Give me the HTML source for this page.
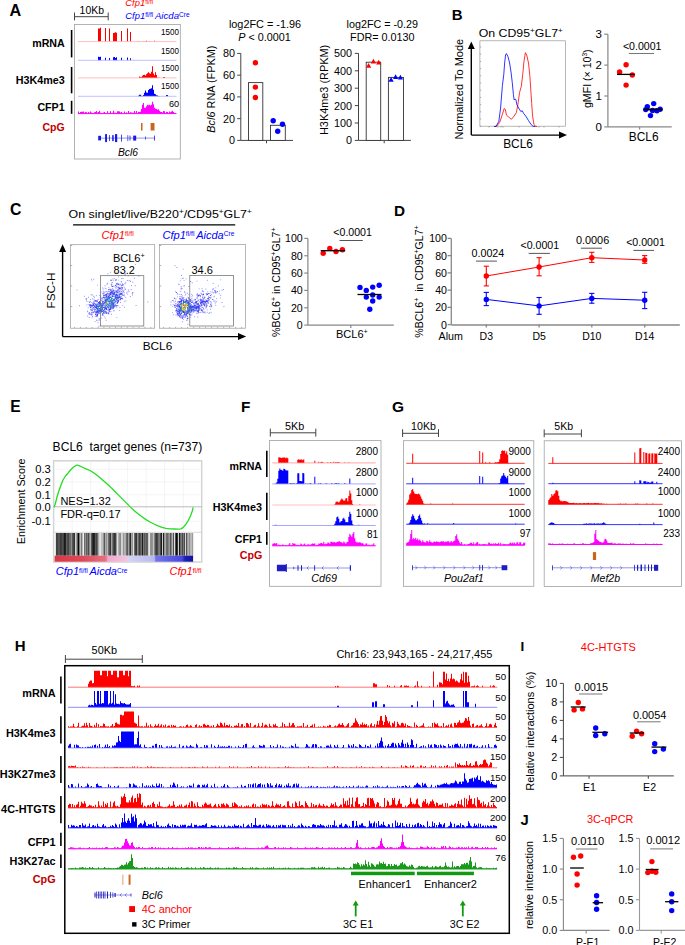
<!DOCTYPE html><html><head><meta charset="utf-8"><style>html,body{margin:0;padding:0;background:#fff;}svg{display:block;font-family:"Liberation Sans",sans-serif;}text{white-space:pre;}</style></head><body><svg width="685" height="945" viewBox="0 0 685 945"><rect width="685" height="945" fill="#fff"/><text x="9.6" y="16" font-size="16.2" font-weight="bold">A</text><line x1="74.5" y1="16.7" x2="108.2" y2="16.7" stroke="#444" stroke-width="1"/><line x1="74.5" y1="12.5" x2="74.5" y2="20.4" stroke="#444" stroke-width="1"/><line x1="108.2" y1="12.5" x2="108.2" y2="20.4" stroke="#444" stroke-width="1"/><text x="79.6" y="13.7" font-size="10.45">10Kb</text><text transform="translate(125.3,6.4)" fill="#ff0000"><tspan x="0" y="0" font-size="9.4" font-style="italic">Cfp1</tspan><tspan x="19.86" y="-2.2" font-size="6.3">fl/fl</tspan></text><text transform="translate(125.3,19.3)" fill="#0000ff"><tspan x="0" y="0" font-size="9.4" font-style="italic">Cfp1</tspan><tspan x="19.86" y="-2.2" font-size="6.3">fl/fl</tspan><tspan x="27.91" y="0" font-size="6.4" font-style="italic"> </tspan><tspan x="29.68" y="0" font-size="9.6" font-style="italic">Aicda</tspan><tspan x="53.7" y="-2.2" font-size="6.6">Cre</tspan></text><rect x="74.5" y="24.4" width="105.8" height="134.6" fill="none" stroke="#a0a0a0" stroke-width="0.8"/><text x="32.2" y="47.3" font-size="10.67" font-weight="bold">mRNA</text><text x="15.78" y="83.8" font-size="10.75" font-weight="bold">H3K4me3</text><text x="37.39" y="110.5" font-size="10.65" font-weight="bold">CFP1</text><text x="42.44" y="130.5" font-size="10.5" font-weight="bold" fill="#c00000">CpG</text><line x1="71.6" y1="30" x2="71.6" y2="57.4" stroke="#000" stroke-width="1.6"/><line x1="71.6" y1="67" x2="71.6" y2="93.3" stroke="#000" stroke-width="1.6"/><line x1="71.6" y1="100.8" x2="71.6" y2="113.8" stroke="#000" stroke-width="1.6"/><path d="M78 41.6V41.6H79V41.6H80V41.6H81V41.6H82V41.6H83V41.6H84V41.6H85V41.6H86V41.6H87V41.6H88V41.6H89V41.6H90V41.6H91V41.6H92V41.6H93V41.6H94V41.6H95V41.6H96V41.6H97V41.6H98V28.46H99V28.45H100V27.84H101V41.6H102V41.6H103V41.6H104V41.6H105V28.06H106V41.6H107V41.6H108V41.6H109V28.57H110V41.6H111V41.6H112V41.6H113V32.97H114V32.87H115V32.35H116V32.78H117V41.6H118V41.6H119V41.6H120V41.6H121V31H122V41.6H123V41.6H124V41.6H125V41.6H126V41.6H127V28.6H128V41.6H129V41.6H130V32H131V41.6H132V41.6H133V41.6H134V41.6H135V41.6H136V41.6H137V41.6H138V41.08H139V41.6H140V41.6H141V41.6H142V41.6H143V41.16H144V41.31H145V41.13H146V40.77H147V41.6H148V41.6H149V41.31H150V41.24H151V41.6H152V41.6H153V41.6H154V40.77H155V41.6H156V41.6H157V41.6H158V41.6H159V41.6H160V41.6H161V41.6H162V41.6H163V41.6H164V41.6H165V41.6H166V41.6H167V41.6H168V41.6H169V41.6H170V41.6H171V41.6H172V41.6H173V41.6H174V41.6H175V41.6H176V41.6Z" fill="#ff0000"/><line x1="78" y1="41.6" x2="176.5" y2="41.6" stroke="#ffb0b0" stroke-width="0.8"/><text transform="translate(161.1,35.3) scale(0.879,1)" font-size="9.2">1500</text><path d="M78 60.3V60.3H79V60.3H80V60.3H81V60.3H82V60.3H83V60.3H84V60.3H85V60.3H86V60.3H87V60.3H88V60.3H89V60.3H90V60.3H91V60.3H92V60.3H93V60.3H94V60.3H95V60.3H96V60.3H97V60.3H98V56.68H99V56.91H100V56.78H101V60.3H102V60.3H103V60.3H104V60.3H105V57.66H106V60.3H107V60.3H108V60.3H109V58.03H110V60.3H111V60.3H112V60.3H113V57.16H114V57.11H115V57.9H116V57.35H117V60.3H118V60.3H119V60.3H120V60.3H121V57.8H122V60.3H123V60.3H124V60.3H125V60.3H126V60.3H127V57.5H128V60.3H129V60.3H130V58.3H131V60.3H132V60.3H133V60.3H134V60.3H135V60.3H136V60.3H137V60.3H138V60.3H139V60.3H140V60.3H141V60.3H142V60.3H143V60.3H144V60.3H145V60.3H146V60.3H147V60.3H148V60.3H149V60.3H150V60.3H151V60.3H152V60.3H153V60.3H154V60.3H155V60.3H156V60.3H157V60.3H158V60.3H159V60.3H160V60.3H161V60.3H162V60.3H163V60.3H164V60.3H165V60.3H166V60.3H167V60.3H168V60.3H169V60.3H170V60.3H171V60.3H172V60.3H173V60.3H174V60.3H175V60.3H176V60.3Z" fill="#0000ff"/><line x1="78" y1="60.3" x2="176.5" y2="60.3" stroke="#b0b0ff" stroke-width="0.8"/><text transform="translate(161.1,53.6) scale(0.879,1)" font-size="9.2">1500</text><path d="M78 77.9V77.9H79V77.9H80V77.9H81V77.9H82V77.9H83V77.9H84V77.9H85V77.9H86V77.9H87V77.9H88V77.9H89V77.9H90V77.9H91V77.9H92V77.9H93V77.9H94V77.9H95V77.9H96V77.9H97V77.9H98V77.9H99V77.9H100V77.9H101V77.9H102V77.9H103V77.9H104V77.9H105V77.9H106V77.9H107V77.9H108V77.9H109V77.9H110V77.9H111V77.9H112V77.9H113V77.9H114V77.9H115V77.9H116V77.9H117V77.9H118V77.9H119V77.9H120V77.9H121V77.9H122V77.9H123V77.9H124V77.9H125V77.9H126V77.9H127V77.9H128V77.9H129V77.9H130V77.9H131V77.9H132V77.9H133V77.9H134V77.9H135V77.9H136V77.9H137V77.9H138V77.9H139V76.4H140V76.9H141V76.95H142V75.77H143V75.02H144V74.73H145V75.5H146V74.22H147V73.34H148V72.22H149V73.2H150V73.75H151V71.69H152V66.28H153V73.46H154V75.28H155V72.14H156V75.02H157V77.52H158V77.73H159V77.82H160V77.9H161V77.9H162V77.9H163V77.1H164V77.1H165V77.9H166V77.9H167V77.9H168V77.9H169V77.9H170V77.9H171V77.9H172V77.9H173V77.9H174V77.9H175V77.9H176V77.9Z" fill="#ff0000"/><line x1="78" y1="77.9" x2="176.5" y2="77.9" stroke="#ffb0b0" stroke-width="0.8"/><text transform="translate(161.1,71.3) scale(0.879,1)" font-size="9.2">1500</text><path d="M78 96.3V96.3H79V96.3H80V96.3H81V96.3H82V96.3H83V96.3H84V96.3H85V96.3H86V96.3H87V96.3H88V96.3H89V96.3H90V96.3H91V96.3H92V96.3H93V96.3H94V96.3H95V96.3H96V96.3H97V96.3H98V96.3H99V96.3H100V96.3H101V96.3H102V96.3H103V96.3H104V96.3H105V96.3H106V96.3H107V96.3H108V96.3H109V96.3H110V96.3H111V96.3H112V96.3H113V96.3H114V96.3H115V96.3H116V96.3H117V96.3H118V96.3H119V96.3H120V96.3H121V96.3H122V96.3H123V96.3H124V96.3H125V96.3H126V96.3H127V96.3H128V96.3H129V96.3H130V96.3H131V96.3H132V96.3H133V96.3H134V96.3H135V96.3H136V96.3H137V96.22H138V95.75H139V94.87H140V94.86H141V95.71H142V95.93H143V95.01H144V92.71H145V90.61H146V92.5H147V92.79H148V89.94H149V89.05H150V88.71H151V88.27H152V85.26H153V89.78H154V93.74H155V94.2H156V95.15H157V95.52H158V95.94H159V96.11H160V96.18H161V96.25H162V96.3H163V96.3H164V96.3H165V96.3H166V95H167V95H168V96.3H169V96.3H170V96.3H171V96.3H172V96.3H173V96.3H174V96.3H175V96.3H176V96.3Z" fill="#0000ff"/><line x1="78" y1="96.3" x2="176.5" y2="96.3" stroke="#b0b0ff" stroke-width="0.8"/><text transform="translate(161.1,89.4) scale(0.879,1)" font-size="9.2">1500</text><path d="M78 113.6V111.48H79V112.94H80V112.05H81V111.71H82V111.68H83V111.56H84V112.69H85V111.98H86V112.36H87V112.93H88V111.97H89V112.83H90V111.56H91V112.62H92V113.01H93V112.9H94V112.27H95V112.07H96V111.01H97V112.46H98V111.93H99V110.81H100V112.79H101V112.88H102V113.08H103V112.44H104V112.05H105V113.01H106V113.05H107V111.3H108V113.1H109V113.1H110V111.14H111V112.88H112V112.74H113V110.7H114V112.67H115V112.72H116V112.96H117V111.19H118V111.2H119V111.44H120V112.46H121V111.9H122V113.08H123V112.93H124V111.62H125V113.1H126V112.27H127V112.94H128V111.03H129V112.7H130V112.2H131V112.56H132V112.76H133V112.85H134V111.06H135V112.85H136V110.99H137V113.05H138V111.86H139V112.02H140V111.63H141V109.11H142V104.73H143V103.02H144V107.86H145V107.82H146V106.32H147V104.83H148V105.31H149V104.8H150V105.56H151V104.73H152V101.68H153V104.15H154V107.72H155V108.81H156V108.99H157V109.64H158V109.29H159V110.69H160V111.7H161V111.89H162V112.39H163V111.06H164V111.31H165V113.07H166V111.75H167V112.08H168V113H169V111.61H170V112.26H171V111.6H172V110.72H173V111.98H174V113.08H175V113.1H176V113.6Z" fill="#ff00ff"/><line x1="78" y1="113.6" x2="176.5" y2="113.6" stroke="#ff00ff" stroke-width="1"/><text x="168.89" y="107.2" font-size="9.2">60</text><rect x="141" y="123" width="1.5" height="7.5" fill="#c8641e"/><rect x="150.6" y="123" width="3.9" height="7.5" fill="#c8641e"/><line x1="98.5" y1="138.1" x2="154.6" y2="138.1" stroke="#7b7be0" stroke-width="0.8"/><rect x="98.2" y="135.8" width="2.8" height="4.6" fill="#1a1ae6"/><rect x="105.1" y="134.1" width="1.9" height="8" fill="#1a1ae6"/><rect x="109.2" y="135.1" width="0.8" height="6" fill="#1a1ae6"/><rect x="112" y="135.1" width="0.8" height="6" fill="#1a1ae6"/><rect x="113.3" y="135.1" width="0.7" height="6" fill="#1a1ae6"/><rect x="115" y="134.1" width="2.2" height="8" fill="#1a1ae6"/><rect x="121.1" y="134.6" width="0.8" height="7" fill="#1a1ae6"/><rect x="127.5" y="135.1" width="0.7" height="6" fill="#1a1ae6"/><rect x="129.6" y="135.6" width="0.8" height="5" fill="#1a1ae6"/><rect x="133.2" y="135.6" width="3" height="5" fill="#1a1ae6"/><rect x="145.3" y="136.6" width="0.7" height="3" fill="#1a1ae6"/><rect x="154.2" y="135.6" width="0.8" height="5" fill="#1a1ae6"/><text x="117.9" y="155.8" font-size="10.3" font-style="italic">Bcl6</text><text x="228.9" y="27.85" font-size="10.88">log2FC = -1.96</text><text transform="translate(238.2,41)"><tspan x="0" y="0" font-size="10.8" font-style="italic">P</tspan><tspan x="7.2" y="0" font-size="10.8"> &lt; 0.0001</tspan></text><line x1="240.8" y1="53.4" x2="240.8" y2="140.4" stroke="#444" stroke-width="1"/><line x1="237.2" y1="53.4" x2="240.8" y2="53.4" stroke="#444" stroke-width="1"/><text x="223.01" y="57.3" font-size="10.8">80</text><line x1="237.2" y1="75.15" x2="240.8" y2="75.15" stroke="#444" stroke-width="1"/><text x="223.01" y="79.05" font-size="10.8">60</text><line x1="237.2" y1="96.9" x2="240.8" y2="96.9" stroke="#444" stroke-width="1"/><text x="223.01" y="100.8" font-size="10.8">40</text><line x1="237.2" y1="118.65" x2="240.8" y2="118.65" stroke="#444" stroke-width="1"/><text x="223.01" y="122.55" font-size="10.8">20</text><line x1="237.2" y1="140.4" x2="240.8" y2="140.4" stroke="#444" stroke-width="1"/><text x="229.01" y="144.3" font-size="10.8">0</text><line x1="240.8" y1="140.4" x2="293" y2="140.4" stroke="#444" stroke-width="1"/><line x1="266.5" y1="140.4" x2="266.5" y2="143.3" stroke="#444" stroke-width="1"/><rect x="248.5" y="82.6" width="14.3" height="57.8" fill="#fff" stroke="#333" stroke-width="0.9"/><rect x="270.5" y="125.3" width="14.8" height="15.1" fill="#fff" stroke="#333" stroke-width="0.9"/><circle cx="255.4" cy="62.7" r="2.7" fill="#ff0000"/><circle cx="255.4" cy="87.1" r="2.7" fill="#ff0000"/><circle cx="255.4" cy="97.5" r="2.7" fill="#ff0000"/><circle cx="273.2" cy="120.8" r="2.7" fill="#0000ff"/><circle cx="282.5" cy="124.3" r="2.7" fill="#0000ff"/><circle cx="277.7" cy="131.2" r="2.7" fill="#0000ff"/><text transform="translate(214.9,89.1) rotate(-90)"><tspan x="-43.61" y="0" font-size="10.9" font-style="italic">Bcl6</tspan><tspan x="-22.4" y="0" font-size="10.9"> RNA (FPKM)</tspan></text><text x="346.6" y="27.85" font-size="10.75">log2FC = -0.29</text><text x="350.1" y="41" font-size="10.8">FDR= 0.0130</text><line x1="358.5" y1="53.4" x2="358.5" y2="140.4" stroke="#444" stroke-width="1"/><line x1="354.8" y1="53.4" x2="358.5" y2="53.4" stroke="#444" stroke-width="1"/><text x="333.96" y="57.3" font-size="10.8">500</text><line x1="354.8" y1="70.8" x2="358.5" y2="70.8" stroke="#444" stroke-width="1"/><text x="333.96" y="74.7" font-size="10.8">400</text><line x1="354.8" y1="88.2" x2="358.5" y2="88.2" stroke="#444" stroke-width="1"/><text x="333.96" y="92.1" font-size="10.8">300</text><line x1="354.8" y1="105.6" x2="358.5" y2="105.6" stroke="#444" stroke-width="1"/><text x="333.96" y="109.5" font-size="10.8">200</text><line x1="354.8" y1="123" x2="358.5" y2="123" stroke="#444" stroke-width="1"/><text x="333.96" y="126.9" font-size="10.8">100</text><line x1="354.8" y1="140.4" x2="358.5" y2="140.4" stroke="#444" stroke-width="1"/><text x="346.01" y="144.3" font-size="10.8">0</text><line x1="358.5" y1="140.4" x2="410.9" y2="140.4" stroke="#444" stroke-width="1"/><line x1="384.2" y1="140.4" x2="384.2" y2="143.3" stroke="#444" stroke-width="1"/><rect x="366.2" y="62.2" width="14.5" height="78.2" fill="#fff" stroke="#333" stroke-width="0.9"/><rect x="388.4" y="77.4" width="15.1" height="63" fill="#fff" stroke="#333" stroke-width="0.9"/><path d="M366 67.74L371.2 67.74L368.6 63.06Z" fill="#ff0000"/><path d="M370.8 63.44L376 63.44L373.4 58.76Z" fill="#ff0000"/><path d="M376.1 64.54L381.3 64.54L378.7 59.86Z" fill="#ff0000"/><path d="M388.5 81.74L393.7 81.74L391.1 77.06Z" fill="#0000ff"/><path d="M393 78.94L398.2 78.94L395.6 74.26Z" fill="#0000ff"/><path d="M397.8 79.44L403 79.44L400.4 74.76Z" fill="#0000ff"/><text transform="translate(327.5,89.9) rotate(-90)"><tspan x="-45.13" y="0" font-size="10.9">H3K4me3 (RPKM)</tspan></text><text x="451.8" y="19.5" font-size="15" font-weight="bold">B</text><text transform="translate(478.7,37) scale(1.045,1)"><tspan x="0" y="0" font-size="11.8">On CD95</tspan><tspan x="49.19" y="-4.3" font-size="7.7">+</tspan><tspan x="53.69" y="0" font-size="11.8">GL7</tspan><tspan x="75.99" y="-4.3" font-size="7.7">+</tspan></text><rect x="479.9" y="40.8" width="85.7" height="85.4" fill="none" stroke="#999" stroke-width="0.7"/><line x1="471.3" y1="135.1" x2="471.3" y2="48" stroke="#000" stroke-width="1.4"/><path d="M467.8 49L471.3 41.5L474.8 49Z" fill="#000"/><line x1="471.3" y1="135.1" x2="560" y2="135.1" stroke="#000" stroke-width="1.4"/><path d="M559 131.6L567 135.1L559 138.6Z" fill="#000"/><text transform="translate(463,89.2) rotate(-90)"><tspan x="-50.34" y="0" font-size="11">Normalized To Mode</tspan></text><text x="503.2" y="148" font-size="11.9">BCL6</text><line x1="479.9" y1="126.2" x2="481.2" y2="126.2" stroke="#666" stroke-width="0.5"/><line x1="479.9" y1="119" x2="481.2" y2="119" stroke="#666" stroke-width="0.5"/><line x1="479.9" y1="111.8" x2="481.2" y2="111.8" stroke="#666" stroke-width="0.5"/><line x1="479.9" y1="104.6" x2="481.2" y2="104.6" stroke="#666" stroke-width="0.5"/><line x1="479.9" y1="97.4" x2="481.2" y2="97.4" stroke="#666" stroke-width="0.5"/><line x1="479.9" y1="90.2" x2="481.2" y2="90.2" stroke="#666" stroke-width="0.5"/><line x1="479.9" y1="83" x2="481.2" y2="83" stroke="#666" stroke-width="0.5"/><line x1="479.9" y1="75.8" x2="481.2" y2="75.8" stroke="#666" stroke-width="0.5"/><line x1="479.9" y1="68.6" x2="481.2" y2="68.6" stroke="#666" stroke-width="0.5"/><line x1="479.9" y1="61.4" x2="481.2" y2="61.4" stroke="#666" stroke-width="0.5"/><line x1="479.9" y1="54.2" x2="481.2" y2="54.2" stroke="#666" stroke-width="0.5"/><line x1="479.9" y1="47" x2="481.2" y2="47" stroke="#666" stroke-width="0.5"/><line x1="489" y1="126.2" x2="489" y2="127.6" stroke="#666" stroke-width="0.5"/><line x1="498" y1="126.2" x2="498" y2="127.6" stroke="#666" stroke-width="0.5"/><line x1="501" y1="126.2" x2="501" y2="127.6" stroke="#666" stroke-width="0.5"/><line x1="503" y1="126.2" x2="503" y2="127.6" stroke="#666" stroke-width="0.5"/><line x1="519" y1="126.2" x2="519" y2="127.6" stroke="#666" stroke-width="0.5"/><line x1="539" y1="126.2" x2="539" y2="127.6" stroke="#666" stroke-width="0.5"/><line x1="544" y1="126.2" x2="544" y2="127.6" stroke="#666" stroke-width="0.5"/><line x1="559" y1="126.2" x2="559" y2="127.6" stroke="#666" stroke-width="0.5"/><polyline points="494.5,126.5 496.6,126.3 499.7,122.4 502.4,114.3 504.2,108.5 505.3,109.4 506.5,115.2 508.7,117 511.4,119.3 514.1,116.1 516.4,112.5 518.2,102.6 519.5,92.7 521.3,86.4 522.7,74.7 524,61.2 525.4,52.7 526.7,54.9 528.5,63 529.9,76.5 530.8,90 531.7,103.5 532.6,116.1 533.9,124.2 535.3,126.3 537,126.5" fill="none" stroke="#ff0000" stroke-width="0.8" stroke-linejoin="round"/><polyline points="494,126.5 496.1,126.3 498.8,121.5 500.6,108 502.4,85.5 503.75,74.7 504.65,63 505.55,54.9 506.45,53.6 508,56.7 509.6,63 511,72 512.3,82.8 513.4,94.5 514.1,99.9 515,99 515.9,99.5 516.8,104.4 518.6,108 520.9,111.6 522.2,110.7 523.6,113.4 525.8,116.1 528.5,120.6 531.2,124.7 533,126.3 535,126.5" fill="none" stroke="#0000ff" stroke-width="0.8" stroke-linejoin="round"/><line x1="607.9" y1="34.2" x2="607.9" y2="126.9" stroke="#888" stroke-width="1.2"/><line x1="604.3" y1="34.2" x2="607.9" y2="34.2" stroke="#888" stroke-width="1.2"/><text x="595.62" y="38.4" font-size="11.5">3</text><line x1="604.3" y1="65.1" x2="607.9" y2="65.1" stroke="#888" stroke-width="1.2"/><text x="595.62" y="69.3" font-size="11.5">2</text><line x1="604.3" y1="96" x2="607.9" y2="96" stroke="#888" stroke-width="1.2"/><text x="595.62" y="100.2" font-size="11.5">1</text><line x1="604.3" y1="126.9" x2="607.9" y2="126.9" stroke="#888" stroke-width="1.2"/><text x="595.62" y="131.1" font-size="11.5">0</text><line x1="607.9" y1="126.9" x2="671.7" y2="126.9" stroke="#888" stroke-width="1.2"/><line x1="639.6" y1="126.9" x2="639.6" y2="129.6" stroke="#888" stroke-width="1.2"/><text x="628.8" y="141.3" font-size="11.9">BCL6</text><text x="622.9" y="49.8" font-size="10.6">&lt;0.0001</text><line x1="628.8" y1="53.5" x2="654" y2="53.5" stroke="#777" stroke-width="1"/><text transform="translate(591,78.7) rotate(-90)"><tspan x="-29.35" y="0" font-size="10.6">gMFI (× 10</tspan><tspan x="22.2" y="-4" font-size="6.5">3</tspan><tspan x="25.82" y="0" font-size="10.6">)</tspan></text><circle cx="626.1" cy="64.7" r="2.7" fill="#ff0000"/><circle cx="619.6" cy="72" r="2.7" fill="#ff0000"/><circle cx="632.3" cy="75" r="2.7" fill="#ff0000"/><circle cx="626.1" cy="85.1" r="2.7" fill="#ff0000"/><line x1="617" y1="74.4" x2="634.7" y2="74.4" stroke="#000" stroke-width="1.3"/><circle cx="647.3" cy="106.8" r="2.7" fill="#0000ff"/><circle cx="653.7" cy="103.6" r="2.7" fill="#0000ff"/><circle cx="656.9" cy="110.8" r="2.7" fill="#0000ff"/><circle cx="660.1" cy="109.2" r="2.7" fill="#0000ff"/><circle cx="650.5" cy="115.6" r="2.7" fill="#0000ff"/><circle cx="645.7" cy="109.6" r="2.7" fill="#0000ff"/><circle cx="652.5" cy="110.5" r="2.7" fill="#0000ff"/><line x1="644" y1="109.5" x2="662.5" y2="109.5" stroke="#000" stroke-width="1.8"/><text x="9.9" y="214.9" font-size="15.8" font-weight="bold">C</text><text transform="translate(68.5,218.4) scale(1.070,1)"><tspan x="0" y="0" font-size="11.6">On singlet/live/B220</tspan><tspan x="103.17" y="-4.2" font-size="7.6">+</tspan><tspan x="107.61" y="0" font-size="11.6">/CD95</tspan><tspan x="140.49" y="-4.2" font-size="7.6">+</tspan><tspan x="144.93" y="0" font-size="11.6">GL7</tspan><tspan x="166.86" y="-4.2" font-size="7.6">+</tspan></text><line x1="73.1" y1="224.8" x2="235.2" y2="224.8" stroke="#000" stroke-width="1.3"/><text transform="translate(101.6,238.6)" fill="#ff0000"><tspan x="0" y="0" font-size="11.1" font-style="italic">Cfp1</tspan><tspan x="23.45" y="-2.4" font-size="6.8">fl/fl</tspan></text><text transform="translate(162.4,238.6)" fill="#0000ff"><tspan x="0" y="0" font-size="11.1" font-style="italic">Cfp1</tspan><tspan x="23.45" y="-2.4" font-size="6.8">fl/fl</tspan><tspan x="32.14" y="0" font-size="6" font-style="italic"> </tspan><tspan x="33.8" y="0" font-size="11" font-style="italic">Aicda</tspan><tspan x="61.32" y="-2.4" font-size="6.6">Cre</tspan></text><rect x="70.6" y="244.7" width="84.1" height="83.5" fill="none" stroke="#999" stroke-width="0.7"/><rect x="159.6" y="244.4" width="86" height="83.8" fill="none" stroke="#999" stroke-width="0.7"/><line x1="62.6" y1="336.6" x2="62.6" y2="251" stroke="#000" stroke-width="1.4"/><path d="M59.1 252L62.6 244.2L66.1 252Z" fill="#000"/><line x1="62.6" y1="336.6" x2="239" y2="336.6" stroke="#000" stroke-width="1.4"/><path d="M238 333.1L246.2 336.6L238 340.1Z" fill="#000"/><text transform="translate(54.6,290.5) rotate(-90)"><tspan x="-18.03" y="0" font-size="11.8">FSC-H</tspan></text><text x="142.7" y="349.5" font-size="11.8">BCL6</text><line x1="70.6" y1="245.5" x2="72.2" y2="245.5" stroke="#777" stroke-width="0.6"/><line x1="70.6" y1="265.5" x2="72.2" y2="265.5" stroke="#777" stroke-width="0.6"/><line x1="70.6" y1="286" x2="72.2" y2="286" stroke="#777" stroke-width="0.6"/><line x1="70.6" y1="306.6" x2="72.2" y2="306.6" stroke="#777" stroke-width="0.6"/><line x1="159.6" y1="245.5" x2="161.2" y2="245.5" stroke="#777" stroke-width="0.6"/><line x1="159.6" y1="265.5" x2="161.2" y2="265.5" stroke="#777" stroke-width="0.6"/><line x1="159.6" y1="286" x2="161.2" y2="286" stroke="#777" stroke-width="0.6"/><line x1="159.6" y1="306.6" x2="161.2" y2="306.6" stroke="#777" stroke-width="0.6"/><line x1="74.6" y1="328.2" x2="74.6" y2="326.9" stroke="#777" stroke-width="0.5"/><line x1="80.45" y1="328.2" x2="80.45" y2="326.9" stroke="#777" stroke-width="0.5"/><line x1="86.31" y1="328.2" x2="86.31" y2="326.9" stroke="#777" stroke-width="0.5"/><line x1="92.16" y1="328.2" x2="92.16" y2="326.9" stroke="#777" stroke-width="0.5"/><line x1="98.02" y1="328.2" x2="98.02" y2="326.9" stroke="#777" stroke-width="0.5"/><line x1="103.87" y1="328.2" x2="103.87" y2="326.9" stroke="#777" stroke-width="0.5"/><line x1="109.72" y1="328.2" x2="109.72" y2="326.9" stroke="#777" stroke-width="0.5"/><line x1="115.58" y1="328.2" x2="115.58" y2="326.9" stroke="#777" stroke-width="0.5"/><line x1="121.43" y1="328.2" x2="121.43" y2="326.9" stroke="#777" stroke-width="0.5"/><line x1="127.28" y1="328.2" x2="127.28" y2="326.9" stroke="#777" stroke-width="0.5"/><line x1="133.14" y1="328.2" x2="133.14" y2="326.9" stroke="#777" stroke-width="0.5"/><line x1="138.99" y1="328.2" x2="138.99" y2="326.9" stroke="#777" stroke-width="0.5"/><line x1="144.85" y1="328.2" x2="144.85" y2="326.9" stroke="#777" stroke-width="0.5"/><line x1="150.7" y1="328.2" x2="150.7" y2="326.9" stroke="#777" stroke-width="0.5"/><line x1="163.6" y1="328.2" x2="163.6" y2="326.9" stroke="#777" stroke-width="0.5"/><line x1="169.6" y1="328.2" x2="169.6" y2="326.9" stroke="#777" stroke-width="0.5"/><line x1="175.6" y1="328.2" x2="175.6" y2="326.9" stroke="#777" stroke-width="0.5"/><line x1="181.6" y1="328.2" x2="181.6" y2="326.9" stroke="#777" stroke-width="0.5"/><line x1="187.6" y1="328.2" x2="187.6" y2="326.9" stroke="#777" stroke-width="0.5"/><line x1="193.6" y1="328.2" x2="193.6" y2="326.9" stroke="#777" stroke-width="0.5"/><line x1="199.6" y1="328.2" x2="199.6" y2="326.9" stroke="#777" stroke-width="0.5"/><line x1="205.6" y1="328.2" x2="205.6" y2="326.9" stroke="#777" stroke-width="0.5"/><line x1="211.6" y1="328.2" x2="211.6" y2="326.9" stroke="#777" stroke-width="0.5"/><line x1="217.6" y1="328.2" x2="217.6" y2="326.9" stroke="#777" stroke-width="0.5"/><line x1="223.6" y1="328.2" x2="223.6" y2="326.9" stroke="#777" stroke-width="0.5"/><line x1="229.6" y1="328.2" x2="229.6" y2="326.9" stroke="#777" stroke-width="0.5"/><line x1="235.6" y1="328.2" x2="235.6" y2="326.9" stroke="#777" stroke-width="0.5"/><line x1="241.6" y1="328.2" x2="241.6" y2="326.9" stroke="#777" stroke-width="0.5"/><path d="M123.71 293.79h.9v.9h-.9zM111.94 291.06h.9v.9h-.9zM109.76 288.7h.9v.9h-.9zM134.8 285.27h.9v.9h-.9zM117.02 302.16h.9v.9h-.9zM115.99 286.03h.9v.9h-.9zM118.88 293.3h.9v.9h-.9zM120.44 293.73h.9v.9h-.9zM104.86 317.71h.9v.9h-.9zM91.53 317.4h.9v.9h-.9zM96.95 313.93h.9v.9h-.9zM132.03 294.57h.9v.9h-.9zM89.79 301.24h.9v.9h-.9zM105.97 291.16h.9v.9h-.9zM119.79 293.79h.9v.9h-.9zM120.8 281.04h.9v.9h-.9zM121.18 297.73h.9v.9h-.9zM113.77 277.88h.9v.9h-.9zM111.43 282.25h.9v.9h-.9zM123.76 291.78h.9v.9h-.9zM124.45 274.29h.9v.9h-.9zM124.33 288.42h.9v.9h-.9zM92.11 303.17h.9v.9h-.9zM120.36 287.21h.9v.9h-.9zM102.04 314.4h.9v.9h-.9zM102.73 297.13h.9v.9h-.9zM109.56 292.55h.9v.9h-.9zM119.08 298.94h.9v.9h-.9zM121.23 272.09h.9v.9h-.9zM96.95 299.55h.9v.9h-.9zM89.99 301.35h.9v.9h-.9zM121.75 287.62h.9v.9h-.9zM83.9 295.79h.9v.9h-.9zM117.8 292.54h.9v.9h-.9zM97.1 312.19h.9v.9h-.9zM112.78 280.19h.9v.9h-.9zM122.68 284.91h.9v.9h-.9zM101.65 297.72h.9v.9h-.9zM93.91 296.87h.9v.9h-.9zM122.97 290.91h.9v.9h-.9zM118.29 288.47h.9v.9h-.9zM119.55 290.05h.9v.9h-.9zM121 294.35h.9v.9h-.9zM117.54 294.5h.9v.9h-.9zM109.46 288.66h.9v.9h-.9zM87.47 300.91h.9v.9h-.9zM98.56 325.81h.9v.9h-.9zM87.22 311.38h.9v.9h-.9zM115.01 300.84h.9v.9h-.9zM110.55 310.9h.9v.9h-.9zM113.61 289.67h.9v.9h-.9zM92.21 298.24h.9v.9h-.9zM115.68 284.57h.9v.9h-.9zM120.78 291.41h.9v.9h-.9zM107.17 292.85h.9v.9h-.9zM116.44 271.84h.9v.9h-.9zM91.5 280.4h.9v.9h-.9zM130.75 289.01h.9v.9h-.9zM104.89 311.37h.9v.9h-.9zM125.35 281.82h.9v.9h-.9zM122.34 294.22h.9v.9h-.9zM132.29 281.87h.9v.9h-.9zM105.67 311.44h.9v.9h-.9zM132.82 272.69h.9v.9h-.9zM117.67 291.77h.9v.9h-.9zM115.57 286.91h.9v.9h-.9zM106.4 312.73h.9v.9h-.9zM95.87 295.28h.9v.9h-.9zM90.69 309.67h.9v.9h-.9zM103.54 312.48h.9v.9h-.9zM94.74 315.82h.9v.9h-.9zM95.05 312.72h.9v.9h-.9zM85.79 304.69h.9v.9h-.9zM93.29 278.79h.9v.9h-.9zM116.26 302.9h.9v.9h-.9zM101.11 312.19h.9v.9h-.9zM115.65 284.72h.9v.9h-.9zM90.1 299.06h.9v.9h-.9zM100.27 299.52h.9v.9h-.9zM97.15 284.7h.9v.9h-.9zM100.28 298.9h.9v.9h-.9zM105.21 296.99h.9v.9h-.9zM118.27 282.91h.9v.9h-.9zM102.34 287.47h.9v.9h-.9zM93.44 301.23h.9v.9h-.9zM122.02 297.63h.9v.9h-.9zM92.08 316h.9v.9h-.9zM122.26 298.79h.9v.9h-.9zM110.91 284.47h.9v.9h-.9zM87.6 304.19h.9v.9h-.9zM115.11 303.63h.9v.9h-.9zM93.19 306.63h.9v.9h-.9zM120.13 302.1h.9v.9h-.9zM117.99 284.12h.9v.9h-.9zM101.3 291.63h.9v.9h-.9zM91.34 301.88h.9v.9h-.9zM90.55 306.17h.9v.9h-.9zM98.92 319.72h.9v.9h-.9zM119.47 307.09h.9v.9h-.9zM124.37 295.65h.9v.9h-.9zM117.18 286.87h.9v.9h-.9zM116.58 291.91h.9v.9h-.9zM122.34 294.92h.9v.9h-.9zM125.14 288.64h.9v.9h-.9zM115.59 280.11h.9v.9h-.9zM90.51 310.42h.9v.9h-.9zM122.08 283.21h.9v.9h-.9zM94.24 301.25h.9v.9h-.9zM121.37 289.2h.9v.9h-.9zM119.89 283.81h.9v.9h-.9zM96.46 316.26h.9v.9h-.9zM117.62 288.7h.9v.9h-.9zM97.01 303.61h.9v.9h-.9zM122.03 285.12h.9v.9h-.9zM101.12 297.82h.9v.9h-.9zM99.91 297.09h.9v.9h-.9zM131.88 292.95h.9v.9h-.9zM102.69 302.5h.9v.9h-.9zM110.95 289.15h.9v.9h-.9zM116.74 282.83h.9v.9h-.9zM119.13 288.36h.9v.9h-.9zM102.24 293.09h.9v.9h-.9zM126.02 292.48h.9v.9h-.9zM120.99 277.94h.9v.9h-.9zM108.35 287.21h.9v.9h-.9zM107.8 313.53h.9v.9h-.9zM109.9 271.77h.9v.9h-.9zM106.83 309.66h.9v.9h-.9zM92.35 312.65h.9v.9h-.9zM97.47 319.92h.9v.9h-.9zM121.89 289.8h.9v.9h-.9zM120.99 290.86h.9v.9h-.9zM121.16 281.51h.9v.9h-.9zM90.14 308.67h.9v.9h-.9zM95.47 315.66h.9v.9h-.9zM112.47 278.55h.9v.9h-.9zM113.01 289.75h.9v.9h-.9zM105.05 311.96h.9v.9h-.9zM101.79 314.86h.9v.9h-.9zM128.54 280.38h.9v.9h-.9zM108.63 289.38h.9v.9h-.9zM111.41 284.11h.9v.9h-.9zM111.72 285.86h.9v.9h-.9zM106.81 309.27h.9v.9h-.9zM107.73 292.69h.9v.9h-.9zM90.24 305.39h.9v.9h-.9zM105.55 288.28h.9v.9h-.9zM122.25 304.9h.9v.9h-.9zM104.57 287.71h.9v.9h-.9zM99.99 310.77h.9v.9h-.9zM121.9 287.23h.9v.9h-.9zM121.08 296.15h.9v.9h-.9zM116.32 317.14h.9v.9h-.9zM105.6 297.04h.9v.9h-.9zM111.08 313.86h.9v.9h-.9zM135.65 305.08h.9v.9h-.9zM117.48 284.46h.9v.9h-.9zM94.03 309.9h.9v.9h-.9zM91.39 315.16h.9v.9h-.9zM120.84 286.69h.9v.9h-.9zM94.77 320.9h.9v.9h-.9zM92.97 302.72h.9v.9h-.9zM124.63 288.45h.9v.9h-.9zM107.09 282.74h.9v.9h-.9zM105.62 319.86h.9v.9h-.9zM127.17 280.08h.9v.9h-.9zM79.13 305.26h.9v.9h-.9zM116.88 283.09h.9v.9h-.9zM100.51 295.69h.9v.9h-.9zM117.21 289.19h.9v.9h-.9zM113.29 310.53h.9v.9h-.9zM91.52 309.64h.9v.9h-.9zM108.86 291.02h.9v.9h-.9zM112.53 288.83h.9v.9h-.9zM116.32 306.85h.9v.9h-.9zM127.09 293.72h.9v.9h-.9zM111.88 288.23h.9v.9h-.9zM133.84 277.73h.9v.9h-.9zM87.21 315.6h.9v.9h-.9zM107.63 273.25h.9v.9h-.9zM119.22 310.14h.9v.9h-.9zM115.58 288.22h.9v.9h-.9zM119.82 298.1h.9v.9h-.9zM97.11 300.84h.9v.9h-.9zM91.09 278.8h.9v.9h-.9zM118.12 305.39h.9v.9h-.9zM121.48 286.69h.9v.9h-.9zM108.94 296.86h.9v.9h-.9zM91.65 310.02h.9v.9h-.9zM99.82 295.57h.9v.9h-.9zM131.18 285.02h.9v.9h-.9zM101.06 317.72h.9v.9h-.9zM119.26 287.33h.9v.9h-.9zM122.35 284.28h.9v.9h-.9zM90.84 312.7h.9v.9h-.9zM130.17 281.02h.9v.9h-.9zM119.79 292.81h.9v.9h-.9zM123.64 295.18h.9v.9h-.9zM127.82 275.38h.9v.9h-.9zM115.11 291.37h.9v.9h-.9zM89.28 314.08h.9v.9h-.9zM122.79 284.69h.9v.9h-.9zM104.14 316.46h.9v.9h-.9zM128.57 290.75h.9v.9h-.9zM97.66 322.33h.9v.9h-.9zM122.54 278.11h.9v.9h-.9zM110.29 309.16h.9v.9h-.9zM90.7 305.59h.9v.9h-.9zM102.44 293.37h.9v.9h-.9zM138.33 275.49h.9v.9h-.9zM102.66 288.53h.9v.9h-.9zM117.01 305.15h.9v.9h-.9zM92.72 302.19h.9v.9h-.9zM117.52 301.97h.9v.9h-.9zM115.17 280.02h.9v.9h-.9zM114.56 306.43h.9v.9h-.9zM123.81 286.84h.9v.9h-.9zM114.56 306.41h.9v.9h-.9zM102.22 301.24h.9v.9h-.9zM88.69 317h.9v.9h-.9zM93.2 295.81h.9v.9h-.9zM98.27 298.75h.9v.9h-.9zM107.99 290.77h.9v.9h-.9zM89.57 304.07h.9v.9h-.9zM91.82 308.39h.9v.9h-.9zM111.94 308.23h.9v.9h-.9zM87.73 307.31h.9v.9h-.9zM90.46 305.03h.9v.9h-.9zM124.32 300.74h.9v.9h-.9zM115.13 303.78h.9v.9h-.9zM120.58 287.77h.9v.9h-.9zM117.05 303.09h.9v.9h-.9zM90.42 307.46h.9v.9h-.9zM109.67 311.38h.9v.9h-.9zM118.24 279.7h.9v.9h-.9zM116.34 283.17h.9v.9h-.9zM103.24 296.51h.9v.9h-.9zM102.81 290.74h.9v.9h-.9zM128.14 289.51h.9v.9h-.9zM118.14 276.46h.9v.9h-.9zM124.37 283.2h.9v.9h-.9zM113.14 308.01h.9v.9h-.9zM100.61 298.57h.9v.9h-.9zM108.93 294.87h.9v.9h-.9zM120.86 286.45h.9v.9h-.9zM85.62 298.37h.9v.9h-.9zM89.48 306.2h.9v.9h-.9zM124.49 283.45h.9v.9h-.9zM104.56 285.29h.9v.9h-.9zM99.07 295.18h.9v.9h-.9zM112.89 285.85h.9v.9h-.9zM114.74 285.11h.9v.9h-.9zM110.95 285.61h.9v.9h-.9zM96.08 314.48h.9v.9h-.9zM103.3 313.15h.9v.9h-.9zM93.81 310.86h.9v.9h-.9zM124.72 283.31h.9v.9h-.9zM95.97 315.27h.9v.9h-.9zM112.21 282.19h.9v.9h-.9zM123.96 306.81h.9v.9h-.9zM104.66 291.48h.9v.9h-.9zM92.86 304.27h.9v.9h-.9zM92.55 309.1h.9v.9h-.9zM76.57 289.45h.9v.9h-.9zM117.54 289.45h.9v.9h-.9zM88.8 304.48h.9v.9h-.9zM125.6 300.43h.9v.9h-.9zM100.75 312.31h.9v.9h-.9zM125.33 289.22h.9v.9h-.9zM102.01 298.36h.9v.9h-.9zM95.18 301.07h.9v.9h-.9zM115.38 291.87h.9v.9h-.9zM110.86 283.68h.9v.9h-.9zM91.79 294.53h.9v.9h-.9zM147.39 301.49h.9v.9h-.9zM121.91 293.76h.9v.9h-.9zM87.21 310.55h.9v.9h-.9zM90.85 312.61h.9v.9h-.9zM101.06 300.35h.9v.9h-.9zM90.73 294.35h.9v.9h-.9zM125.25 297.16h.9v.9h-.9zM127.35 291.48h.9v.9h-.9zM114.61 290h.9v.9h-.9zM86.06 300.5h.9v.9h-.9zM104.12 312.67h.9v.9h-.9zM110.03 279.87h.9v.9h-.9zM129.85 296.1h.9v.9h-.9zM129.46 279.95h.9v.9h-.9zM135.02 264.16h.9v.9h-.9zM87.92 296.8h.9v.9h-.9zM104.66 291.27h.9v.9h-.9zM125.18 273.48h.9v.9h-.9zM122.07 297.84h.9v.9h-.9zM113.64 310h.9v.9h-.9z" fill="#8484ff"/><path d="M93.26 305.01h.9v.9h-.9zM98.36 306.65h.9v.9h-.9zM98.53 310.71h.9v.9h-.9zM110.66 293.88h.9v.9h-.9zM107.08 304.25h.9v.9h-.9zM95.37 312.02h.9v.9h-.9zM109.55 296.6h.9v.9h-.9zM110.66 297.09h.9v.9h-.9zM108.27 293.56h.9v.9h-.9zM103.64 298.43h.9v.9h-.9zM98.69 318.48h.9v.9h-.9zM117.8 301.43h.9v.9h-.9zM100.41 303.98h.9v.9h-.9zM106.42 312.2h.9v.9h-.9zM102.79 303.02h.9v.9h-.9zM109.67 300.54h.9v.9h-.9zM96.19 310.74h.9v.9h-.9zM96.57 304.72h.9v.9h-.9zM112.11 295.19h.9v.9h-.9zM114.43 305.22h.9v.9h-.9zM119.58 291.47h.9v.9h-.9zM106.15 309h.9v.9h-.9zM119.5 294.26h.9v.9h-.9zM116.41 290.86h.9v.9h-.9zM103.73 299.69h.9v.9h-.9zM109.57 301.8h.9v.9h-.9zM90.46 313.61h.9v.9h-.9zM99.27 303.52h.9v.9h-.9zM106.2 296.55h.9v.9h-.9zM108.25 310.41h.9v.9h-.9zM96 300.37h.9v.9h-.9zM116.25 295.32h.9v.9h-.9zM91.56 314.18h.9v.9h-.9zM96.32 311.89h.9v.9h-.9zM113.57 291.34h.9v.9h-.9zM99.19 310.35h.9v.9h-.9zM108.32 301.31h.9v.9h-.9zM108.28 303.66h.9v.9h-.9zM117.49 298.05h.9v.9h-.9zM114.33 300.01h.9v.9h-.9zM117.41 295.61h.9v.9h-.9zM115.27 284.92h.9v.9h-.9zM94.54 305.37h.9v.9h-.9zM94.86 304.12h.9v.9h-.9zM118.13 300.85h.9v.9h-.9zM113.08 302.98h.9v.9h-.9zM115.93 283.51h.9v.9h-.9zM96.8 310.36h.9v.9h-.9zM100.97 307.4h.9v.9h-.9zM117.63 298.68h.9v.9h-.9zM89.64 305.24h.9v.9h-.9zM121.2 293.29h.9v.9h-.9zM103.66 305h.9v.9h-.9zM112.6 290.19h.9v.9h-.9zM105.26 306.89h.9v.9h-.9zM104.79 299.79h.9v.9h-.9zM109.58 307.86h.9v.9h-.9zM102.23 308.98h.9v.9h-.9zM106.31 293.86h.9v.9h-.9zM93.25 311.79h.9v.9h-.9zM97.46 310.99h.9v.9h-.9zM114.81 295.23h.9v.9h-.9zM98.9 311.27h.9v.9h-.9zM109.99 309.12h.9v.9h-.9zM107.39 296.68h.9v.9h-.9zM116 293.89h.9v.9h-.9zM111.42 292.41h.9v.9h-.9zM111.36 300.97h.9v.9h-.9zM103.2 295.2h.9v.9h-.9zM96.78 310.15h.9v.9h-.9zM108.32 305.33h.9v.9h-.9zM120.68 297.75h.9v.9h-.9zM116.11 294.25h.9v.9h-.9zM117.82 283.9h.9v.9h-.9zM100.61 303.31h.9v.9h-.9zM111.38 290.53h.9v.9h-.9zM92.72 303.87h.9v.9h-.9zM116.32 298.69h.9v.9h-.9zM99.03 301.03h.9v.9h-.9zM98.03 302.1h.9v.9h-.9zM110.7 306.6h.9v.9h-.9zM98.35 305.82h.9v.9h-.9zM113.03 307.47h.9v.9h-.9zM115.64 293.83h.9v.9h-.9zM122.59 294.92h.9v.9h-.9zM118.87 296.25h.9v.9h-.9zM120.38 294.2h.9v.9h-.9zM96.5 301.34h.9v.9h-.9zM106.69 291.41h.9v.9h-.9zM105.61 294.31h.9v.9h-.9zM102.57 305.52h.9v.9h-.9zM106.6 293.27h.9v.9h-.9zM115.64 305.48h.9v.9h-.9zM108.86 300.66h.9v.9h-.9zM100.11 303.83h.9v.9h-.9zM109.19 309.44h.9v.9h-.9zM104.86 297.46h.9v.9h-.9zM108.81 297.98h.9v.9h-.9zM109.84 307.99h.9v.9h-.9zM120.26 299.46h.9v.9h-.9zM94.79 309.01h.9v.9h-.9zM106.28 294.52h.9v.9h-.9zM96.04 305.4h.9v.9h-.9zM106.75 295.6h.9v.9h-.9zM109.04 310.75h.9v.9h-.9zM116.52 297.07h.9v.9h-.9zM96.9 305.73h.9v.9h-.9zM121.19 284.83h.9v.9h-.9zM117.36 283.79h.9v.9h-.9zM113.49 306.8h.9v.9h-.9zM101.98 301.51h.9v.9h-.9zM119.2 294.81h.9v.9h-.9zM113.66 302.13h.9v.9h-.9zM116.6 290.07h.9v.9h-.9zM108.82 305.49h.9v.9h-.9zM107.26 298.39h.9v.9h-.9zM117.95 290.46h.9v.9h-.9zM91.41 306.37h.9v.9h-.9zM96.57 303.51h.9v.9h-.9zM109.42 294.64h.9v.9h-.9zM100.83 306.71h.9v.9h-.9zM110.16 305.36h.9v.9h-.9zM112.33 295.95h.9v.9h-.9zM120.51 288.62h.9v.9h-.9zM112.46 291.42h.9v.9h-.9zM98.45 310.3h.9v.9h-.9zM121.56 292.79h.9v.9h-.9zM96.62 314.18h.9v.9h-.9zM96.92 309.34h.9v.9h-.9zM90.52 313.84h.9v.9h-.9zM94.55 307.31h.9v.9h-.9zM114.02 292.82h.9v.9h-.9zM106.32 298.7h.9v.9h-.9zM118.03 296.63h.9v.9h-.9zM120.35 293.12h.9v.9h-.9zM109.91 292.23h.9v.9h-.9zM121.5 298.2h.9v.9h-.9zM113.46 306.4h.9v.9h-.9zM85.92 298.49h.9v.9h-.9zM115.94 294.2h.9v.9h-.9zM98.09 303.4h.9v.9h-.9zM113.7 296.22h.9v.9h-.9zM109.9 292.9h.9v.9h-.9zM98.32 308.67h.9v.9h-.9zM118.91 297.21h.9v.9h-.9zM115.51 297.29h.9v.9h-.9zM99.28 310.4h.9v.9h-.9zM119.4 296.94h.9v.9h-.9zM116.84 301.27h.9v.9h-.9zM111.83 302.56h.9v.9h-.9zM109.89 294.08h.9v.9h-.9zM103.22 307.07h.9v.9h-.9zM99.42 312.78h.9v.9h-.9zM111.48 298.28h.9v.9h-.9zM123.36 289.68h.9v.9h-.9zM108.47 306.51h.9v.9h-.9zM97.63 306.28h.9v.9h-.9zM91.56 312.12h.9v.9h-.9zM122.52 284.14h.9v.9h-.9zM104.15 301.81h.9v.9h-.9zM97.25 308.95h.9v.9h-.9zM109.21 309.04h.9v.9h-.9zM94.38 305.33h.9v.9h-.9zM107.93 306.96h.9v.9h-.9zM116.46 295.3h.9v.9h-.9zM115.78 297.37h.9v.9h-.9zM93 304.33h.9v.9h-.9zM99.13 305.5h.9v.9h-.9zM107.17 299.02h.9v.9h-.9zM103.01 303.85h.9v.9h-.9zM96.3 308.03h.9v.9h-.9zM91.85 307.69h.9v.9h-.9zM119.87 297.39h.9v.9h-.9zM96.58 311.08h.9v.9h-.9zM95.94 304.57h.9v.9h-.9zM108.54 309.02h.9v.9h-.9zM115.55 300.6h.9v.9h-.9zM89.32 304.82h.9v.9h-.9zM95.21 310.81h.9v.9h-.9zM109.58 294.23h.9v.9h-.9zM106.88 306.12h.9v.9h-.9zM101.76 308.05h.9v.9h-.9zM96.68 310.14h.9v.9h-.9zM88.6 313.25h.9v.9h-.9zM117.43 294.62h.9v.9h-.9zM101.53 306.42h.9v.9h-.9zM96.38 312.83h.9v.9h-.9zM104.78 299.42h.9v.9h-.9zM111.09 301.49h.9v.9h-.9zM104.2 308.9h.9v.9h-.9zM111.26 297.93h.9v.9h-.9zM112.66 293.05h.9v.9h-.9zM99.76 309.33h.9v.9h-.9zM105.64 299.74h.9v.9h-.9zM97.14 314.36h.9v.9h-.9zM105.44 308.33h.9v.9h-.9zM103.34 293.59h.9v.9h-.9zM96.61 315.6h.9v.9h-.9zM103.4 310.03h.9v.9h-.9zM111.81 307.44h.9v.9h-.9zM111.96 303.33h.9v.9h-.9zM104.74 294.34h.9v.9h-.9zM100.73 302.89h.9v.9h-.9zM113.53 295.77h.9v.9h-.9zM94.89 300.03h.9v.9h-.9zM93.22 303.64h.9v.9h-.9zM108.21 288.96h.9v.9h-.9zM104.79 308.6h.9v.9h-.9zM113.39 299.44h.9v.9h-.9zM104.98 300.49h.9v.9h-.9zM100.74 304.48h.9v.9h-.9zM97.59 307.65h.9v.9h-.9zM104.6 312.53h.9v.9h-.9zM115.43 296.98h.9v.9h-.9zM108.03 296.63h.9v.9h-.9zM115.76 291.14h.9v.9h-.9zM88.82 312.33h.9v.9h-.9zM105.76 299.05h.9v.9h-.9zM98.43 311.77h.9v.9h-.9zM93.71 302.8h.9v.9h-.9zM102.57 301.2h.9v.9h-.9zM96.58 308.05h.9v.9h-.9zM116.52 292.51h.9v.9h-.9zM108.27 296.56h.9v.9h-.9zM110.87 291.78h.9v.9h-.9zM102.96 295.34h.9v.9h-.9zM94.95 313.75h.9v.9h-.9zM108.05 308.42h.9v.9h-.9zM96.87 312.5h.9v.9h-.9zM114.69 301.78h.9v.9h-.9zM110.96 290.41h.9v.9h-.9zM110.9 301.73h.9v.9h-.9zM95.32 306.77h.9v.9h-.9zM94.54 302.95h.9v.9h-.9zM99.01 300.89h.9v.9h-.9zM101.49 309.61h.9v.9h-.9zM104.87 294.79h.9v.9h-.9zM109.84 303.47h.9v.9h-.9zM119.53 288.03h.9v.9h-.9zM113.87 299.4h.9v.9h-.9zM117.45 295.58h.9v.9h-.9zM102.8 301.14h.9v.9h-.9zM117.27 300.02h.9v.9h-.9zM99.36 302.94h.9v.9h-.9zM104.09 303.29h.9v.9h-.9zM100.16 302.15h.9v.9h-.9zM99.73 302.49h.9v.9h-.9zM98.25 312.89h.9v.9h-.9zM122.08 287.49h.9v.9h-.9zM108.24 312.33h.9v.9h-.9zM114.02 293.79h.9v.9h-.9zM118.07 286.82h.9v.9h-.9zM110.95 291.47h.9v.9h-.9zM97.76 312.15h.9v.9h-.9zM96.26 305.98h.9v.9h-.9zM97.33 313.97h.9v.9h-.9zM94.54 304.69h.9v.9h-.9zM113.88 293.15h.9v.9h-.9zM103.34 311.4h.9v.9h-.9zM99.01 301.86h.9v.9h-.9zM113.94 305.56h.9v.9h-.9zM91.38 304.65h.9v.9h-.9zM112.57 306.26h.9v.9h-.9zM111.91 307.49h.9v.9h-.9zM112.96 294.06h.9v.9h-.9zM102.38 307.19h.9v.9h-.9zM98.94 303.02h.9v.9h-.9zM108.49 296.98h.9v.9h-.9zM103.09 311.89h.9v.9h-.9zM104.53 306.25h.9v.9h-.9zM101.62 299.64h.9v.9h-.9zM114.73 304.8h.9v.9h-.9zM95.88 307.42h.9v.9h-.9zM99.17 305.18h.9v.9h-.9zM108.34 298.11h.9v.9h-.9zM112.97 304.99h.9v.9h-.9zM113.62 303.23h.9v.9h-.9zM107.84 298.76h.9v.9h-.9zM102.72 314.68h.9v.9h-.9zM106.24 295.54h.9v.9h-.9zM111.41 293.27h.9v.9h-.9zM119.77 296.37h.9v.9h-.9zM111.23 303.85h.9v.9h-.9zM100.32 308.63h.9v.9h-.9zM108.24 293.8h.9v.9h-.9zM114.06 292.61h.9v.9h-.9zM109.85 291.73h.9v.9h-.9zM96.17 307.11h.9v.9h-.9zM132.31 292.31h.9v.9h-.9zM92.94 311.63h.9v.9h-.9zM96.71 301.24h.9v.9h-.9zM114.35 292.02h.9v.9h-.9zM112.79 289.93h.9v.9h-.9zM102.5 312.74h.9v.9h-.9zM116.2 305.31h.9v.9h-.9zM111.72 292.86h.9v.9h-.9zM94.89 306.34h.9v.9h-.9zM112.16 296.43h.9v.9h-.9zM116.91 297.01h.9v.9h-.9zM101.9 310.98h.9v.9h-.9zM112.75 299.78h.9v.9h-.9zM110.19 292.32h.9v.9h-.9zM109.87 297.17h.9v.9h-.9zM102.3 305.48h.9v.9h-.9zM102.56 310.44h.9v.9h-.9zM109.03 293.43h.9v.9h-.9zM117.53 295.45h.9v.9h-.9zM102.16 313.73h.9v.9h-.9zM109.52 307.94h.9v.9h-.9zM103.71 311.29h.9v.9h-.9zM111.49 307.24h.9v.9h-.9zM114.51 297.5h.9v.9h-.9zM102.16 304.31h.9v.9h-.9zM106.25 307.56h.9v.9h-.9zM93.8 308.48h.9v.9h-.9zM104.04 295.2h.9v.9h-.9zM106.58 283.69h.9v.9h-.9zM114.86 294.39h.9v.9h-.9zM90.28 304.33h.9v.9h-.9zM122.58 291.62h.9v.9h-.9zM101.01 304.95h.9v.9h-.9zM118.91 294.15h.9v.9h-.9zM95.93 307.69h.9v.9h-.9zM98.67 302.58h.9v.9h-.9zM90.66 308.95h.9v.9h-.9zM96.26 308.32h.9v.9h-.9zM115.59 279.09h.9v.9h-.9zM114.28 301.58h.9v.9h-.9zM108.32 313.08h.9v.9h-.9zM107.61 307.09h.9v.9h-.9zM105.56 295.97h.9v.9h-.9zM93.04 307.3h.9v.9h-.9zM115.17 296.76h.9v.9h-.9zM108.49 306.14h.9v.9h-.9zM104.99 310.71h.9v.9h-.9zM118.91 288.35h.9v.9h-.9zM103.53 292.37h.9v.9h-.9zM113.44 305.92h.9v.9h-.9zM108.36 304.8h.9v.9h-.9zM106.22 294.77h.9v.9h-.9zM110.11 305.5h.9v.9h-.9zM113.15 294.38h.9v.9h-.9zM111.54 301.35h.9v.9h-.9zM111.88 301.79h.9v.9h-.9zM108.9 297.02h.9v.9h-.9zM96.22 319.72h.9v.9h-.9zM99.9 304.06h.9v.9h-.9zM90.14 307.08h.9v.9h-.9zM109.73 289.32h.9v.9h-.9zM112.54 292.27h.9v.9h-.9zM92.24 305.55h.9v.9h-.9zM101.65 305.95h.9v.9h-.9zM106.06 307.62h.9v.9h-.9zM95.99 305.16h.9v.9h-.9zM93.77 311.39h.9v.9h-.9zM109.32 295.04h.9v.9h-.9zM110.6 308.27h.9v.9h-.9zM113.13 293.21h.9v.9h-.9zM115.01 296.61h.9v.9h-.9zM115.34 297.97h.9v.9h-.9zM102.66 296.9h.9v.9h-.9zM94.95 314.21h.9v.9h-.9zM118.74 291.25h.9v.9h-.9zM113.42 303.84h.9v.9h-.9zM112.78 303.99h.9v.9h-.9zM96.3 307.04h.9v.9h-.9zM105.78 311.5h.9v.9h-.9zM111.75 304.74h.9v.9h-.9zM119.17 294.47h.9v.9h-.9zM102.18 302.85h.9v.9h-.9zM112.15 295.99h.9v.9h-.9zM109.62 293.91h.9v.9h-.9zM103.36 311.34h.9v.9h-.9zM97.12 315.36h.9v.9h-.9zM111.16 279.86h.9v.9h-.9zM114.67 286.39h.9v.9h-.9zM108.03 296.11h.9v.9h-.9zM103.53 302.2h.9v.9h-.9zM101.15 311.03h.9v.9h-.9zM110.31 292.17h.9v.9h-.9zM106.87 293.38h.9v.9h-.9zM99.73 303.75h.9v.9h-.9zM111.54 307.22h.9v.9h-.9zM106.67 298.86h.9v.9h-.9zM103.45 297.21h.9v.9h-.9zM92.08 310.43h.9v.9h-.9zM104.97 301.48h.9v.9h-.9zM109.91 293.46h.9v.9h-.9zM97 308.16h.9v.9h-.9zM112.4 291.16h.9v.9h-.9zM104.09 296.63h.9v.9h-.9zM104.26 309.43h.9v.9h-.9zM101.48 304.85h.9v.9h-.9zM116.76 291.41h.9v.9h-.9zM103.92 307.24h.9v.9h-.9zM111.41 295.5h.9v.9h-.9zM116.74 292.18h.9v.9h-.9zM115.76 298.28h.9v.9h-.9zM105.68 307.51h.9v.9h-.9zM103.78 310.95h.9v.9h-.9zM116.54 305.15h.9v.9h-.9zM101.4 305.25h.9v.9h-.9zM112.08 286.04h.9v.9h-.9zM101.07 309.66h.9v.9h-.9zM97.78 306.06h.9v.9h-.9zM92.02 304.9h.9v.9h-.9zM100.41 310h.9v.9h-.9zM106.14 308.51h.9v.9h-.9zM112.07 295.88h.9v.9h-.9zM111.25 292.03h.9v.9h-.9zM99.31 308.68h.9v.9h-.9zM98.89 303.3h.9v.9h-.9zM108.78 309.64h.9v.9h-.9zM116.88 302.33h.9v.9h-.9zM115.02 297.56h.9v.9h-.9zM103.69 301.46h.9v.9h-.9zM93.64 299.59h.9v.9h-.9zM118.36 299.74h.9v.9h-.9zM106.29 313.06h.9v.9h-.9zM118.24 297.59h.9v.9h-.9zM108.72 304.56h.9v.9h-.9zM94.16 306.28h.9v.9h-.9zM107.43 307.09h.9v.9h-.9zM110.22 289.83h.9v.9h-.9zM112.56 293.49h.9v.9h-.9zM101.03 310.01h.9v.9h-.9zM105.23 306.4h.9v.9h-.9zM118.8 287.6h.9v.9h-.9zM95.92 308.13h.9v.9h-.9zM115.32 296.3h.9v.9h-.9zM88.95 301.77h.9v.9h-.9zM96.78 310.55h.9v.9h-.9zM120.09 298.84h.9v.9h-.9zM108.72 303.04h.9v.9h-.9zM111.06 303.9h.9v.9h-.9zM117.09 294.47h.9v.9h-.9zM112.17 296.4h.9v.9h-.9zM108.07 295.62h.9v.9h-.9zM115.7 300.76h.9v.9h-.9zM90.75 304.98h.9v.9h-.9zM118.46 288.66h.9v.9h-.9zM116.7 289.94h.9v.9h-.9zM97.02 313.92h.9v.9h-.9zM119.42 284.57h.9v.9h-.9zM100.11 309.99h.9v.9h-.9zM113.85 298.67h.9v.9h-.9zM117.74 297.47h.9v.9h-.9zM98.89 308.07h.9v.9h-.9zM97.02 314.22h.9v.9h-.9zM104.54 307.81h.9v.9h-.9zM115.88 299.39h.9v.9h-.9zM104.3 309.01h.9v.9h-.9zM106.62 297.39h.9v.9h-.9z" fill="#3a3af4"/><path d="M97.86 306.67h.9v.9h-.9zM104.76 303.71h.9v.9h-.9zM106.61 300.45h.9v.9h-.9zM106.27 305.28h.9v.9h-.9zM111.67 299.96h.9v.9h-.9zM110.81 299.5h.9v.9h-.9zM109.79 306.17h.9v.9h-.9zM102.26 307.84h.9v.9h-.9zM111.68 291.97h.9v.9h-.9zM98.58 304.61h.9v.9h-.9zM108.43 300.49h.9v.9h-.9zM112.49 300.78h.9v.9h-.9zM105.68 300.55h.9v.9h-.9zM104.44 298.22h.9v.9h-.9zM107.86 300.84h.9v.9h-.9zM98.03 310.11h.9v.9h-.9zM112.18 304.45h.9v.9h-.9zM97.77 306.29h.9v.9h-.9zM104.77 302.36h.9v.9h-.9zM106.41 300.9h.9v.9h-.9zM118.68 296.59h.9v.9h-.9zM115.24 297.82h.9v.9h-.9zM110.47 300.09h.9v.9h-.9zM112.68 304.09h.9v.9h-.9zM111.79 300.14h.9v.9h-.9zM107.61 304.35h.9v.9h-.9zM109.75 296.49h.9v.9h-.9zM115.25 295.25h.9v.9h-.9zM116.96 295.75h.9v.9h-.9zM111.8 302.33h.9v.9h-.9zM104.84 302.31h.9v.9h-.9zM96.74 305.15h.9v.9h-.9zM111.34 305.51h.9v.9h-.9zM105.28 304.97h.9v.9h-.9zM102.19 307.18h.9v.9h-.9zM107.38 304.46h.9v.9h-.9zM115.3 297.26h.9v.9h-.9zM109.46 300.73h.9v.9h-.9zM106.04 305.36h.9v.9h-.9zM113.29 299.49h.9v.9h-.9zM108.33 300.36h.9v.9h-.9zM104.1 308.49h.9v.9h-.9zM104.21 308.47h.9v.9h-.9zM110.85 298.9h.9v.9h-.9zM111.3 303.78h.9v.9h-.9zM101.69 303.52h.9v.9h-.9zM112.02 304.67h.9v.9h-.9zM105.31 304.81h.9v.9h-.9zM98.74 308.39h.9v.9h-.9zM107.91 300.48h.9v.9h-.9zM107.02 297.87h.9v.9h-.9zM112.57 293.92h.9v.9h-.9zM107.76 300.73h.9v.9h-.9zM112.45 301.67h.9v.9h-.9zM108.87 301.85h.9v.9h-.9zM116.79 298.15h.9v.9h-.9zM114.23 298.96h.9v.9h-.9zM112.66 298.49h.9v.9h-.9zM107.14 304.43h.9v.9h-.9zM105.1 302.21h.9v.9h-.9zM112.02 306.26h.9v.9h-.9zM106.97 304.15h.9v.9h-.9zM104.95 301.05h.9v.9h-.9zM98.57 305.01h.9v.9h-.9zM97.62 308.9h.9v.9h-.9zM111.26 298.08h.9v.9h-.9zM106 297.67h.9v.9h-.9zM110.42 307.03h.9v.9h-.9zM115.53 296.09h.9v.9h-.9zM108.4 304.56h.9v.9h-.9zM106.43 304.18h.9v.9h-.9zM111.37 298.19h.9v.9h-.9zM110.07 307.02h.9v.9h-.9zM112.24 293.36h.9v.9h-.9zM112.47 302.69h.9v.9h-.9zM105.63 299.84h.9v.9h-.9zM111.55 298.42h.9v.9h-.9zM106.76 299.53h.9v.9h-.9zM102.3 307.78h.9v.9h-.9zM110.72 306.62h.9v.9h-.9zM108.97 298.76h.9v.9h-.9zM109.51 296.49h.9v.9h-.9zM105.43 302.13h.9v.9h-.9zM112.83 301.41h.9v.9h-.9zM116.97 298.14h.9v.9h-.9zM109.84 296.87h.9v.9h-.9zM101.78 307.68h.9v.9h-.9zM96.03 307.77h.9v.9h-.9zM100.6 307.19h.9v.9h-.9zM106.86 300.9h.9v.9h-.9zM111.29 302.24h.9v.9h-.9zM100.27 304.05h.9v.9h-.9zM114.79 298.23h.9v.9h-.9zM97.55 307.88h.9v.9h-.9zM101.11 306.48h.9v.9h-.9zM106.66 299.15h.9v.9h-.9zM100.55 308.38h.9v.9h-.9zM108.19 300.86h.9v.9h-.9zM112.09 303.58h.9v.9h-.9zM110.97 298.6h.9v.9h-.9zM111.13 303.27h.9v.9h-.9zM105.73 305.08h.9v.9h-.9zM106.81 299.95h.9v.9h-.9zM115.56 297.04h.9v.9h-.9zM101.02 307.22h.9v.9h-.9zM105.78 301.88h.9v.9h-.9zM106.36 304.04h.9v.9h-.9zM109.92 304.86h.9v.9h-.9zM108.23 297.86h.9v.9h-.9zM100.64 305.97h.9v.9h-.9zM110.11 300.09h.9v.9h-.9zM104.71 305.95h.9v.9h-.9zM105.81 304.9h.9v.9h-.9zM96.1 307.96h.9v.9h-.9zM97.2 306.22h.9v.9h-.9zM112.34 300.12h.9v.9h-.9zM100.93 309.45h.9v.9h-.9zM98.52 306.18h.9v.9h-.9zM112.77 301.91h.9v.9h-.9zM103.03 306.94h.9v.9h-.9zM110.21 300.85h.9v.9h-.9zM106.16 300.74h.9v.9h-.9zM101.34 309.31h.9v.9h-.9zM116.7 299.17h.9v.9h-.9zM102.37 309.3h.9v.9h-.9zM105.65 301.34h.9v.9h-.9zM97.42 311.88h.9v.9h-.9zM97.6 304.03h.9v.9h-.9zM107.14 300.88h.9v.9h-.9zM105.6 303.38h.9v.9h-.9zM110.3 298.96h.9v.9h-.9zM109.65 302.85h.9v.9h-.9zM97.14 309.1h.9v.9h-.9zM105.68 300.55h.9v.9h-.9zM99.11 305.48h.9v.9h-.9zM98.36 310.02h.9v.9h-.9zM110.85 305.36h.9v.9h-.9zM114.89 294.8h.9v.9h-.9zM101.19 310.36h.9v.9h-.9zM109.21 298.43h.9v.9h-.9zM109.71 307.17h.9v.9h-.9zM110.31 303.72h.9v.9h-.9zM105.37 298.91h.9v.9h-.9zM107.45 300.97h.9v.9h-.9zM107.29 302.87h.9v.9h-.9z" fill="#2080c0"/><path d="M105.29 302.97h.9v.9h-.9zM106.19 303.68h.9v.9h-.9zM107.17 301.3h.9v.9h-.9zM107.47 303.61h.9v.9h-.9zM105.82 303.7h.9v.9h-.9z" fill="#e0c020"/><path d="M105.78 302.8h.9v.9h-.9z" fill="#f03020"/><path d="M179.84 301.43h.9v.9h-.9zM219.93 297.46h.9v.9h-.9zM201.07 305.06h.9v.9h-.9zM181.75 295.35h.9v.9h-.9zM180.58 288.36h.9v.9h-.9zM170.6 301.57h.9v.9h-.9zM183.41 297.08h.9v.9h-.9zM182.62 314.67h.9v.9h-.9zM185.48 298.73h.9v.9h-.9zM198.1 310.55h.9v.9h-.9zM185.34 293.6h.9v.9h-.9zM171.98 311.96h.9v.9h-.9zM183.34 285.55h.9v.9h-.9zM207.04 297.94h.9v.9h-.9zM195.8 304.91h.9v.9h-.9zM214.85 290.84h.9v.9h-.9zM176.67 305.51h.9v.9h-.9zM188.18 297.5h.9v.9h-.9zM214.08 295.65h.9v.9h-.9zM201.09 308.67h.9v.9h-.9zM199.92 301.35h.9v.9h-.9zM176.1 305.2h.9v.9h-.9zM190.21 300.13h.9v.9h-.9zM196.8 294.73h.9v.9h-.9zM183.15 318.97h.9v.9h-.9zM210.06 291.4h.9v.9h-.9zM209.57 293.21h.9v.9h-.9zM213.36 296.47h.9v.9h-.9zM180.1 315.29h.9v.9h-.9zM205.52 307.52h.9v.9h-.9zM199.6 299.07h.9v.9h-.9zM194.16 316.29h.9v.9h-.9zM177.62 302.28h.9v.9h-.9zM208.85 298.98h.9v.9h-.9zM182.75 268.67h.9v.9h-.9zM184.92 317.17h.9v.9h-.9zM191.48 296.3h.9v.9h-.9zM197.98 295.75h.9v.9h-.9zM172.76 304.18h.9v.9h-.9zM196.9 309.99h.9v.9h-.9zM177.27 315.59h.9v.9h-.9zM180.24 312.72h.9v.9h-.9zM188.49 294.36h.9v.9h-.9zM200.56 308.75h.9v.9h-.9zM197.58 310.69h.9v.9h-.9zM182.88 315.96h.9v.9h-.9zM215.28 304.86h.9v.9h-.9zM175.08 300.78h.9v.9h-.9zM215.36 291.61h.9v.9h-.9zM187.22 316.16h.9v.9h-.9zM212.73 288.05h.9v.9h-.9zM220.22 294.81h.9v.9h-.9zM173.64 297.46h.9v.9h-.9zM203.91 298.46h.9v.9h-.9zM179.94 296.47h.9v.9h-.9zM220.21 279.43h.9v.9h-.9zM177.16 304.05h.9v.9h-.9zM170.44 304.53h.9v.9h-.9zM202.42 312.11h.9v.9h-.9zM183.98 285.35h.9v.9h-.9zM188.39 286.03h.9v.9h-.9zM215.21 291.75h.9v.9h-.9zM210.47 301.24h.9v.9h-.9zM193.41 304.21h.9v.9h-.9zM187.21 319.6h.9v.9h-.9zM200.62 292.86h.9v.9h-.9zM208.74 299.67h.9v.9h-.9zM208.49 313.12h.9v.9h-.9zM203.17 293.51h.9v.9h-.9zM175.27 310.56h.9v.9h-.9zM211.98 289.43h.9v.9h-.9zM202.42 300.31h.9v.9h-.9zM172.84 314.29h.9v.9h-.9zM210.55 296.65h.9v.9h-.9zM180.39 298.16h.9v.9h-.9zM190.93 300.26h.9v.9h-.9zM210.62 304.91h.9v.9h-.9zM209.76 301.33h.9v.9h-.9zM179.8 280.38h.9v.9h-.9zM186.41 318.42h.9v.9h-.9zM192.24 294.75h.9v.9h-.9zM176.49 267.01h.9v.9h-.9zM192.59 299.81h.9v.9h-.9zM176.35 305.82h.9v.9h-.9zM221.56 302.03h.9v.9h-.9zM196.55 312.65h.9v.9h-.9zM197.87 299.61h.9v.9h-.9zM186.69 316.01h.9v.9h-.9zM193.69 311.01h.9v.9h-.9zM183.84 317.21h.9v.9h-.9zM191.46 314.38h.9v.9h-.9zM202.58 298.42h.9v.9h-.9zM203 291.24h.9v.9h-.9zM193.81 311.37h.9v.9h-.9zM201.35 306.75h.9v.9h-.9zM180.8 294.08h.9v.9h-.9zM196.7 296.91h.9v.9h-.9zM206.81 309.39h.9v.9h-.9zM173.53 301.51h.9v.9h-.9zM176.8 307.82h.9v.9h-.9zM206.02 294.49h.9v.9h-.9zM206.84 301.4h.9v.9h-.9zM206.16 303.45h.9v.9h-.9zM175.9 309.07h.9v.9h-.9zM196.58 301.03h.9v.9h-.9zM179.8 290.82h.9v.9h-.9zM205.74 293.42h.9v.9h-.9zM202.47 300.45h.9v.9h-.9zM178.1 303.22h.9v.9h-.9zM204.46 311.39h.9v.9h-.9zM174.46 304.55h.9v.9h-.9zM197.8 308.33h.9v.9h-.9zM215.33 287.4h.9v.9h-.9zM202.87 300.98h.9v.9h-.9zM179.49 298.08h.9v.9h-.9zM209.96 308.78h.9v.9h-.9zM212.66 282.99h.9v.9h-.9zM201.82 289.92h.9v.9h-.9zM195.65 305.54h.9v.9h-.9zM182.46 317.09h.9v.9h-.9zM191.75 282.35h.9v.9h-.9zM210.57 312.33h.9v.9h-.9zM188.29 298.44h.9v.9h-.9zM204.61 312.54h.9v.9h-.9zM174.88 307.07h.9v.9h-.9zM218.77 293.44h.9v.9h-.9zM205.99 303.48h.9v.9h-.9zM191.07 304.64h.9v.9h-.9zM178.78 314.13h.9v.9h-.9zM204.01 305.53h.9v.9h-.9zM187.34 296.65h.9v.9h-.9zM223.49 306.01h.9v.9h-.9zM176.28 311.96h.9v.9h-.9zM175.18 291.17h.9v.9h-.9zM186.92 316.25h.9v.9h-.9zM197.46 303.62h.9v.9h-.9zM200.71 309.99h.9v.9h-.9zM181.56 288.09h.9v.9h-.9zM194.4 299.12h.9v.9h-.9zM189.12 314.02h.9v.9h-.9zM206.52 293.12h.9v.9h-.9zM205.5 301.93h.9v.9h-.9zM172.29 306.19h.9v.9h-.9zM203.47 308.75h.9v.9h-.9zM178.97 300.89h.9v.9h-.9zM177.25 293.85h.9v.9h-.9zM185.42 298.8h.9v.9h-.9zM221.56 289.75h.9v.9h-.9zM184.13 298.94h.9v.9h-.9zM198.15 299.94h.9v.9h-.9zM183.67 279.94h.9v.9h-.9zM189.53 300.54h.9v.9h-.9zM182.23 315.39h.9v.9h-.9zM205.87 294.05h.9v.9h-.9zM194.58 302.01h.9v.9h-.9zM180.01 316.75h.9v.9h-.9zM183.13 314.85h.9v.9h-.9zM193.41 302.79h.9v.9h-.9zM180.81 288.49h.9v.9h-.9zM196.35 302.56h.9v.9h-.9zM196.61 280.67h.9v.9h-.9zM202.06 304.84h.9v.9h-.9zM203.87 298.3h.9v.9h-.9zM187.41 323.83h.9v.9h-.9zM210.34 306.31h.9v.9h-.9zM180.04 312.78h.9v.9h-.9zM185.72 315.08h.9v.9h-.9zM210.21 297.81h.9v.9h-.9zM202.53 295.35h.9v.9h-.9zM211.76 291.6h.9v.9h-.9zM219.12 290.7h.9v.9h-.9zM182.68 277.83h.9v.9h-.9zM211.23 294.27h.9v.9h-.9zM176.05 305.65h.9v.9h-.9zM178.29 312.55h.9v.9h-.9zM206.93 300.53h.9v.9h-.9zM215.22 292.58h.9v.9h-.9zM188.97 299.46h.9v.9h-.9zM194.68 308.45h.9v.9h-.9zM178.57 314.9h.9v.9h-.9zM177.09 296.47h.9v.9h-.9zM214.82 302.5h.9v.9h-.9zM212.75 288.77h.9v.9h-.9zM191.67 312.65h.9v.9h-.9zM194.55 309.09h.9v.9h-.9zM203.35 310.73h.9v.9h-.9zM201.55 288.33h.9v.9h-.9zM198.69 288.4h.9v.9h-.9zM184.47 292.22h.9v.9h-.9zM209.22 297.04h.9v.9h-.9zM191.4 298.33h.9v.9h-.9zM203.01 307.99h.9v.9h-.9zM178.27 304.02h.9v.9h-.9zM182.32 297.22h.9v.9h-.9zM207.24 291.41h.9v.9h-.9zM216.02 301.41h.9v.9h-.9zM193.15 306.06h.9v.9h-.9zM176.73 304.79h.9v.9h-.9zM187.38 312.73h.9v.9h-.9zM193.24 302.97h.9v.9h-.9zM196.61 311.24h.9v.9h-.9zM200.08 302.43h.9v.9h-.9zM185.41 314.17h.9v.9h-.9zM216.05 297.94h.9v.9h-.9zM185.63 278.45h.9v.9h-.9zM210.07 297.65h.9v.9h-.9zM196.16 304.17h.9v.9h-.9zM176.89 292.95h.9v.9h-.9zM194.12 308.82h.9v.9h-.9zM217.89 285.59h.9v.9h-.9zM195.94 294.42h.9v.9h-.9zM179.28 293.89h.9v.9h-.9zM192.91 311.73h.9v.9h-.9zM178.13 313.85h.9v.9h-.9zM211.07 306.24h.9v.9h-.9zM176.69 313.86h.9v.9h-.9zM190.27 317.16h.9v.9h-.9zM197.08 295.78h.9v.9h-.9zM180.73 300.68h.9v.9h-.9zM186.25 314.21h.9v.9h-.9zM180.71 317.59h.9v.9h-.9zM204.77 302.84h.9v.9h-.9zM197.06 293.35h.9v.9h-.9zM186.03 299.79h.9v.9h-.9zM206.32 293.07h.9v.9h-.9zM200.39 312.11h.9v.9h-.9zM176.56 311.5h.9v.9h-.9zM180.44 298.67h.9v.9h-.9zM206.92 279.87h.9v.9h-.9zM208.4 296.53h.9v.9h-.9zM214.27 290.28h.9v.9h-.9zM197.27 316.6h.9v.9h-.9zM187.89 296.9h.9v.9h-.9zM211.18 302.49h.9v.9h-.9zM181.15 275.06h.9v.9h-.9zM206.36 305.43h.9v.9h-.9zM184.06 291.37h.9v.9h-.9zM196.61 301.12h.9v.9h-.9zM204 296.41h.9v.9h-.9zM199.77 308.09h.9v.9h-.9zM222.91 289.03h.9v.9h-.9zM206.72 311.85h.9v.9h-.9zM202.18 291.03h.9v.9h-.9zM190.02 313.81h.9v.9h-.9zM194.2 299.55h.9v.9h-.9zM195.63 303.25h.9v.9h-.9zM203.62 312.05h.9v.9h-.9zM171.86 300.09h.9v.9h-.9zM192.3 300.79h.9v.9h-.9zM215.37 300.69h.9v.9h-.9zM195.24 310.06h.9v.9h-.9zM182.74 297.78h.9v.9h-.9zM173.1 299.93h.9v.9h-.9zM190.97 304.1h.9v.9h-.9zM196.74 309.99h.9v.9h-.9zM204.13 304.26h.9v.9h-.9zM181.09 312.96h.9v.9h-.9zM179.29 296.3h.9v.9h-.9zM207.87 303.05h.9v.9h-.9zM196.3 313.22h.9v.9h-.9zM199.95 295.01h.9v.9h-.9zM211.33 305.49h.9v.9h-.9zM201.41 300.8h.9v.9h-.9zM194.67 308.22h.9v.9h-.9zM197.75 304.29h.9v.9h-.9zM174.5 265.31h.9v.9h-.9zM202.03 310.67h.9v.9h-.9zM208.09 296.28h.9v.9h-.9zM195.1 302.46h.9v.9h-.9zM185.98 319.96h.9v.9h-.9zM194.98 305.18h.9v.9h-.9zM198.88 294.15h.9v.9h-.9zM205.43 288.62h.9v.9h-.9zM182.03 317.58h.9v.9h-.9zM210.28 297.61h.9v.9h-.9zM208.61 292.88h.9v.9h-.9zM200.95 299.64h.9v.9h-.9zM184.78 294.67h.9v.9h-.9zM182.17 321.34h.9v.9h-.9zM198.91 308.72h.9v.9h-.9zM187.78 317.79h.9v.9h-.9zM175.55 314.48h.9v.9h-.9zM212.2 298.94h.9v.9h-.9zM207.83 301.93h.9v.9h-.9zM198.49 307.74h.9v.9h-.9zM187.05 292.86h.9v.9h-.9zM181.69 278.21h.9v.9h-.9zM176.96 309.54h.9v.9h-.9zM191.14 294.2h.9v.9h-.9zM193.83 310.74h.9v.9h-.9zM197.67 312.72h.9v.9h-.9zM200.69 293.16h.9v.9h-.9zM208.94 311.9h.9v.9h-.9zM205.87 305.85h.9v.9h-.9zM208 293.17h.9v.9h-.9zM201.34 293.8h.9v.9h-.9z" fill="#8484ff"/><path d="M186.05 300.6h.9v.9h-.9zM194.36 306.12h.9v.9h-.9zM191.09 309.18h.9v.9h-.9zM190.18 307.15h.9v.9h-.9zM181.03 300.74h.9v.9h-.9zM184.33 311.68h.9v.9h-.9zM201.72 310.61h.9v.9h-.9zM182.81 311.08h.9v.9h-.9zM204.35 305.12h.9v.9h-.9zM182.48 312.02h.9v.9h-.9zM174.03 298.21h.9v.9h-.9zM181.9 297.94h.9v.9h-.9zM195.48 301.36h.9v.9h-.9zM198.28 308.53h.9v.9h-.9zM180.68 300.67h.9v.9h-.9zM185.86 299.82h.9v.9h-.9zM193.14 309.57h.9v.9h-.9zM207.3 297.95h.9v.9h-.9zM194.69 306.99h.9v.9h-.9zM179.51 316.7h.9v.9h-.9zM183.62 311.6h.9v.9h-.9zM180.84 313.41h.9v.9h-.9zM186.37 313.03h.9v.9h-.9zM184.94 311.57h.9v.9h-.9zM188.13 304.41h.9v.9h-.9zM188.7 300.28h.9v.9h-.9zM180.43 301.11h.9v.9h-.9zM175.87 291.98h.9v.9h-.9zM184.36 312.58h.9v.9h-.9zM191.28 309.31h.9v.9h-.9zM191.58 309.79h.9v.9h-.9zM195.7 307.71h.9v.9h-.9zM195.69 308.25h.9v.9h-.9zM178.28 308.75h.9v.9h-.9zM187.28 308.46h.9v.9h-.9zM178.83 309.77h.9v.9h-.9zM187.74 301.57h.9v.9h-.9zM180.83 286.46h.9v.9h-.9zM183.43 299.67h.9v.9h-.9zM185.54 314.29h.9v.9h-.9zM179.72 305.95h.9v.9h-.9zM202.91 303.64h.9v.9h-.9zM202.4 296.71h.9v.9h-.9zM176.9 313.07h.9v.9h-.9zM179.72 298.74h.9v.9h-.9zM190.54 305.37h.9v.9h-.9zM182.98 300.66h.9v.9h-.9zM177.72 305.2h.9v.9h-.9zM192.65 308.77h.9v.9h-.9zM187.53 306.94h.9v.9h-.9zM177.03 306.36h.9v.9h-.9zM179.36 302.11h.9v.9h-.9zM179.46 310.36h.9v.9h-.9zM187.64 305.27h.9v.9h-.9zM178.97 312.51h.9v.9h-.9zM195.54 300.96h.9v.9h-.9zM192.85 308.46h.9v.9h-.9zM184.73 315.84h.9v.9h-.9zM173.92 304.94h.9v.9h-.9zM197.46 300.43h.9v.9h-.9zM214.53 290.27h.9v.9h-.9zM200.87 300.4h.9v.9h-.9zM176.76 311.44h.9v.9h-.9zM195.33 310.24h.9v.9h-.9zM178.09 310.8h.9v.9h-.9zM202.23 296.77h.9v.9h-.9zM183.67 302.2h.9v.9h-.9zM189.73 307.81h.9v.9h-.9zM180.85 312.18h.9v.9h-.9zM198.01 307.11h.9v.9h-.9zM206.01 300.28h.9v.9h-.9zM189.57 306.06h.9v.9h-.9zM187.04 317.99h.9v.9h-.9zM182.86 301.86h.9v.9h-.9zM198.06 295.11h.9v.9h-.9zM206.8 300.67h.9v.9h-.9zM182 317.83h.9v.9h-.9zM192.57 310.75h.9v.9h-.9zM198.37 304.16h.9v.9h-.9zM182.56 316.39h.9v.9h-.9zM201.58 309.62h.9v.9h-.9zM184.09 301.91h.9v.9h-.9zM213.48 292.36h.9v.9h-.9zM180.66 300.13h.9v.9h-.9zM204.59 303.89h.9v.9h-.9zM180.46 309.44h.9v.9h-.9zM198.74 306.91h.9v.9h-.9zM188.57 298.49h.9v.9h-.9zM181.98 310.84h.9v.9h-.9zM190.33 314.74h.9v.9h-.9zM197.49 307.16h.9v.9h-.9zM184.94 301.62h.9v.9h-.9zM199.42 305.54h.9v.9h-.9zM192.22 310.38h.9v.9h-.9zM185.8 311.75h.9v.9h-.9zM190.45 309.32h.9v.9h-.9zM179.39 309.2h.9v.9h-.9zM188.13 303.58h.9v.9h-.9zM187.07 302.29h.9v.9h-.9zM188.85 310.52h.9v.9h-.9zM208.21 299.58h.9v.9h-.9zM201.29 309.44h.9v.9h-.9zM202.21 301.8h.9v.9h-.9zM190.63 309.07h.9v.9h-.9zM175.43 298.4h.9v.9h-.9zM208.55 297.29h.9v.9h-.9zM179.68 301.21h.9v.9h-.9zM178.99 301.6h.9v.9h-.9zM180.39 301.39h.9v.9h-.9zM177.1 304.57h.9v.9h-.9zM178.56 307.35h.9v.9h-.9zM204.41 297.08h.9v.9h-.9zM194.03 305.11h.9v.9h-.9zM195.86 302.37h.9v.9h-.9zM177.33 301.51h.9v.9h-.9zM192.2 305.38h.9v.9h-.9zM194.95 307.73h.9v.9h-.9zM197.4 304.47h.9v.9h-.9zM201.24 309.78h.9v.9h-.9zM186.62 311.16h.9v.9h-.9zM193.76 310.12h.9v.9h-.9zM202.68 298.6h.9v.9h-.9zM206.42 303.5h.9v.9h-.9zM189.68 301.35h.9v.9h-.9zM183.26 300.92h.9v.9h-.9zM200.01 299.76h.9v.9h-.9zM179.75 307.92h.9v.9h-.9zM199.16 295.16h.9v.9h-.9zM180.78 307.62h.9v.9h-.9zM190.94 307.75h.9v.9h-.9zM187.93 311.76h.9v.9h-.9zM202.63 303.25h.9v.9h-.9zM178.78 307.12h.9v.9h-.9zM179.95 305.63h.9v.9h-.9zM200.42 303.59h.9v.9h-.9zM192.89 308.88h.9v.9h-.9zM178.63 304.73h.9v.9h-.9zM203.32 304.47h.9v.9h-.9zM184.46 314.54h.9v.9h-.9zM178.48 315.07h.9v.9h-.9zM189.46 303.31h.9v.9h-.9zM184.52 313.07h.9v.9h-.9zM179.89 313.82h.9v.9h-.9zM177.43 310.71h.9v.9h-.9zM189.66 306.52h.9v.9h-.9zM176.44 310.34h.9v.9h-.9zM188.68 313.74h.9v.9h-.9zM201.38 301.45h.9v.9h-.9zM190.78 311.5h.9v.9h-.9zM195.75 306.79h.9v.9h-.9zM206.9 294.09h.9v.9h-.9zM181.27 312.94h.9v.9h-.9zM180.21 300.98h.9v.9h-.9zM213.6 300.49h.9v.9h-.9zM183.43 310.98h.9v.9h-.9zM192.83 302.72h.9v.9h-.9zM174.51 305.33h.9v.9h-.9zM201.38 301.82h.9v.9h-.9zM186.79 310.96h.9v.9h-.9zM199.59 305.9h.9v.9h-.9zM186.83 300.47h.9v.9h-.9zM198.28 307.41h.9v.9h-.9zM187.02 311.01h.9v.9h-.9zM180.77 315.34h.9v.9h-.9zM191.89 307.34h.9v.9h-.9zM201.11 304.14h.9v.9h-.9zM178.62 306.61h.9v.9h-.9zM177.29 314.28h.9v.9h-.9zM190.41 300.52h.9v.9h-.9zM201.32 299.32h.9v.9h-.9zM201.55 302.58h.9v.9h-.9zM188.27 308.5h.9v.9h-.9zM186.28 313.54h.9v.9h-.9zM178.73 313.19h.9v.9h-.9zM176.42 309.64h.9v.9h-.9zM195.86 309.6h.9v.9h-.9zM206.52 305.26h.9v.9h-.9zM201.36 309.67h.9v.9h-.9zM196.82 303.26h.9v.9h-.9zM194.38 307.33h.9v.9h-.9zM206.18 305.45h.9v.9h-.9zM183.15 302h.9v.9h-.9zM191.95 308.78h.9v.9h-.9zM198.44 304.99h.9v.9h-.9zM193.07 306.11h.9v.9h-.9zM198.79 305.91h.9v.9h-.9zM207.83 298.05h.9v.9h-.9zM186.86 299.91h.9v.9h-.9zM198.78 304.69h.9v.9h-.9zM204.22 303.68h.9v.9h-.9zM198.97 307.48h.9v.9h-.9zM175.48 303.28h.9v.9h-.9zM203 293.98h.9v.9h-.9zM196.04 301.46h.9v.9h-.9zM185.76 299.65h.9v.9h-.9zM179.02 305.44h.9v.9h-.9zM183.75 311.7h.9v.9h-.9zM179.13 312.18h.9v.9h-.9zM198.22 308.64h.9v.9h-.9zM202.5 301.25h.9v.9h-.9zM210.66 304.53h.9v.9h-.9zM179.49 311.15h.9v.9h-.9zM197.66 310.78h.9v.9h-.9zM194.97 302.03h.9v.9h-.9zM194.86 305.22h.9v.9h-.9zM177.74 313.48h.9v.9h-.9zM187.52 309.51h.9v.9h-.9zM198.09 302.74h.9v.9h-.9zM193.37 307.16h.9v.9h-.9zM191.1 310.53h.9v.9h-.9zM205.45 299.59h.9v.9h-.9zM198.03 311.25h.9v.9h-.9zM186.17 298.62h.9v.9h-.9zM200.87 301.84h.9v.9h-.9zM193.57 307.33h.9v.9h-.9zM200.12 302.6h.9v.9h-.9zM181.2 299.83h.9v.9h-.9zM202.11 300.61h.9v.9h-.9zM204.88 301.83h.9v.9h-.9zM188.18 302.11h.9v.9h-.9zM183.57 301.67h.9v.9h-.9zM195.53 306.19h.9v.9h-.9zM179.97 314.02h.9v.9h-.9zM189.69 303.4h.9v.9h-.9zM181.36 299.07h.9v.9h-.9zM180.89 301.51h.9v.9h-.9zM188.32 310.75h.9v.9h-.9zM178.13 308.78h.9v.9h-.9zM188.49 302.91h.9v.9h-.9zM186.6 312.9h.9v.9h-.9zM198.31 305.68h.9v.9h-.9zM207.46 299.83h.9v.9h-.9zM204.82 302.3h.9v.9h-.9zM186.99 302.58h.9v.9h-.9zM180.99 309.07h.9v.9h-.9zM212.43 298.89h.9v.9h-.9zM207.68 293.28h.9v.9h-.9zM190.24 299.09h.9v.9h-.9zM189.83 311.93h.9v.9h-.9zM183.96 313.57h.9v.9h-.9zM194.45 303.25h.9v.9h-.9zM203.59 302.5h.9v.9h-.9zM198.01 309.74h.9v.9h-.9zM176.01 308.2h.9v.9h-.9zM188.82 306.98h.9v.9h-.9zM201.21 305.47h.9v.9h-.9zM189.01 309.42h.9v.9h-.9zM199.93 298.64h.9v.9h-.9zM187.94 302.58h.9v.9h-.9zM196.83 306.86h.9v.9h-.9zM179.61 313.77h.9v.9h-.9zM196.72 308.62h.9v.9h-.9zM187.38 311.99h.9v.9h-.9zM174.41 306.71h.9v.9h-.9zM181.57 299.98h.9v.9h-.9zM192.41 305.57h.9v.9h-.9zM200.69 302.31h.9v.9h-.9zM195 299.23h.9v.9h-.9zM186.47 311.47h.9v.9h-.9zM180.7 302.74h.9v.9h-.9zM207.3 301.5h.9v.9h-.9zM203.02 298.68h.9v.9h-.9zM196.95 310.77h.9v.9h-.9zM180.99 302.79h.9v.9h-.9zM191.19 306.26h.9v.9h-.9zM186.5 315.36h.9v.9h-.9zM190.99 302.12h.9v.9h-.9zM198.1 305.93h.9v.9h-.9zM197.18 305.8h.9v.9h-.9zM197.49 294.45h.9v.9h-.9zM199.86 295.73h.9v.9h-.9zM209.88 295.07h.9v.9h-.9zM191.84 307.31h.9v.9h-.9zM184.48 301.67h.9v.9h-.9zM190.89 306.93h.9v.9h-.9zM196.51 307.7h.9v.9h-.9zM205.88 300.51h.9v.9h-.9zM180.6 309.59h.9v.9h-.9zM192.51 307.02h.9v.9h-.9zM202.35 306.92h.9v.9h-.9zM178.43 283.8h.9v.9h-.9zM201.71 301.28h.9v.9h-.9zM179.68 304.09h.9v.9h-.9zM192.18 308.83h.9v.9h-.9zM196.36 306.06h.9v.9h-.9zM178.5 301.12h.9v.9h-.9zM215.54 291.64h.9v.9h-.9zM178.69 315.09h.9v.9h-.9zM178.75 310.49h.9v.9h-.9zM186.32 301.83h.9v.9h-.9zM185.79 313.57h.9v.9h-.9zM190.19 281.17h.9v.9h-.9zM178.9 315.82h.9v.9h-.9zM204.13 301.13h.9v.9h-.9zM199.38 301.41h.9v.9h-.9zM196.16 306.89h.9v.9h-.9zM199.08 309.56h.9v.9h-.9zM189.55 302.94h.9v.9h-.9zM203.25 300.44h.9v.9h-.9zM187.49 312.34h.9v.9h-.9zM206.23 301.2h.9v.9h-.9zM202.54 303.47h.9v.9h-.9zM179.6 303.48h.9v.9h-.9zM179.08 306.39h.9v.9h-.9zM198.11 306.81h.9v.9h-.9zM207.68 301.43h.9v.9h-.9zM175.6 305.48h.9v.9h-.9zM189.37 311.18h.9v.9h-.9zM189.42 306.85h.9v.9h-.9zM189.88 308.14h.9v.9h-.9zM179.21 305.85h.9v.9h-.9zM192.26 306.13h.9v.9h-.9zM198.39 312.06h.9v.9h-.9zM190.47 306.21h.9v.9h-.9zM203.28 301.16h.9v.9h-.9zM184.22 312.2h.9v.9h-.9zM189.81 304.9h.9v.9h-.9zM183.11 302.07h.9v.9h-.9zM185.5 299.66h.9v.9h-.9zM183.49 314.38h.9v.9h-.9zM185.73 301.07h.9v.9h-.9zM196.29 301.23h.9v.9h-.9zM197.11 303.55h.9v.9h-.9zM182.76 298.72h.9v.9h-.9zM203.39 300.24h.9v.9h-.9zM189.04 310.62h.9v.9h-.9zM187.23 308.06h.9v.9h-.9zM205.48 301.01h.9v.9h-.9zM182.78 312.17h.9v.9h-.9zM193.64 305.28h.9v.9h-.9zM196.57 297.78h.9v.9h-.9zM204.47 301.15h.9v.9h-.9zM189.85 306.33h.9v.9h-.9zM179.39 298.42h.9v.9h-.9zM190.89 310.43h.9v.9h-.9zM182.7 300.32h.9v.9h-.9zM192.01 301.84h.9v.9h-.9zM187.95 310.08h.9v.9h-.9zM216.86 291.37h.9v.9h-.9zM190.84 309.63h.9v.9h-.9zM192.07 306.35h.9v.9h-.9zM178.3 305.76h.9v.9h-.9zM177.51 311.79h.9v.9h-.9zM189.71 301.15h.9v.9h-.9zM187.42 313.02h.9v.9h-.9zM194.44 303.91h.9v.9h-.9zM175.59 310.22h.9v.9h-.9zM179.4 305.85h.9v.9h-.9zM193.12 308.94h.9v.9h-.9zM203.3 302.6h.9v.9h-.9zM185.7 311.58h.9v.9h-.9zM184.69 300.82h.9v.9h-.9zM199.88 305.54h.9v.9h-.9zM181.41 296.56h.9v.9h-.9zM189.51 310.56h.9v.9h-.9zM180.46 310.14h.9v.9h-.9zM209.22 305.93h.9v.9h-.9zM179.8 308.6h.9v.9h-.9zM190.69 309.31h.9v.9h-.9zM189.44 309.2h.9v.9h-.9zM198.14 307.4h.9v.9h-.9zM188.1 300.38h.9v.9h-.9zM200.08 303.04h.9v.9h-.9zM185.94 300.72h.9v.9h-.9zM183.11 312.07h.9v.9h-.9zM202.45 294.08h.9v.9h-.9zM178.93 311.73h.9v.9h-.9zM202.58 301.11h.9v.9h-.9zM180.31 310.61h.9v.9h-.9zM181.21 300.7h.9v.9h-.9zM200.78 309.4h.9v.9h-.9zM210.14 303.71h.9v.9h-.9zM190.6 309.55h.9v.9h-.9zM189.09 306.3h.9v.9h-.9zM205.68 306.54h.9v.9h-.9zM204.16 300.88h.9v.9h-.9zM181.47 316.53h.9v.9h-.9zM189.5 306.17h.9v.9h-.9zM181.36 299.12h.9v.9h-.9zM187.3 305.3h.9v.9h-.9z" fill="#3a3af4"/><path d="M181.01 307.98h.9v.9h-.9zM183.98 306.27h.9v.9h-.9zM188.12 304.27h.9v.9h-.9zM183.9 311.26h.9v.9h-.9zM185.6 302.72h.9v.9h-.9zM187.31 305.04h.9v.9h-.9zM186.04 304.4h.9v.9h-.9zM187.57 305.3h.9v.9h-.9zM183.06 303.06h.9v.9h-.9zM181.03 309.96h.9v.9h-.9zM189.1 304.62h.9v.9h-.9zM188.03 311.58h.9v.9h-.9zM180.9 304.63h.9v.9h-.9zM184.82 307.77h.9v.9h-.9zM184.19 312.12h.9v.9h-.9zM178.84 311.09h.9v.9h-.9zM180.81 307.69h.9v.9h-.9zM182.13 310.21h.9v.9h-.9zM184.87 307.46h.9v.9h-.9zM188.71 307.71h.9v.9h-.9zM189.53 304.25h.9v.9h-.9zM185.84 301h.9v.9h-.9zM186.36 300.85h.9v.9h-.9zM187.77 309.86h.9v.9h-.9zM181.12 308.48h.9v.9h-.9zM185.19 310.36h.9v.9h-.9zM189.69 304.22h.9v.9h-.9zM187.78 311.61h.9v.9h-.9zM182.89 303.77h.9v.9h-.9zM181.8 303.23h.9v.9h-.9zM186.83 307.02h.9v.9h-.9zM181.18 303.93h.9v.9h-.9zM183.35 304.02h.9v.9h-.9zM187.16 306.9h.9v.9h-.9zM194.22 307.7h.9v.9h-.9zM182.91 303.6h.9v.9h-.9zM185.85 301.14h.9v.9h-.9zM180.08 306.82h.9v.9h-.9zM187.38 308.55h.9v.9h-.9zM181.54 309.83h.9v.9h-.9zM186.58 302.91h.9v.9h-.9zM186.45 312.39h.9v.9h-.9zM187.45 308.97h.9v.9h-.9zM179.38 303.71h.9v.9h-.9zM180.05 309.9h.9v.9h-.9zM183.27 308.74h.9v.9h-.9zM188.17 306.27h.9v.9h-.9zM187.88 305.18h.9v.9h-.9zM179.72 308.61h.9v.9h-.9zM180.65 305.97h.9v.9h-.9zM178.39 309.73h.9v.9h-.9zM181.12 303.85h.9v.9h-.9zM184.52 306.64h.9v.9h-.9zM191.48 306.56h.9v.9h-.9zM184.07 311.55h.9v.9h-.9zM180.43 305.72h.9v.9h-.9zM180.18 306.92h.9v.9h-.9zM185.15 301.95h.9v.9h-.9zM180.04 307.25h.9v.9h-.9zM180.85 309.5h.9v.9h-.9zM180.36 308.11h.9v.9h-.9zM182.86 302.34h.9v.9h-.9zM180.94 309.52h.9v.9h-.9zM185.44 303.81h.9v.9h-.9zM191.44 308.27h.9v.9h-.9zM184.35 308.75h.9v.9h-.9zM183.05 308.81h.9v.9h-.9zM181.48 309.99h.9v.9h-.9zM187.07 309.97h.9v.9h-.9zM188.28 308.7h.9v.9h-.9zM183.04 302.65h.9v.9h-.9zM187.9 303.11h.9v.9h-.9zM187.68 301.29h.9v.9h-.9zM181.47 303.34h.9v.9h-.9zM181.41 306.36h.9v.9h-.9zM181.7 304.58h.9v.9h-.9zM180.86 307.18h.9v.9h-.9zM187.04 303.5h.9v.9h-.9zM185.71 310.24h.9v.9h-.9zM181.28 310.82h.9v.9h-.9zM182.44 309.89h.9v.9h-.9zM180.42 306.69h.9v.9h-.9zM193.79 307.78h.9v.9h-.9zM204.51 302.17h.9v.9h-.9zM186.64 301.5h.9v.9h-.9zM180.99 308.2h.9v.9h-.9zM184.91 307.65h.9v.9h-.9zM184.76 306.91h.9v.9h-.9zM180.65 303.12h.9v.9h-.9zM182.71 310.02h.9v.9h-.9zM189.17 304.38h.9v.9h-.9zM184.2 307.18h.9v.9h-.9zM189.51 310.28h.9v.9h-.9zM192.16 306.89h.9v.9h-.9zM181.08 304.38h.9v.9h-.9zM186.65 311.39h.9v.9h-.9zM183.56 306.88h.9v.9h-.9zM189.2 308.74h.9v.9h-.9zM179.89 304.12h.9v.9h-.9zM189.21 304.15h.9v.9h-.9z" fill="#2080c0"/><path d="M181.05 304.48h.9v.9h-.9zM187.05 303.92h.9v.9h-.9zM182.03 308.06h.9v.9h-.9zM185.01 306.32h.9v.9h-.9zM183.07 308.81h.9v.9h-.9zM185.13 309.2h.9v.9h-.9zM180.27 305.97h.9v.9h-.9zM185.99 306.36h.9v.9h-.9zM185.51 305.3h.9v.9h-.9zM184.51 309.37h.9v.9h-.9zM184.13 310.48h.9v.9h-.9zM185.24 303.01h.9v.9h-.9zM180.66 305.59h.9v.9h-.9zM182.96 308.34h.9v.9h-.9zM183.56 308.47h.9v.9h-.9zM184.67 303.85h.9v.9h-.9zM183.38 309.66h.9v.9h-.9zM186.2 304.75h.9v.9h-.9zM184.27 306.35h.9v.9h-.9zM184.19 310.35h.9v.9h-.9zM184.72 306.33h.9v.9h-.9zM181.52 308.97h.9v.9h-.9zM182.29 304.55h.9v.9h-.9zM182.86 309.11h.9v.9h-.9zM183.11 305.41h.9v.9h-.9zM182.96 304.93h.9v.9h-.9zM186.31 303.86h.9v.9h-.9zM185.65 304.03h.9v.9h-.9zM184.65 303.83h.9v.9h-.9zM182.51 309.75h.9v.9h-.9zM183.94 309.06h.9v.9h-.9zM181.68 308.15h.9v.9h-.9zM182.53 309.58h.9v.9h-.9zM184.47 306.91h.9v.9h-.9zM182.94 303.86h.9v.9h-.9zM181.98 306.5h.9v.9h-.9z" fill="#e0c020"/><path d="M184.64 304.96h.9v.9h-.9zM183.09 304.77h.9v.9h-.9zM184.25 305.14h.9v.9h-.9zM183.28 307.35h.9v.9h-.9zM184.76 304.83h.9v.9h-.9z" fill="#f03020"/><rect x="100.6" y="275.7" width="43.2" height="50.3" fill="none" stroke="#666" stroke-width="0.7"/><rect x="189.8" y="275.6" width="43.8" height="50.4" fill="none" stroke="#666" stroke-width="0.7"/><text transform="translate(112.9,261.6)"><tspan x="0" y="0" font-size="11">BCL6</tspan><tspan x="27.52" y="-4" font-size="7.2">+</tspan></text><text x="113.6" y="274.3" font-size="10.9">83.2</text><text x="191.5" y="274.3" font-size="11">34.6</text><line x1="307.9" y1="238.4" x2="307.9" y2="325.1" stroke="#888" stroke-width="1.2"/><line x1="304.3" y1="238.4" x2="307.9" y2="238.4" stroke="#888" stroke-width="1.2"/><text x="285" y="242.3" font-size="10.6">100</text><line x1="304.3" y1="255.74" x2="307.9" y2="255.74" stroke="#888" stroke-width="1.2"/><text x="290.93" y="259.64" font-size="10.6">80</text><line x1="304.3" y1="273.08" x2="307.9" y2="273.08" stroke="#888" stroke-width="1.2"/><text x="290.93" y="276.98" font-size="10.6">60</text><line x1="304.3" y1="290.42" x2="307.9" y2="290.42" stroke="#888" stroke-width="1.2"/><text x="290.93" y="294.32" font-size="10.6">40</text><line x1="304.3" y1="307.76" x2="307.9" y2="307.76" stroke="#888" stroke-width="1.2"/><text x="290.93" y="311.66" font-size="10.6">20</text><line x1="304.3" y1="325.1" x2="307.9" y2="325.1" stroke="#888" stroke-width="1.2"/><text x="296.82" y="329" font-size="10.6">0</text><line x1="307.9" y1="325.1" x2="393.8" y2="325.1" stroke="#888" stroke-width="1.1"/><line x1="350.8" y1="325.1" x2="350.8" y2="327.9" stroke="#888" stroke-width="1.2"/><text transform="translate(336,338.3)"><tspan x="0" y="0" font-size="11">BCL6</tspan><tspan x="27.52" y="-4" font-size="7.2">+</tspan></text><text x="333.3" y="236.1" font-size="10.6">&lt;0.0001</text><line x1="339.5" y1="240.5" x2="362.8" y2="240.5" stroke="#555" stroke-width="1"/><circle cx="323.2" cy="253.3" r="2.7" fill="#ff0000"/><circle cx="329.8" cy="248.4" r="2.7" fill="#ff0000"/><circle cx="336" cy="251.5" r="2.7" fill="#ff0000"/><circle cx="342.4" cy="249.8" r="2.7" fill="#ff0000"/><line x1="320.7" y1="250.7" x2="345.2" y2="250.7" stroke="#000" stroke-width="1.3"/><circle cx="360" cy="287.4" r="2.7" fill="#0000ff"/><circle cx="366.3" cy="290.4" r="2.7" fill="#0000ff"/><circle cx="372.7" cy="287.1" r="2.7" fill="#0000ff"/><circle cx="379.2" cy="285.3" r="2.7" fill="#0000ff"/><circle cx="366.3" cy="297.1" r="2.7" fill="#0000ff"/><circle cx="372.7" cy="295" r="2.7" fill="#0000ff"/><circle cx="379.2" cy="297.1" r="2.7" fill="#0000ff"/><circle cx="372.7" cy="301" r="2.7" fill="#0000ff"/><circle cx="369.8" cy="309.3" r="2.7" fill="#0000ff"/><line x1="357.5" y1="294.5" x2="381.5" y2="294.5" stroke="#000" stroke-width="1.3"/><text transform="translate(279.9,282.2) rotate(-90)"><tspan x="-54.74" y="0" font-size="10.6">%BCL6</tspan><tspan x="-18.8" y="-4" font-size="7">+</tspan><tspan x="-14.71" y="0" font-size="10.6"> in CD95</tspan><tspan x="26.53" y="-4" font-size="7">+</tspan><tspan x="30.62" y="0" font-size="10.6">GL7</tspan><tspan x="50.65" y="-4" font-size="7">+</tspan></text><text x="393.9" y="216.2" font-size="15.3" font-weight="bold">D</text><line x1="451.3" y1="238.4" x2="451.3" y2="324.6" stroke="#888" stroke-width="1.3"/><line x1="447.6" y1="238.4" x2="451.3" y2="238.4" stroke="#888" stroke-width="1.3"/><text x="429.2" y="242.3" font-size="10.6">100</text><line x1="447.6" y1="255.64" x2="451.3" y2="255.64" stroke="#888" stroke-width="1.3"/><text x="435.13" y="259.54" font-size="10.6">80</text><line x1="447.6" y1="272.88" x2="451.3" y2="272.88" stroke="#888" stroke-width="1.3"/><text x="435.13" y="276.78" font-size="10.6">60</text><line x1="447.6" y1="290.12" x2="451.3" y2="290.12" stroke="#888" stroke-width="1.3"/><text x="435.13" y="294.02" font-size="10.6">40</text><line x1="447.6" y1="307.36" x2="451.3" y2="307.36" stroke="#888" stroke-width="1.3"/><text x="435.13" y="311.26" font-size="10.6">20</text><line x1="447.6" y1="324.6" x2="451.3" y2="324.6" stroke="#888" stroke-width="1.3"/><text x="441.02" y="328.5" font-size="10.6">0</text><line x1="451.3" y1="325" x2="679.8" y2="325" stroke="#888" stroke-width="1.4"/><line x1="486.3" y1="324.6" x2="486.3" y2="327.5" stroke="#888" stroke-width="1.3"/><line x1="539.1" y1="324.6" x2="539.1" y2="327.5" stroke="#888" stroke-width="1.3"/><line x1="591.8" y1="324.6" x2="591.8" y2="327.5" stroke="#888" stroke-width="1.3"/><line x1="644.7" y1="324.6" x2="644.7" y2="327.5" stroke="#888" stroke-width="1.3"/><text x="438.6" y="340" font-size="10.66">Alum</text><text x="479.58" y="339.6" font-size="10.5">D3</text><text x="532.38" y="339.6" font-size="10.5">D5</text><text x="582.17" y="339.6" font-size="10.5">D10</text><text x="635.07" y="339.6" font-size="10.5">D14</text><polyline points="486.3,276 539.1,267 591.8,257.7 644.7,260" fill="none" stroke="#ff0000" stroke-width="1"/><line x1="486.3" y1="266.2" x2="486.3" y2="285.9" stroke="#ff0000" stroke-width="1.1"/><line x1="483.7" y1="266.2" x2="488.9" y2="266.2" stroke="#ff0000" stroke-width="1.1"/><line x1="483.7" y1="285.9" x2="488.9" y2="285.9" stroke="#ff0000" stroke-width="1.1"/><circle cx="486.3" cy="276" r="2.7" fill="#ff0000"/><line x1="539.1" y1="257.7" x2="539.1" y2="275.8" stroke="#ff0000" stroke-width="1.1"/><line x1="536.5" y1="257.7" x2="541.7" y2="257.7" stroke="#ff0000" stroke-width="1.1"/><line x1="536.5" y1="275.8" x2="541.7" y2="275.8" stroke="#ff0000" stroke-width="1.1"/><circle cx="539.1" cy="267" r="2.7" fill="#ff0000"/><line x1="591.8" y1="252.3" x2="591.8" y2="262.4" stroke="#ff0000" stroke-width="1.1"/><line x1="589.2" y1="252.3" x2="594.4" y2="252.3" stroke="#ff0000" stroke-width="1.1"/><line x1="589.2" y1="262.4" x2="594.4" y2="262.4" stroke="#ff0000" stroke-width="1.1"/><circle cx="591.8" cy="257.7" r="2.7" fill="#ff0000"/><line x1="644.7" y1="255.6" x2="644.7" y2="263.3" stroke="#ff0000" stroke-width="1.1"/><line x1="642.1" y1="255.6" x2="647.3" y2="255.6" stroke="#ff0000" stroke-width="1.1"/><line x1="642.1" y1="263.3" x2="647.3" y2="263.3" stroke="#ff0000" stroke-width="1.1"/><circle cx="644.7" cy="260" r="2.7" fill="#ff0000"/><polyline points="486.3,299.4 539.1,305.9 591.8,298.4 644.7,300.2" fill="none" stroke="#0000ff" stroke-width="1"/><line x1="486.3" y1="292.4" x2="486.3" y2="305.6" stroke="#0000ff" stroke-width="1.1"/><line x1="483.7" y1="292.4" x2="488.9" y2="292.4" stroke="#0000ff" stroke-width="1.1"/><line x1="483.7" y1="305.6" x2="488.9" y2="305.6" stroke="#0000ff" stroke-width="1.1"/><circle cx="486.3" cy="299.4" r="2.7" fill="#0000ff"/><line x1="539.1" y1="297.5" x2="539.1" y2="314.3" stroke="#0000ff" stroke-width="1.1"/><line x1="536.5" y1="297.5" x2="541.7" y2="297.5" stroke="#0000ff" stroke-width="1.1"/><line x1="536.5" y1="314.3" x2="541.7" y2="314.3" stroke="#0000ff" stroke-width="1.1"/><circle cx="539.1" cy="305.9" r="2.7" fill="#0000ff"/><line x1="591.8" y1="293.4" x2="591.8" y2="303.2" stroke="#0000ff" stroke-width="1.1"/><line x1="589.2" y1="293.4" x2="594.4" y2="293.4" stroke="#0000ff" stroke-width="1.1"/><line x1="589.2" y1="303.2" x2="594.4" y2="303.2" stroke="#0000ff" stroke-width="1.1"/><circle cx="591.8" cy="298.4" r="2.7" fill="#0000ff"/><line x1="644.7" y1="292.3" x2="644.7" y2="308.6" stroke="#0000ff" stroke-width="1.1"/><line x1="642.1" y1="292.3" x2="647.3" y2="292.3" stroke="#0000ff" stroke-width="1.1"/><line x1="642.1" y1="308.6" x2="647.3" y2="308.6" stroke="#0000ff" stroke-width="1.1"/><circle cx="644.7" cy="300.2" r="2.7" fill="#0000ff"/><text x="471.5" y="257" font-size="10.72">0.0024</text><line x1="476" y1="261.1" x2="496.9" y2="261.1" stroke="#555" stroke-width="1"/><text x="520.5" y="249.3" font-size="10.6">&lt;0.0001</text><line x1="528.7" y1="253.4" x2="549.9" y2="253.4" stroke="#555" stroke-width="1"/><text x="575.9" y="243.7" font-size="10.9">0.0006</text><line x1="580.9" y1="248.2" x2="602" y2="248.2" stroke="#555" stroke-width="1"/><text x="626.2" y="245.9" font-size="10.6">&lt;0.0001</text><line x1="633.4" y1="250.4" x2="654" y2="250.4" stroke="#555" stroke-width="1"/><text transform="translate(422.5,281.5) rotate(-90)"><tspan x="-56.21" y="0" font-size="10.6">%BCL6</tspan><tspan x="-20.27" y="-4" font-size="7">+</tspan><tspan x="-16.18" y="0" font-size="10.6">  in CD95</tspan><tspan x="28" y="-4" font-size="7">+</tspan><tspan x="32.09" y="0" font-size="10.6">GL7</tspan><tspan x="52.13" y="-4" font-size="7">+</tspan></text><text x="10.2" y="411.9" font-size="15.6" font-weight="bold">E</text><text x="52.6" y="450.5" font-size="12.1">BCL6  target genes (n=737)</text><rect x="53.6" y="460.8" width="148.1" height="101.2" fill="#fff" stroke="#d4d4d4" stroke-width="1.5"/><line x1="72.11" y1="460.8" x2="72.11" y2="532" stroke="#ececec" stroke-width="0.6"/><line x1="90.62" y1="460.8" x2="90.62" y2="532" stroke="#ececec" stroke-width="0.6"/><line x1="109.14" y1="460.8" x2="109.14" y2="532" stroke="#ececec" stroke-width="0.6"/><line x1="127.65" y1="460.8" x2="127.65" y2="532" stroke="#ececec" stroke-width="0.6"/><line x1="146.16" y1="460.8" x2="146.16" y2="532" stroke="#ececec" stroke-width="0.6"/><line x1="164.67" y1="460.8" x2="164.67" y2="532" stroke="#ececec" stroke-width="0.6"/><line x1="183.19" y1="460.8" x2="183.19" y2="532" stroke="#ececec" stroke-width="0.6"/><line x1="53.6" y1="469.2" x2="201.7" y2="469.2" stroke="#ececec" stroke-width="0.6"/><line x1="53.6" y1="482" x2="201.7" y2="482" stroke="#ececec" stroke-width="0.6"/><line x1="53.6" y1="494.8" x2="201.7" y2="494.8" stroke="#ececec" stroke-width="0.6"/><line x1="53.6" y1="521.2" x2="201.7" y2="521.2" stroke="#ececec" stroke-width="0.6"/><line x1="53.6" y1="506.8" x2="201.7" y2="506.8" stroke="#a8a8a8" stroke-width="0.8"/><line x1="53.6" y1="532.3" x2="201.7" y2="532.3" stroke="#d0d0d0" stroke-width="0.8"/><text x="35.23" y="473.2" font-size="11.2">0.3</text><text x="35.23" y="486" font-size="11.2">0.2</text><text x="35.23" y="498.8" font-size="11.2">0.1</text><text x="35.23" y="511.4" font-size="11.2">0.0</text><text x="31.48" y="525.2" font-size="11.2">-0.1</text><polyline points="54.2,507.4 55.5,503 57,497 59,490.5 61,485 63,480 65.5,476 68,473.2 70.5,470 73,467.5 75.5,465.8 77.1,465 79,465.6 82,467 86,468.8 90,470.5 94,473 98,476 102,479.5 106,483 110,486.6 114,490.5 118,494.6 122,498.6 126,502.6 130,506.6 134,510.4 138,513.8 142,516.8 146,519.6 150,522 154,524 158,525.8 162,527.3 166,528.4 170,528.8 174,529 178,529.2 180.9,528.9 183,527.6 185.5,524.8 188,521 190.5,516 192.3,511 193.1,507.4" fill="none" stroke="#22dd22" stroke-width="1.3" stroke-linejoin="round"/><text x="60.4" y="504.8" font-size="11">NES=1.32</text><text x="60.4" y="518.2" font-size="11">FDR-q=0.17</text><rect x="54.6" y="533" width="1.37" height="22.7" fill="rgb(245,245,245)"/><rect x="55.92" y="533" width="0.53" height="22.7" fill="rgb(19,19,19)"/><rect x="56.41" y="533" width="0.98" height="22.7" fill="rgb(8,8,8)"/><rect x="57.34" y="533" width="0.89" height="22.7" fill="rgb(20,20,20)"/><rect x="58.18" y="533" width="0.47" height="22.7" fill="rgb(31,31,31)"/><rect x="58.61" y="533" width="0.87" height="22.7" fill="rgb(33,33,33)"/><rect x="59.43" y="533" width="0.81" height="22.7" fill="rgb(35,35,35)"/><rect x="60.19" y="533" width="1.04" height="22.7" fill="rgb(27,27,27)"/><rect x="61.18" y="533" width="1.42" height="22.7" fill="rgb(34,34,34)"/><rect x="62.55" y="533" width="0.82" height="22.7" fill="rgb(29,29,29)"/><rect x="63.32" y="533" width="0.76" height="22.7" fill="rgb(21,21,21)"/><rect x="64.03" y="533" width="1.17" height="22.7" fill="rgb(20,20,20)"/><rect x="65.15" y="533" width="1.09" height="22.7" fill="rgb(8,8,8)"/><rect x="66.19" y="533" width="0.77" height="22.7" fill="rgb(79,79,79)"/><rect x="66.91" y="533" width="0.56" height="22.7" fill="rgb(1,1,1)"/><rect x="67.43" y="533" width="0.73" height="22.7" fill="rgb(36,36,36)"/><rect x="68.1" y="533" width="0.78" height="22.7" fill="rgb(12,12,12)"/><rect x="68.84" y="533" width="0.75" height="22.7" fill="rgb(114,114,114)"/><rect x="69.54" y="533" width="0.71" height="22.7" fill="rgb(35,35,35)"/><rect x="70.2" y="533" width="1.16" height="22.7" fill="rgb(83,83,83)"/><rect x="71.31" y="533" width="1" height="22.7" fill="rgb(119,119,119)"/><rect x="72.25" y="533" width="1.4" height="22.7" fill="rgb(43,43,43)"/><rect x="73.6" y="533" width="0.51" height="22.7" fill="rgb(1,1,1)"/><rect x="74.05" y="533" width="1.26" height="22.7" fill="rgb(43,43,43)"/><rect x="75.26" y="533" width="1.25" height="22.7" fill="rgb(215,215,215)"/><rect x="76.47" y="533" width="1.44" height="22.7" fill="rgb(94,94,94)"/><rect x="77.86" y="533" width="1.42" height="22.7" fill="rgb(8,8,8)"/><rect x="79.23" y="533" width="0.53" height="22.7" fill="rgb(8,8,8)"/><rect x="79.71" y="533" width="1.38" height="22.7" fill="rgb(188,188,188)"/><rect x="81.04" y="533" width="0.55" height="22.7" fill="rgb(76,76,76)"/><rect x="81.54" y="533" width="0.99" height="22.7" fill="rgb(85,85,85)"/><rect x="82.49" y="533" width="0.87" height="22.7" fill="rgb(207,207,207)"/><rect x="83.31" y="533" width="0.79" height="22.7" fill="rgb(239,239,239)"/><rect x="84.05" y="533" width="1.35" height="22.7" fill="rgb(101,101,101)"/><rect x="85.35" y="533" width="1.14" height="22.7" fill="rgb(123,123,123)"/><rect x="86.44" y="533" width="0.69" height="22.7" fill="rgb(18,18,18)"/><rect x="87.08" y="533" width="1.22" height="22.7" fill="rgb(114,114,114)"/><rect x="88.25" y="533" width="1.28" height="22.7" fill="rgb(28,28,28)"/><rect x="89.48" y="533" width="0.78" height="22.7" fill="rgb(143,143,143)"/><rect x="90.21" y="533" width="0.7" height="22.7" fill="rgb(176,176,176)"/><rect x="90.86" y="533" width="1.01" height="22.7" fill="rgb(83,83,83)"/><rect x="91.82" y="533" width="1.01" height="22.7" fill="rgb(20,20,20)"/><rect x="92.78" y="533" width="1.17" height="22.7" fill="rgb(16,16,16)"/><rect x="93.9" y="533" width="1.24" height="22.7" fill="rgb(39,39,39)"/><rect x="95.08" y="533" width="0.65" height="22.7" fill="rgb(77,77,77)"/><rect x="95.69" y="533" width="0.9" height="22.7" fill="rgb(3,3,3)"/><rect x="96.54" y="533" width="1.15" height="22.7" fill="rgb(31,31,31)"/><rect x="97.64" y="533" width="0.99" height="22.7" fill="rgb(112,112,112)"/><rect x="98.58" y="533" width="0.75" height="22.7" fill="rgb(177,177,177)"/><rect x="99.27" y="533" width="1.33" height="22.7" fill="rgb(212,212,212)"/><rect x="100.55" y="533" width="1.23" height="22.7" fill="rgb(221,221,221)"/><rect x="101.73" y="533" width="0.74" height="22.7" fill="rgb(94,94,94)"/><rect x="102.42" y="533" width="0.75" height="22.7" fill="rgb(199,199,199)"/><rect x="103.12" y="533" width="0.84" height="22.7" fill="rgb(141,141,141)"/><rect x="103.91" y="533" width="0.93" height="22.7" fill="rgb(85,85,85)"/><rect x="104.79" y="533" width="0.73" height="22.7" fill="rgb(9,9,9)"/><rect x="105.46" y="533" width="0.71" height="22.7" fill="rgb(212,212,212)"/><rect x="106.13" y="533" width="0.56" height="22.7" fill="rgb(72,72,72)"/><rect x="106.64" y="533" width="1.02" height="22.7" fill="rgb(145,145,145)"/><rect x="107.6" y="533" width="0.71" height="22.7" fill="rgb(191,191,191)"/><rect x="108.26" y="533" width="1.43" height="22.7" fill="rgb(64,64,64)"/><rect x="109.65" y="533" width="1.26" height="22.7" fill="rgb(16,16,16)"/><rect x="110.85" y="533" width="0.6" height="22.7" fill="rgb(177,177,177)"/><rect x="111.4" y="533" width="1.19" height="22.7" fill="rgb(127,127,127)"/><rect x="112.54" y="533" width="0.74" height="22.7" fill="rgb(41,41,41)"/><rect x="113.23" y="533" width="1.1" height="22.7" fill="rgb(43,43,43)"/><rect x="114.29" y="533" width="1.36" height="22.7" fill="rgb(0,0,0)"/><rect x="115.6" y="533" width="1.06" height="22.7" fill="rgb(32,32,32)"/><rect x="116.61" y="533" width="0.92" height="22.7" fill="rgb(218,218,218)"/><rect x="117.48" y="533" width="1.22" height="22.7" fill="rgb(221,221,221)"/><rect x="118.65" y="533" width="1.04" height="22.7" fill="rgb(73,73,73)"/><rect x="119.64" y="533" width="0.54" height="22.7" fill="rgb(187,187,187)"/><rect x="120.13" y="533" width="0.88" height="22.7" fill="rgb(121,121,121)"/><rect x="120.96" y="533" width="0.98" height="22.7" fill="rgb(207,207,207)"/><rect x="121.89" y="533" width="0.81" height="22.7" fill="rgb(233,233,233)"/><rect x="122.65" y="533" width="1.38" height="22.7" fill="rgb(148,148,148)"/><rect x="123.98" y="533" width="1.43" height="22.7" fill="rgb(180,180,180)"/><rect x="125.36" y="533" width="0.83" height="22.7" fill="rgb(143,143,143)"/><rect x="126.14" y="533" width="0.49" height="22.7" fill="rgb(32,32,32)"/><rect x="126.58" y="533" width="1.21" height="22.7" fill="rgb(81,81,81)"/><rect x="127.74" y="533" width="0.86" height="22.7" fill="rgb(14,14,14)"/><rect x="128.55" y="533" width="0.88" height="22.7" fill="rgb(220,220,220)"/><rect x="129.37" y="533" width="0.86" height="22.7" fill="rgb(14,14,14)"/><rect x="130.19" y="533" width="1.12" height="22.7" fill="rgb(7,7,7)"/><rect x="131.26" y="533" width="1.27" height="22.7" fill="rgb(156,156,156)"/><rect x="132.48" y="533" width="0.99" height="22.7" fill="rgb(102,102,102)"/><rect x="133.42" y="533" width="1.06" height="22.7" fill="rgb(253,253,253)"/><rect x="134.42" y="533" width="1.11" height="22.7" fill="rgb(2,2,2)"/><rect x="135.49" y="533" width="1.29" height="22.7" fill="rgb(17,17,17)"/><rect x="136.73" y="533" width="0.51" height="22.7" fill="rgb(17,17,17)"/><rect x="137.18" y="533" width="1.42" height="22.7" fill="rgb(130,130,130)"/><rect x="138.56" y="533" width="1.12" height="22.7" fill="rgb(7,7,7)"/><rect x="139.63" y="533" width="1.05" height="22.7" fill="rgb(26,26,26)"/><rect x="140.63" y="533" width="0.96" height="22.7" fill="rgb(72,72,72)"/><rect x="141.54" y="533" width="0.52" height="22.7" fill="rgb(74,74,74)"/><rect x="142.01" y="533" width="1.09" height="22.7" fill="rgb(27,27,27)"/><rect x="143.05" y="533" width="1.2" height="22.7" fill="rgb(113,113,113)"/><rect x="144.2" y="533" width="0.65" height="22.7" fill="rgb(44,44,44)"/><rect x="144.8" y="533" width="0.72" height="22.7" fill="rgb(22,22,22)"/><rect x="145.47" y="533" width="1" height="22.7" fill="rgb(89,89,89)"/><rect x="146.41" y="533" width="1.41" height="22.7" fill="rgb(35,35,35)"/><rect x="147.78" y="533" width="1.02" height="22.7" fill="rgb(183,183,183)"/><rect x="148.75" y="533" width="1.14" height="22.7" fill="rgb(226,226,226)"/><rect x="149.84" y="533" width="0.56" height="22.7" fill="rgb(252,252,252)"/><rect x="150.35" y="533" width="0.56" height="22.7" fill="rgb(67,67,67)"/><rect x="150.86" y="533" width="0.53" height="22.7" fill="rgb(131,131,131)"/><rect x="151.34" y="533" width="1.41" height="22.7" fill="rgb(111,111,111)"/><rect x="152.7" y="533" width="0.72" height="22.7" fill="rgb(159,159,159)"/><rect x="153.37" y="533" width="1.1" height="22.7" fill="rgb(186,186,186)"/><rect x="154.42" y="533" width="1.18" height="22.7" fill="rgb(67,67,67)"/><rect x="155.55" y="533" width="1.27" height="22.7" fill="rgb(9,9,9)"/><rect x="156.77" y="533" width="0.51" height="22.7" fill="rgb(74,74,74)"/><rect x="157.23" y="533" width="1.43" height="22.7" fill="rgb(36,36,36)"/><rect x="158.61" y="533" width="1.21" height="22.7" fill="rgb(117,117,117)"/><rect x="159.77" y="533" width="1.25" height="22.7" fill="rgb(73,73,73)"/><rect x="160.97" y="533" width="1.25" height="22.7" fill="rgb(26,26,26)"/><rect x="162.16" y="533" width="0.96" height="22.7" fill="rgb(205,205,205)"/><rect x="163.07" y="533" width="1.3" height="22.7" fill="rgb(14,14,14)"/><rect x="164.33" y="533" width="1.12" height="22.7" fill="rgb(143,143,143)"/><rect x="165.4" y="533" width="0.66" height="22.7" fill="rgb(139,139,139)"/><rect x="166.01" y="533" width="0.59" height="22.7" fill="rgb(26,26,26)"/><rect x="166.55" y="533" width="1.43" height="22.7" fill="rgb(102,102,102)"/><rect x="167.92" y="533" width="0.96" height="22.7" fill="rgb(112,112,112)"/><rect x="168.83" y="533" width="0.99" height="22.7" fill="rgb(153,153,153)"/><rect x="169.77" y="533" width="1.25" height="22.7" fill="rgb(86,86,86)"/><rect x="170.97" y="533" width="1.05" height="22.7" fill="rgb(131,131,131)"/><rect x="171.97" y="533" width="1.4" height="22.7" fill="rgb(180,180,180)"/><rect x="173.32" y="533" width="0.96" height="22.7" fill="rgb(9,9,9)"/><rect x="174.23" y="533" width="0.95" height="22.7" fill="rgb(235,235,235)"/><rect x="175.13" y="533" width="0.55" height="22.7" fill="rgb(16,16,16)"/><rect x="175.63" y="533" width="1.34" height="22.7" fill="rgb(7,7,7)"/><rect x="176.91" y="533" width="1" height="22.7" fill="rgb(1,1,1)"/><rect x="177.86" y="533" width="1.04" height="22.7" fill="rgb(235,235,235)"/><rect x="178.86" y="533" width="1.19" height="22.7" fill="rgb(25,25,25)"/><rect x="179.99" y="533" width="1.09" height="22.7" fill="rgb(104,104,104)"/><rect x="181.03" y="533" width="0.5" height="22.7" fill="rgb(192,192,192)"/><rect x="181.48" y="533" width="1.19" height="22.7" fill="rgb(35,35,35)"/><rect x="182.62" y="533" width="0.79" height="22.7" fill="rgb(19,19,19)"/><rect x="183.36" y="533" width="0.93" height="22.7" fill="rgb(100,100,100)"/><rect x="184.24" y="533" width="1.12" height="22.7" fill="rgb(32,32,32)"/><rect x="185.31" y="533" width="0.62" height="22.7" fill="rgb(250,250,250)"/><rect x="185.88" y="533" width="0.47" height="22.7" fill="rgb(137,137,137)"/><rect x="186.3" y="533" width="1.14" height="22.7" fill="rgb(32,32,32)"/><rect x="187.4" y="533" width="1.22" height="22.7" fill="rgb(156,156,156)"/><rect x="188.57" y="533" width="1.4" height="22.7" fill="rgb(152,152,152)"/><rect x="189.92" y="533" width="0.59" height="22.7" fill="rgb(23,23,23)"/><rect x="190.46" y="533" width="0.97" height="22.7" fill="rgb(224,224,224)"/><rect x="191.38" y="533" width="1.07" height="22.7" fill="rgb(154,154,154)"/><rect x="192.4" y="533" width="0.75" height="22.7" fill="rgb(120,120,120)"/><defs><linearGradient id="cb" x1="0" x2="1" y1="0" y2="0"><stop offset="0" stop-color="#d83848"/><stop offset="0.2" stop-color="#dc4858"/><stop offset="0.37" stop-color="#e87080"/><stop offset="0.385" stop-color="#f0a8cc"/><stop offset="0.52" stop-color="#f2c4e0"/><stop offset="0.53" stop-color="#d4d4f4"/><stop offset="0.72" stop-color="#b8b8f0"/><stop offset="0.73" stop-color="#7474e8"/><stop offset="0.92" stop-color="#4848dc"/><stop offset="0.94" stop-color="#2020b8"/><stop offset="1" stop-color="#1010a0"/></linearGradient></defs><rect x="54.6" y="555.7" width="138.5" height="6" fill="url(#cb)"/><text transform="translate(24.8,501.3) rotate(-90)"><tspan x="-42.92" y="0" font-size="10.8">Enrichment Score</tspan></text><text transform="translate(55.8,574.9)" fill="#0000ff"><tspan x="0" y="0" font-size="11" font-style="italic">Cfp1</tspan><tspan x="23.24" y="-2.4" font-size="6.8">fl/fl</tspan><tspan x="31.92" y="0" font-size="6" font-style="italic"> </tspan><tspan x="33.59" y="0" font-size="11" font-style="italic">Aicda</tspan><tspan x="61.11" y="-2.4" font-size="6.6">Cre</tspan></text><text transform="translate(169.5,574.9)" fill="#ff0000"><tspan x="0" y="0" font-size="11" font-style="italic">Cfp1</tspan><tspan x="23.24" y="-2.4" font-size="6.8">fl/fl</tspan></text><text x="240.9" y="411.8" font-size="15.3" font-weight="bold">F</text><line x1="270.3" y1="432.8" x2="315.8" y2="432.8" stroke="#444" stroke-width="1"/><line x1="270.3" y1="428.6" x2="270.3" y2="436.6" stroke="#444" stroke-width="1"/><line x1="315.8" y1="428.6" x2="315.8" y2="436.6" stroke="#444" stroke-width="1"/><text x="285.1" y="429.6" font-size="10.8">5Kb</text><rect x="269.5" y="440.6" width="111.5" height="145.7" fill="none" stroke="#a0a0a0" stroke-width="0.8"/><text x="229.56" y="469.7" font-size="10.62" font-weight="bold">mRNA</text><text x="212.84" y="510.9" font-size="10.78" font-weight="bold">H3K4me3</text><text x="234.71" y="543.3" font-size="10.68" font-weight="bold">CFP1</text><text x="239.82" y="559.3" font-size="10.7" font-weight="bold" fill="#c00000">CpG</text><line x1="266.8" y1="450.7" x2="266.8" y2="476.9" stroke="#000" stroke-width="1.6"/><line x1="266.8" y1="492.7" x2="266.8" y2="519.9" stroke="#000" stroke-width="1.6"/><line x1="266.8" y1="532.1" x2="266.8" y2="544.7" stroke="#000" stroke-width="1.6"/><path d="M272.3 462.9V462.9H273.3V462.9H274.3V462.9H275.3V462.9H276.3V462.9H277.3V462.9H278.3V457.31H279.3V457.43H280.3V457.74H281.3V458.07H282.3V457.46H283.3V457.43H284.3V457.56H285.3V458.15H286.3V457.47H287.3V458.13H288.3V462.9H289.3V462.9H290.3V462.9H291.3V462.9H292.3V462.9H293.3V462.9H294.3V462.9H295.3V462.9H296.3V462.9H297.3V459.85H298.3V459.26H299.3V459.71H300.3V459.61H301.3V459.57H302.3V460.24H303.3V459.21H304.3V462.9H305.3V462.9H306.3V462.9H307.3V462.9H308.3V462.9H309.3V462.9H310.3V462.9H311.3V462.9H312.3V462.9H313.3V462.9H314.3V460.7H315.3V462.9H316.3V462.9H317.3V462.9H318.3V461.75H319.3V462.9H320.3V462.26H321.3V461.74H322.3V462.36H323.3V462.9H324.3V462.9H325.3V462.9H326.3V462.9H327.3V462.37H328.3V462.9H329.3V462.9H330.3V461.92H331.3V462.9H332.3V462.9H333.3V461.87H334.3V462.9H335.3V462H336.3V462.51H337.3V462.26H338.3V462H339.3V462.9H340.3V462.9H341.3V462.9H342.3V462.9H343.3V462.9H344.3V462.39H345.3V462.9H346.3V462.9H347.3V462.9H348.3V462.38H349.3V462.9H350.3V462.9H351.3V462.9H352.3V462.9H353.3V462.9H354.3V462.9H355.3V462.9H356.3V462.9H357.3V462.9H358.3V462.9H359.3V462.9H360.3V462.9H361.3V462.9H362.3V462.9H363.3V462.9H364.3V462.9H365.3V462.9H366.3V462.9H367.3V462.9H368.3V462.9H369.3V462.9H370.3V462.9H371.3V462.9H372.3V462.9H373.3V462.9H374.3V462.9H375.3V462.9Z" fill="#ff0000"/><line x1="272.3" y1="462.9" x2="375.7" y2="462.9" stroke="#ff9090" stroke-width="0.8"/><path d="M272.3 483.9V483.9H273.3V483.9H274.3V483.9H275.3V483.59H276.3V482.3H277.3V478.63H278.3V470.75H279.3V468.42H280.3V469.86H281.3V469.89H282.3V470.71H283.3V468.7H284.3V468.99H285.3V470.37H286.3V470.62H287.3V470.61H288.3V483.9H289.3V483.54H290.3V482.92H291.3V483.49H292.3V483.57H293.3V483.35H294.3V483.38H295.3V483.9H296.3V483.03H297.3V473.31H298.3V473.22H299.3V481.08H300.3V480.97H301.3V481.2H302.3V472.94H303.3V473.35H304.3V483.9H305.3V483.56H306.3V483.9H307.3V483.39H308.3V483.9H309.3V483.57H310.3V482.93H311.3V483.9H312.3V483.9H313.3V483.9H314.3V476.66H315.3V483.9H316.3V483.9H317.3V483.9H318.3V483.34H319.3V483.9H320.3V483.01H321.3V483.9H322.3V483.9H323.3V483.9H324.3V483.9H325.3V483.43H326.3V483.58H327.3V483.9H328.3V483.9H329.3V483.9H330.3V483.9H331.3V482.92H332.3V483.9H333.3V483.9H334.3V483.38H335.3V483.34H336.3V483.1H337.3V483.9H338.3V483.05H339.3V483.9H340.3V483.9H341.3V483.9H342.3V483.9H343.3V483.9H344.3V482.92H345.3V483.9H346.3V483.9H347.3V483.9H348.3V483.9H349.3V478.4H350.3V483.9H351.3V483.9H352.3V483.9H353.3V483.9H354.3V483.9H355.3V483.9H356.3V483.9H357.3V483.9H358.3V483.9H359.3V483.9H360.3V483.9H361.3V483.9H362.3V483.9H363.3V483.9H364.3V483.9H365.3V483.9H366.3V483.9H367.3V483.9H368.3V483.9H369.3V483.9H370.3V483.9H371.3V483.9H372.3V483.9H373.3V483.9H374.3V483.9H375.3V483.9Z" fill="#0000ff"/><line x1="272.3" y1="483.9" x2="375.7" y2="483.9" stroke="#9090ff" stroke-width="0.8"/><path d="M272.3 505V505H273.3V505H274.3V505H275.3V505H276.3V505H277.3V505H278.3V505H279.3V505H280.3V505H281.3V505H282.3V505H283.3V505H284.3V505H285.3V505H286.3V505H287.3V505H288.3V505H289.3V505H290.3V505H291.3V505H292.3V505H293.3V505H294.3V505H295.3V505H296.3V505H297.3V505H298.3V505H299.3V505H300.3V505H301.3V505H302.3V505H303.3V505H304.3V505H305.3V505H306.3V505H307.3V505H308.3V505H309.3V505H310.3V505H311.3V505H312.3V505H313.3V505H314.3V505H315.3V505H316.3V505H317.3V505H318.3V505H319.3V505H320.3V505H321.3V505H322.3V505H323.3V505H324.3V505H325.3V505H326.3V505H327.3V505H328.3V505H329.3V505H330.3V505H331.3V505H332.3V505H333.3V504.88H334.3V504.25H335.3V502.22H336.3V501.39H337.3V501.78H338.3V502.4H339.3V501.43H340.3V499.74H341.3V498.62H342.3V499.61H343.3V500.82H344.3V500.39H345.3V498.48H346.3V497.95H347.3V501.31H348.3V495.95H349.3V490.48H350.3V493.56H351.3V500.33H352.3V504.04H353.3V504.9H354.3V505H355.3V505H356.3V505H357.3V505H358.3V505H359.3V504.2H360.3V505H361.3V505H362.3V505H363.3V505H364.3V505H365.3V505H366.3V505H367.3V505H368.3V505H369.3V505H370.3V505H371.3V505H372.3V505H373.3V505H374.3V505H375.3V505Z" fill="#ff0000"/><line x1="272.3" y1="505" x2="375.7" y2="505" stroke="#ffb0b0" stroke-width="0.8"/><path d="M272.3 525.5V525.5H273.3V525.5H274.3V525.5H275.3V524.7H276.3V525.5H277.3V525.5H278.3V525.5H279.3V525.5H280.3V525.5H281.3V525.5H282.3V525.5H283.3V525.5H284.3V525.5H285.3V525.5H286.3V525.5H287.3V525.5H288.3V525.5H289.3V525.5H290.3V525.5H291.3V525.5H292.3V525.5H293.3V525.5H294.3V525.5H295.3V525.5H296.3V525.5H297.3V525.5H298.3V525.5H299.3V525.5H300.3V525.5H301.3V525.5H302.3V525.5H303.3V525.5H304.3V525.5H305.3V525.5H306.3V525.5H307.3V525.5H308.3V525.5H309.3V525.5H310.3V525.5H311.3V525.5H312.3V525.5H313.3V525.5H314.3V525.5H315.3V525.5H316.3V525.5H317.3V525.5H318.3V525.5H319.3V525.5H320.3V525.5H321.3V525.5H322.3V525.5H323.3V525.5H324.3V525.5H325.3V525.5H326.3V525.5H327.3V525.5H328.3V525.5H329.3V525.5H330.3V525.5H331.3V525.5H332.3V525.43H333.3V525.08H334.3V523.85H335.3V521.18H336.3V517.19H337.3V516.53H338.3V518.76H339.3V522.43H340.3V521.57H341.3V520.95H342.3V518.63H343.3V517.7H344.3V519.41H345.3V522.23H346.3V522.01H347.3V522.2H348.3V516.8H349.3V511.67H350.3V513.92H351.3V520.42H352.3V524.19H353.3V525.31H354.3V525.5H355.3V525.5H356.3V525.5H357.3V525.5H358.3V524.7H359.3V525.5H360.3V525.5H361.3V525.5H362.3V525.5H363.3V525.5H364.3V525.5H365.3V525.5H366.3V525.5H367.3V525.5H368.3V525.5H369.3V525.5H370.3V525.5H371.3V525.5H372.3V525.5H373.3V525.5H374.3V525.5H375.3V525.5Z" fill="#0000ff"/><line x1="272.3" y1="525.5" x2="375.7" y2="525.5" stroke="#9090ff" stroke-width="0.8"/><path d="M272.3 545.8V543.86H273.3V543.39H274.3V542.93H275.3V543.87H276.3V543.1H277.3V544.94H278.3V544.41H279.3V544.94H280.3V545.27H281.3V544.92H282.3V544.13H283.3V545.14H284.3V545.21H285.3V545.26H286.3V545.26H287.3V545.26H288.3V544.52H289.3V542.89H290.3V544.88H291.3V545.1H292.3V542.92H293.3V543.83H294.3V543.54H295.3V544.52H296.3V544.92H297.3V544.78H298.3V545.1H299.3V545.15H300.3V543.61H301.3V544.16H302.3V545.2H303.3V544.32H304.3V543.54H305.3V545.06H306.3V545.27H307.3V544.31H308.3V544.35H309.3V545.25H310.3V544.48H311.3V544.08H312.3V543.31H313.3V544.05H314.3V543.33H315.3V545.13H316.3V545.12H317.3V544.73H318.3V543.62H319.3V543.67H320.3V542.95H321.3V542.94H322.3V543.84H323.3V541.84H324.3V544.34H325.3V543.41H326.3V543.98H327.3V542.41H328.3V542.87H329.3V543.69H330.3V541.65H331.3V541.72H332.3V542.26H333.3V542.33H334.3V541.9H335.3V542.99H336.3V541.98H337.3V541.78H338.3V541.57H339.3V541.34H340.3V542.28H341.3V542.36H342.3V543.24H343.3V541.46H344.3V542.41H345.3V543.77H346.3V542.37H347.3V541.84H348.3V537.01H349.3V533.85H350.3V535.29H351.3V536.83H352.3V533.86H353.3V532.08H354.3V538.34H355.3V541.59H356.3V542.42H357.3V542.24H358.3V542.78H359.3V542.04H360.3V542.67H361.3V543.43H362.3V542.94H363.3V544.15H364.3V544.88H365.3V543.58H366.3V543.43H367.3V545.23H368.3V544.43H369.3V545.26H370.3V545.18H371.3V544.86H372.3V544.58H373.3V543.36H374.3V545.27H375.3V545.8Z" fill="#ff00ff"/><line x1="272.3" y1="545.8" x2="375.7" y2="545.8" stroke="#ff00ff" stroke-width="1"/><text x="355.75" y="454.8" font-size="10">2800</text><text x="355.75" y="475.7" font-size="10">2800</text><text x="355.75" y="496.2" font-size="10">1000</text><text x="355.75" y="516.9" font-size="10">1000</text><text x="366.9" y="537.7" font-size="10">81</text><line x1="276.9" y1="568" x2="350.8" y2="568" stroke="#7b7be0" stroke-width="0.8"/><path d="M308.6 566.4L307 568L308.6 569.6" fill="none" stroke="#5555dd" stroke-width="0.7"/><path d="M323.6 566.4L322 568L323.6 569.6" fill="none" stroke="#5555dd" stroke-width="0.7"/><path d="M338.6 566.4L337 568L338.6 569.6" fill="none" stroke="#5555dd" stroke-width="0.7"/><rect x="276.9" y="564.75" width="9.6" height="6.5" fill="#1f1fbf"/><rect x="285.8" y="564" width="1" height="8" fill="#1f1fbf"/><rect x="293.5" y="566.75" width="0.7" height="2.5" fill="#1f1fbf"/><rect x="297.5" y="565.25" width="1" height="5.5" fill="#1f1fbf"/><rect x="301" y="565.25" width="1" height="5.5" fill="#1f1fbf"/><rect x="314.2" y="565.25" width="0.9" height="5.5" fill="#1f1fbf"/><rect x="349.8" y="565.25" width="1.2" height="5.5" fill="#1f1fbf"/><text x="311.2" y="582" font-size="10.75" font-style="italic">Cd69</text><text x="392" y="411.9" font-size="15.5" font-weight="bold">G</text><line x1="402.6" y1="433.3" x2="438.5" y2="433.3" stroke="#444" stroke-width="1"/><line x1="402.6" y1="429.2" x2="402.6" y2="437" stroke="#444" stroke-width="1"/><line x1="438.5" y1="429.2" x2="438.5" y2="437" stroke="#444" stroke-width="1"/><text x="411.1" y="429.6" font-size="10.6">10Kb</text><rect x="403.4" y="440.7" width="130.4" height="145.6" fill="none" stroke="#a0a0a0" stroke-width="0.8"/><path d="M406.2 463.3V463.3H407.2V463.3H408.2V463.3H409.2V463.3H410.2V463.3H411.2V463.3H412.2V453.7H413.2V463.3H414.2V463.3H415.2V463.3H416.2V463.3H417.2V463.3H418.2V463.3H419.2V463.3H420.2V463.3H421.2V463.3H422.2V463.3H423.2V463.3H424.2V463.3H425.2V463.3H426.2V463.3H427.2V463.3H428.2V463.3H429.2V463.3H430.2V463.3H431.2V463.3H432.2V463.3H433.2V463.3H434.2V463.3H435.2V463.3H436.2V463.3H437.2V463.3H438.2V463.3H439.2V463.3H440.2V463.3H441.2V463.3H442.2V463.3H443.2V463.3H444.2V463.3H445.2V463.3H446.2V463.3H447.2V463.3H448.2V463.3H449.2V463.3H450.2V463.3H451.2V463.3H452.2V463.3H453.2V463.3H454.2V463.3H455.2V463.3H456.2V463.3H457.2V463.3H458.2V463.3H459.2V463.3H460.2V463.3H461.2V463.3H462.2V463.3H463.2V463.3H464.2V463.3H465.2V463.3H466.2V463.3H467.2V463.3H468.2V463.3H469.2V463.3H470.2V463.3H471.2V463.3H472.2V463.3H473.2V463.3H474.2V463.3H475.2V463.3H476.2V463.3H477.2V463.3H478.2V463.3H479.2V451.04H480.2V463.3H481.2V463.3H482.2V452.43H483.2V463.3H484.2V463.3H485.2V462.17H486.2V463.3H487.2V463.3H488.2V463.3H489.2V462.33H490.2V463.3H491.2V463.3H492.2V463.3H493.2V463.3H494.2V462.81H495.2V462.33H496.2V462.39H497.2V462.28H498.2V461.96H499.2V459.33H500.2V454.08H501.2V450.95H502.2V450.21H503.2V451.05H504.2V450.58H505.2V453.52H506.2V451.25H507.2V454.7H508.2V463.03H509.2V463.25H510.2V463.3H511.2V463.3H512.2V463.3H513.2V463.3H514.2V463.3H515.2V463.3H516.2V463.3H517.2V463.3H518.2V463.3H519.2V463.3H520.2V463.3H521.2V463.3H522.2V463.3H523.2V463.3H524.2V463.3H525.2V463.3Z" fill="#ff0000"/><line x1="406.2" y1="463.3" x2="524.7" y2="463.3" stroke="#ff0000" stroke-width="0.8"/><path d="M406.2 483.8V483.8H407.2V483.8H408.2V483.8H409.2V483.8H410.2V483.8H411.2V483.8H412.2V477.8H413.2V483.8H414.2V483.8H415.2V483.8H416.2V483.8H417.2V483.8H418.2V483.8H419.2V483.8H420.2V483.8H421.2V483.8H422.2V483.8H423.2V483.8H424.2V483.8H425.2V483.8H426.2V483.8H427.2V483.8H428.2V483.8H429.2V483.8H430.2V483.8H431.2V483.8H432.2V483.8H433.2V483.8H434.2V483.8H435.2V483.8H436.2V483.8H437.2V483.8H438.2V483.8H439.2V483.8H440.2V483.8H441.2V483.8H442.2V483.8H443.2V483.8H444.2V483.8H445.2V483.8H446.2V483.8H447.2V483.8H448.2V483.8H449.2V483.8H450.2V483.8H451.2V483.8H452.2V483.8H453.2V483.8H454.2V483.8H455.2V483.8H456.2V483.8H457.2V483.8H458.2V483.8H459.2V483.8H460.2V483.8H461.2V483.8H462.2V483.8H463.2V483.8H464.2V483.8H465.2V483.8H466.2V483.8H467.2V483.8H468.2V483.8H469.2V483.8H470.2V483.8H471.2V483.8H472.2V483.8H473.2V483.8H474.2V483.8H475.2V483.8H476.2V483.8H477.2V483.8H478.2V483.8H479.2V476.06H480.2V483.8H481.2V483.8H482.2V476.81H483.2V483.8H484.2V483.8H485.2V483.8H486.2V483.8H487.2V483.8H488.2V483.8H489.2V483.8H490.2V483.8H491.2V483.8H492.2V483.8H493.2V483.8H494.2V483.8H495.2V483.8H496.2V483.8H497.2V483.73H498.2V483.49H499.2V482.95H500.2V478.51H501.2V476.15H502.2V475.48H503.2V473.01H504.2V475.47H505.2V476.64H506.2V478.16H507.2V475.83H508.2V483.25H509.2V483.63H510.2V483.8H511.2V483.8H512.2V483.8H513.2V483.8H514.2V483.8H515.2V483.8H516.2V483.8H517.2V483.8H518.2V483.8H519.2V483.8H520.2V483.8H521.2V483.8H522.2V483.8H523.2V483.8H524.2V483.8H525.2V483.8Z" fill="#0000ff"/><line x1="406.2" y1="483.8" x2="524.7" y2="483.8" stroke="#0000ff" stroke-width="0.8"/><path d="M406.2 504.3V503.44H407.2V502.29H408.2V499.8H409.2V494.41H410.2V493.18H411.2V489.92H412.2V489.04H413.2V491.38H414.2V493.59H415.2V493.92H416.2V494.12H417.2V494.14H418.2V493.53H419.2V494.38H420.2V496.4H421.2V498.73H422.2V500.7H423.2V503.62H424.2V504.12H425.2V504.3H426.2V504.3H427.2V504.3H428.2V504.3H429.2V504.3H430.2V503.41H431.2V504.3H432.2V504.3H433.2V504.3H434.2V504.3H435.2V504.3H436.2V504.3H437.2V504.3H438.2V504.3H439.2V504.3H440.2V504.3H441.2V504.3H442.2V504.3H443.2V504.3H444.2V504.3H445.2V504.3H446.2V504.3H447.2V504.3H448.2V504.3H449.2V504.3H450.2V504.3H451.2V504.3H452.2V503.5H453.2V504.3H454.2V504.3H455.2V504.3H456.2V504.3H457.2V504.3H458.2V504.3H459.2V504.3H460.2V504.3H461.2V504.3H462.2V504.3H463.2V504.3H464.2V504.3H465.2V504.3H466.2V504.3H467.2V504.3H468.2V504.3H469.2V504.3H470.2V504.3H471.2V504.3H472.2V504.3H473.2V504.3H474.2V504.3H475.2V504.3H476.2V504.3H477.2V504.3H478.2V504.3H479.2V504.3H480.2V504.3H481.2V504.3H482.2V504.3H483.2V504.3H484.2V504.3H485.2V504.3H486.2V504.3H487.2V504.3H488.2V504.3H489.2V504.3H490.2V504.3H491.2V504.3H492.2V504.3H493.2V504.3H494.2V504.3H495.2V504.3H496.2V504.3H497.2V504.3H498.2V504.3H499.2V504.3H500.2V504.3H501.2V504.3H502.2V504.3H503.2V504.3H504.2V504.3H505.2V504.3H506.2V504.3H507.2V504.3H508.2V504.3H509.2V504.3H510.2V504.3H511.2V504.3H512.2V504.3H513.2V504.3H514.2V504.3H515.2V504.3H516.2V504.3H517.2V504.3H518.2V504.3H519.2V504.3H520.2V504.3H521.2V504.3H522.2V504.3H523.2V504.3H524.2V504.3H525.2V504.3Z" fill="#ff0000"/><line x1="406.2" y1="504.3" x2="524.7" y2="504.3" stroke="#ff0000" stroke-width="0.8"/><path d="M406.2 524.2V524.2H407.2V524.08H408.2V523.67H409.2V522.58H410.2V519.9H411.2V516.53H412.2V514.35H413.2V515.64H414.2V518.46H415.2V520.29H416.2V520.33H417.2V519.01H418.2V516.07H419.2V514.45H420.2V517.82H421.2V520.51H422.2V523.34H423.2V524.06H424.2V523.4H425.2V524.2H426.2V524.2H427.2V523.32H428.2V524.2H429.2V524.2H430.2V524.2H431.2V524.2H432.2V524.2H433.2V524.2H434.2V524.2H435.2V524.2H436.2V524.2H437.2V524.2H438.2V524.2H439.2V524.2H440.2V524.2H441.2V524.2H442.2V524.2H443.2V524.2H444.2V524.2H445.2V524.2H446.2V524.2H447.2V524.2H448.2V524.2H449.2V524.2H450.2V524.2H451.2V524.2H452.2V524.2H453.2V523H454.2V524.2H455.2V524.2H456.2V524.2H457.2V524.2H458.2V524.2H459.2V524.2H460.2V524.2H461.2V524.2H462.2V524.2H463.2V524.2H464.2V524.2H465.2V524.2H466.2V524.2H467.2V524.2H468.2V524.2H469.2V524.2H470.2V524.2H471.2V524.2H472.2V524.2H473.2V524.2H474.2V524.2H475.2V524.2H476.2V524.2H477.2V524.2H478.2V524.2H479.2V524.2H480.2V524.2H481.2V524.2H482.2V524.2H483.2V524.2H484.2V524.2H485.2V524.2H486.2V524.2H487.2V524.2H488.2V524.2H489.2V524.2H490.2V524.2H491.2V524.2H492.2V524.2H493.2V524.2H494.2V524.2H495.2V524.2H496.2V524.2H497.2V524.2H498.2V524.2H499.2V524.2H500.2V524.2H501.2V524.2H502.2V524.2H503.2V524.2H504.2V524.2H505.2V524.2H506.2V524.2H507.2V524.2H508.2V524.2H509.2V524.2H510.2V524.2H511.2V524.2H512.2V524.2H513.2V524.2H514.2V524.2H515.2V523.4H516.2V524.2H517.2V524.2H518.2V524.2H519.2V524.2H520.2V524.2H521.2V524.2H522.2V524.2H523.2V524.2H524.2V524.2H525.2V524.2Z" fill="#0000ff"/><line x1="406.2" y1="524.2" x2="524.7" y2="524.2" stroke="#0000ff" stroke-width="0.8"/><path d="M406.2 545.2V542.89H407.2V542.31H408.2V541.64H409.2V539.4H410.2V533.93H411.2V530.05H412.2V539.16H413.2V537.99H414.2V539.34H415.2V537.78H416.2V539.69H417.2V538.62H418.2V540.46H419.2V539.51H420.2V540.84H421.2V542.31H422.2V540.36H423.2V541.83H424.2V542.28H425.2V542.41H426.2V540.79H427.2V541.18H428.2V542.37H429.2V540.34H430.2V541.75H431.2V542.21H432.2V542.65H433.2V541.82H434.2V541.58H435.2V542.06H436.2V541.22H437.2V541.87H438.2V542.01H439.2V542.37H440.2V541.61H441.2V541.15H442.2V541.4H443.2V541.3H444.2V542.37H445.2V541.54H446.2V541.85H447.2V541.36H448.2V541.25H449.2V542.52H450.2V541.51H451.2V541.19H452.2V542.3H453.2V541.07H454.2V540.42H455.2V536.06H456.2V534.35H457.2V538.73H458.2V540.45H459.2V542.55H460.2V543.64H461.2V542.07H462.2V544.61H463.2V544.64H464.2V543.9H465.2V544.65H466.2V544.65H467.2V544.2H468.2V543.99H469.2V543.56H470.2V542.85H471.2V542.82H472.2V544.08H473.2V542.26H474.2V544.55H475.2V543.53H476.2V542.62H477.2V542.03H478.2V544.46H479.2V543.66H480.2V544.45H481.2V544.53H482.2V544.28H483.2V544.12H484.2V544.16H485.2V544.16H486.2V544.61H487.2V544.39H488.2V542.38H489.2V542.81H490.2V543.95H491.2V543.44H492.2V544.34H493.2V543.16H494.2V544.34H495.2V543.05H496.2V544.02H497.2V543.81H498.2V542.64H499.2V544.57H500.2V542.7H501.2V544.58H502.2V544.6H503.2V543.67H504.2V544.11H505.2V544.41H506.2V544.16H507.2V544.27H508.2V544.13H509.2V543.17H510.2V542.57H511.2V543.59H512.2V542.57H513.2V543.5H514.2V542.4H515.2V544.16H516.2V542.6H517.2V542.27H518.2V544.19H519.2V542.14H520.2V542.28H521.2V544.55H522.2V544.27H523.2V542.43H524.2V542.78H525.2V545.2Z" fill="#ff00ff"/><line x1="406.2" y1="545.2" x2="524.7" y2="545.2" stroke="#ff00ff" stroke-width="1"/><text x="508.55" y="455.2" font-size="10">9000</text><text x="508.55" y="475.7" font-size="10">9000</text><text x="508.55" y="496.2" font-size="10">1000</text><text x="508.55" y="516.6" font-size="10">1000</text><text x="519.7" y="537.4" font-size="10">97</text><line x1="412.3" y1="567.7" x2="507.3" y2="567.7" stroke="#7b7be0" stroke-width="0.8"/><path d="M415.4 566.1L417 567.7L415.4 569.3" fill="none" stroke="#5555dd" stroke-width="0.7"/><path d="M424.4 566.1L426 567.7L424.4 569.3" fill="none" stroke="#5555dd" stroke-width="0.7"/><path d="M433.4 566.1L435 567.7L433.4 569.3" fill="none" stroke="#5555dd" stroke-width="0.7"/><path d="M443.4 566.1L445 567.7L443.4 569.3" fill="none" stroke="#5555dd" stroke-width="0.7"/><path d="M453.4 566.1L455 567.7L453.4 569.3" fill="none" stroke="#5555dd" stroke-width="0.7"/><path d="M463.4 566.1L465 567.7L463.4 569.3" fill="none" stroke="#5555dd" stroke-width="0.7"/><path d="M472.4 566.1L474 567.7L472.4 569.3" fill="none" stroke="#5555dd" stroke-width="0.7"/><path d="M488.4 566.1L490 567.7L488.4 569.3" fill="none" stroke="#5555dd" stroke-width="0.7"/><path d="M495.4 566.1L497 567.7L495.4 569.3" fill="none" stroke="#5555dd" stroke-width="0.7"/><rect x="412.1" y="565.2" width="0.8" height="5" fill="#1f1fbf"/><rect x="479.3" y="564.95" width="0.9" height="5.5" fill="#1f1fbf"/><rect x="482" y="564.95" width="0.9" height="5.5" fill="#1f1fbf"/><rect x="501.6" y="565.2" width="5.7" height="5" fill="#1f1fbf"/><text x="443.9" y="582" font-size="10.7" font-style="italic">Pou2af1</text><line x1="544.2" y1="434" x2="581.4" y2="434" stroke="#444" stroke-width="1"/><line x1="544.2" y1="429.4" x2="544.2" y2="437.2" stroke="#444" stroke-width="1"/><line x1="581.4" y1="429.4" x2="581.4" y2="437.2" stroke="#444" stroke-width="1"/><text x="554.3" y="429.9" font-size="10.6">5Kb</text><rect x="544.2" y="440.8" width="137.3" height="145.6" fill="none" stroke="#a0a0a0" stroke-width="0.8"/><path d="M548.3 463.4V463.4H549.3V463.4H550.3V463.4H551.3V463.4H552.3V457.2H553.3V463.4H554.3V463.4H555.3V463.4H556.3V463.4H557.3V463.4H558.3V463.4H559.3V463.4H560.3V463.4H561.3V463.4H562.3V463.4H563.3V463.4H564.3V463.4H565.3V463.4H566.3V463.4H567.3V463.4H568.3V463.4H569.3V463.4H570.3V463.4H571.3V463.4H572.3V463.4H573.3V463.4H574.3V463.4H575.3V463.4H576.3V463.4H577.3V463.4H578.3V463.4H579.3V463.4H580.3V463.4H581.3V463.4H582.3V463.4H583.3V463.4H584.3V463.4H585.3V463.4H586.3V463.4H587.3V463.4H588.3V463.4H589.3V463.4H590.3V463.4H591.3V463.4H592.3V463.4H593.3V463.4H594.3V463.4H595.3V463.4H596.3V463.4H597.3V463.4H598.3V463.4H599.3V463.4H600.3V463.4H601.3V463.4H602.3V463.4H603.3V463.4H604.3V463.4H605.3V463.4H606.3V463.4H607.3V463.4H608.3V463.4H609.3V463.4H610.3V463.4H611.3V463.4H612.3V463.4H613.3V463.4H614.3V463.4H615.3V463.4H616.3V463.4H617.3V463.4H618.3V463.4H619.3V463.4H620.3V463.4H621.3V463.4H622.3V463.4H623.3V463.4H624.3V463.4H625.3V463.4H626.3V463.4H627.3V463.4H628.3V463.4H629.3V463.4H630.3V463.4H631.3V463.4H632.3V463.4H633.3V463.4H634.3V452.4H635.3V463.4H636.3V463.4H637.3V463.4H638.3V463.4H639.3V448.29H640.3V448.03H641.3V463.4H642.3V463.4H643.3V451.89H644.3V463.4H645.3V452.65H646.3V453.01H647.3V463.4H648.3V453.87H649.3V453.32H650.3V463.4H651.3V453.46H652.3V453.2H653.3V463.4H654.3V453.37H655.3V453.66H656.3V453.51H657.3V463.4H658.3V463.4H659.3V463.4H660.3V463.4H661.3V463.4H662.3V463.4Z" fill="#ff0000"/><line x1="548.3" y1="463.4" x2="662.6" y2="463.4" stroke="#ff0000" stroke-width="0.8"/><path d="M548.3 483.7V483.7H549.3V483.7H550.3V483.7H551.3V483.7H552.3V482.7H553.3V483.7H554.3V483.7H555.3V483.7H556.3V483.7H557.3V483.7H558.3V483.7H559.3V483.7H560.3V483.7H561.3V483.7H562.3V483.7H563.3V483.7H564.3V483.7H565.3V483.7H566.3V483.7H567.3V483.7H568.3V483.7H569.3V483.7H570.3V483.7H571.3V483.7H572.3V483.7H573.3V483.7H574.3V483.7H575.3V483.7H576.3V483.7H577.3V483.7H578.3V483.7H579.3V483.7H580.3V483.7H581.3V483.7H582.3V483.7H583.3V483.7H584.3V483.7H585.3V483.7H586.3V483.7H587.3V483.7H588.3V483.7H589.3V483.7H590.3V483.7H591.3V483.7H592.3V483.7H593.3V483.7H594.3V483.7H595.3V483.7H596.3V483.7H597.3V483.7H598.3V483.7H599.3V483.7H600.3V483.7H601.3V483.7H602.3V483.7H603.3V483.7H604.3V483.7H605.3V483.7H606.3V483.7H607.3V483.7H608.3V483.7H609.3V483.7H610.3V483.7H611.3V483.7H612.3V483.7H613.3V483.7H614.3V483.7H615.3V483.7H616.3V483.7H617.3V483.7H618.3V483.7H619.3V483.7H620.3V483.7H621.3V483.7H622.3V483.7H623.3V483.7H624.3V483.7H625.3V483.7H626.3V483.7H627.3V483.7H628.3V483.7H629.3V483.7H630.3V483.7H631.3V483.7H632.3V483.7H633.3V483.7H634.3V481.2H635.3V483.7H636.3V483.7H637.3V483.7H638.3V483.7H639.3V480.22H640.3V480.45H641.3V483.7H642.3V483.7H643.3V481.3H644.3V481.34H645.3V481.21H646.3V482.63H647.3V481.85H648.3V482.27H649.3V482.83H650.3V482.55H651.3V481.59H652.3V481.45H653.3V483.7H654.3V483.7H655.3V483.7H656.3V481.78H657.3V483.7H658.3V483.7H659.3V483.7H660.3V483.7H661.3V483.7H662.3V483.7Z" fill="#0000ff"/><line x1="548.3" y1="483.7" x2="662.6" y2="483.7" stroke="#0000ff" stroke-width="0.8"/><path d="M548.3 504.3V499.94H549.3V498.6H550.3V497.26H551.3V494.04H552.3V495.78H553.3V494.13H554.3V493.27H555.3V490.38H556.3V490.28H557.3V491.37H558.3V495.64H559.3V499.83H560.3V501.17H561.3V500.64H562.3V501.62H563.3V500.98H564.3V501.04H565.3V501.2H566.3V501.47H567.3V501.98H568.3V502.78H569.3V503.01H570.3V502.93H571.3V503.03H572.3V503.12H573.3V502.86H574.3V503.29H575.3V503.15H576.3V503.03H577.3V503.48H578.3V503.27H579.3V503.17H580.3V502.97H581.3V503.43H582.3V503.22H583.3V502.9H584.3V502.94H585.3V503.51H586.3V503.04H587.3V503.11H588.3V502.87H589.3V503.46H590.3V502.98H591.3V503.22H592.3V503.34H593.3V503.2H594.3V503.08H595.3V503H596.3V503.32H597.3V502.99H598.3V503.26H599.3V503.52H600.3V503.49H601.3V503.3H602.3V504.3H603.3V503.43H604.3V504.3H605.3V504.3H606.3V503.63H607.3V504.3H608.3V504.3H609.3V504.3H610.3V504.3H611.3V504.3H612.3V504.3H613.3V504.3H614.3V504.3H615.3V504.3H616.3V504.3H617.3V504.3H618.3V503.82H619.3V504.3H620.3V503.58H621.3V504.3H622.3V504.3H623.3V503.73H624.3V504.3H625.3V503.41H626.3V504.3H627.3V504.3H628.3V504.3H629.3V504.3H630.3V504.3H631.3V504.3H632.3V504.3H633.3V504.3H634.3V504.3H635.3V503.46H636.3V504.3H637.3V503.46H638.3V504.3H639.3V504.3H640.3V504.3H641.3V504.3H642.3V504.3H643.3V504.3H644.3V504.3H645.3V504.3H646.3V503.62H647.3V504.3H648.3V504.3H649.3V504.3H650.3V504.3H651.3V504.3H652.3V503.54H653.3V504.3H654.3V504.3H655.3V504.3H656.3V504.3H657.3V504.3H658.3V504.3H659.3V504.3H660.3V504.3H661.3V504.3H662.3V504.3Z" fill="#ff0000"/><line x1="548.3" y1="504.3" x2="662.6" y2="504.3" stroke="#ff0000" stroke-width="0.8"/><path d="M548.3 524.6V524.18H549.3V523.33H550.3V522.73H551.3V522.22H552.3V522.79H553.3V523.1H554.3V523.88H555.3V524.35H556.3V524.53H557.3V524.6H558.3V524.6H559.3V524.6H560.3V524.6H561.3V524.6H562.3V524.6H563.3V524.6H564.3V524.6H565.3V524.6H566.3V524.6H567.3V524.6H568.3V524.6H569.3V524.6H570.3V524.6H571.3V524.6H572.3V524.6H573.3V524.6H574.3V524.6H575.3V524.6H576.3V524.6H577.3V524.6H578.3V524.6H579.3V524.6H580.3V524.6H581.3V524.6H582.3V524.6H583.3V523.84H584.3V523.81H585.3V523.71H586.3V523.24H587.3V523.89H588.3V523.58H589.3V523.62H590.3V523.58H591.3V523.56H592.3V523.85H593.3V523.39H594.3V523.3H595.3V523.9H596.3V523.38H597.3V523.39H598.3V523.51H599.3V523.83H600.3V523.46H601.3V523.39H602.3V522.99H603.3V522.18H604.3V523.37H605.3V523.69H606.3V524.55H607.3V524.6H608.3V524.6H609.3V524.6H610.3V524.6H611.3V524.6H612.3V524.6H613.3V524.6H614.3V524.6H615.3V524.6H616.3V524.6H617.3V524.6H618.3V524.6H619.3V524.6H620.3V524.6H621.3V524.6H622.3V524.6H623.3V524.6H624.3V524.6H625.3V524.6H626.3V524.6H627.3V524.6H628.3V524.6H629.3V524.6H630.3V524.6H631.3V524.6H632.3V524.6H633.3V524.6H634.3V524.6H635.3V524.6H636.3V524.6H637.3V524.6H638.3V524.6H639.3V523.8H640.3V524.6H641.3V524.6H642.3V524.6H643.3V524.6H644.3V524.6H645.3V524.6H646.3V524.6H647.3V524.6H648.3V524.6H649.3V524.6H650.3V524.6H651.3V524.6H652.3V524.6H653.3V522.4H654.3V524.6H655.3V524.6H656.3V524.6H657.3V524.6H658.3V524.6H659.3V524.6H660.3V524.6H661.3V524.6H662.3V524.6Z" fill="#0000ff"/><line x1="548.3" y1="524.6" x2="662.6" y2="524.6" stroke="#0000ff" stroke-width="0.8"/><path d="M548.3 544.5V543.17H549.3V543.59H550.3V543.58H551.3V544.1H552.3V543.13H553.3V543.9H554.3V544.05H555.3V544.03H556.3V543.77H557.3V544.25H558.3V543.65H559.3V543.41H560.3V544.19H561.3V543.58H562.3V543.55H563.3V544.14H564.3V544.24H565.3V544.13H566.3V544.2H567.3V543.4H568.3V543.88H569.3V544.14H570.3V543.67H571.3V543.99H572.3V544.24H573.3V543.3H574.3V543.45H575.3V544.14H576.3V544.24H577.3V544.01H578.3V543.97H579.3V544.23H580.3V543.87H581.3V544.21H582.3V543.1H583.3V543.62H584.3V544.04H585.3V543.87H586.3V544.25H587.3V544.2H588.3V543.91H589.3V544.05H590.3V543.04H591.3V543.15H592.3V542.75H593.3V541.95H594.3V533.67H595.3V530.03H596.3V539.29H597.3V540.08H598.3V540.88H599.3V541.65H600.3V541.98H601.3V542.5H602.3V542.79H603.3V541.85H604.3V539.32H605.3V538.87H606.3V540.61H607.3V542.75H608.3V543.05H609.3V542.92H610.3V543.06H611.3V542.6H612.3V543.45H613.3V543.54H614.3V543.36H615.3V543.61H616.3V544.23H617.3V543.6H618.3V543.54H619.3V543.62H620.3V543.62H621.3V544.24H622.3V543.5H623.3V543.73H624.3V544.16H625.3V543.65H626.3V543.73H627.3V544.19H628.3V544.24H629.3V544.01H630.3V543.07H631.3V544.24H632.3V543.56H633.3V543.2H634.3V543.93H635.3V544.25H636.3V544.05H637.3V544.25H638.3V544.18H639.3V543.98H640.3V544.12H641.3V544.25H642.3V544.06H643.3V544.18H644.3V544.13H645.3V543.21H646.3V544.24H647.3V543.84H648.3V544.23H649.3V544.11H650.3V544.24H651.3V544.01H652.3V544.14H653.3V543.57H654.3V544.19H655.3V544.07H656.3V543.55H657.3V544.16H658.3V544.04H659.3V544.23H660.3V543.74H661.3V544.24H662.3V544.5Z" fill="#ff00ff"/><line x1="548.3" y1="544.5" x2="662.6" y2="544.5" stroke="#ff00ff" stroke-width="1"/><text x="657.75" y="455" font-size="10">2400</text><text x="657.75" y="475.5" font-size="10">2400</text><text x="657.75" y="495.4" font-size="10">1000</text><text x="657.75" y="516.6" font-size="10">1000</text><text x="663.3" y="537.3" font-size="10">233</text><rect x="592.9" y="552.1" width="3.2" height="7.9" fill="#c8641e"/><line x1="552.3" y1="567.8" x2="657.9" y2="567.8" stroke="#7b7be0" stroke-width="0.8"/><path d="M560.4 566.2L562 567.8L560.4 569.4" fill="none" stroke="#5555dd" stroke-width="0.7"/><path d="M570.4 566.2L572 567.8L570.4 569.4" fill="none" stroke="#5555dd" stroke-width="0.7"/><path d="M580.4 566.2L582 567.8L580.4 569.4" fill="none" stroke="#5555dd" stroke-width="0.7"/><path d="M590.4 566.2L592 567.8L590.4 569.4" fill="none" stroke="#5555dd" stroke-width="0.7"/><path d="M600.4 566.2L602 567.8L600.4 569.4" fill="none" stroke="#5555dd" stroke-width="0.7"/><path d="M610.4 566.2L612 567.8L610.4 569.4" fill="none" stroke="#5555dd" stroke-width="0.7"/><path d="M620.4 566.2L622 567.8L620.4 569.4" fill="none" stroke="#5555dd" stroke-width="0.7"/><rect x="552.2" y="565.3" width="0.8" height="5" fill="#1f1fbf"/><rect x="634.2" y="564.8" width="0.8" height="6" fill="#1f1fbf"/><rect x="637" y="564.8" width="1.2" height="6" fill="#1f1fbf"/><rect x="640.5" y="564.55" width="1.5" height="6.5" fill="#1f1fbf"/><rect x="644.5" y="564.55" width="1" height="6.5" fill="#1f1fbf"/><rect x="648" y="564.55" width="1" height="6.5" fill="#1f1fbf"/><rect x="651" y="564.55" width="1" height="6.5" fill="#1f1fbf"/><rect x="654" y="564.8" width="4.2" height="6" fill="#1f1fbf"/><text x="590.8" y="582.2" font-size="10.5" font-style="italic">Mef2b</text><text x="14.7" y="651.1" font-size="15" font-weight="bold">H</text><line x1="65.4" y1="659.2" x2="142.3" y2="659.2" stroke="#444" stroke-width="1"/><line x1="65.4" y1="655" x2="65.4" y2="663" stroke="#444" stroke-width="1"/><line x1="142.3" y1="655" x2="142.3" y2="663" stroke="#444" stroke-width="1"/><text x="91.6" y="654.1" font-size="10.9">50Kb</text><text transform="translate(336.4,658) scale(1.039,1)" font-size="10.6">Chr16: 23,943,165 - 24,217,455</text><text x="22.3" y="697.4" font-size="10.9" font-weight="bold">mRNA</text><line x1="60.9" y1="676.6" x2="60.9" y2="703.6" stroke="#000" stroke-width="1.6"/><text x="5.9" y="736.7" font-size="10.9" font-weight="bold">H3K4me3</text><line x1="60.9" y1="716.2" x2="60.9" y2="743.4" stroke="#000" stroke-width="1.6"/><text x="-0.15" y="777.6" font-size="10.9" font-weight="bold">H3K27me3</text><line x1="60.9" y1="756.1" x2="60.9" y2="783.1" stroke="#000" stroke-width="1.6"/><text x="1.1" y="813.4" font-size="10.9" font-weight="bold">4C-HTGTS</text><line x1="60.9" y1="796" x2="60.9" y2="823.2" stroke="#000" stroke-width="1.6"/><text x="27.75" y="846" font-size="10.9" font-weight="bold">CFP1</text><line x1="60.9" y1="832.8" x2="60.9" y2="846" stroke="#000" stroke-width="1.6"/><text x="9.55" y="864.9" font-size="10.9" font-weight="bold">H3K27ac</text><line x1="60.9" y1="854.6" x2="60.9" y2="868.1" stroke="#000" stroke-width="1.6"/><text x="32.71" y="883.2" font-size="10.85" font-weight="bold" fill="#c00000">CpG</text><path d="M68 687.2V687.2H69V687.2H70V687.2H71V687.2H72V687.2H73V687.2H74V687.2H75V687.2H76V687.2H77V687.2H78V687.2H79V687.2H80V687.2H81V687.2H82V687.2H83V687.2H84V687.2H85V687.2H86V687.2H87V687.2H88V683.79H89V681.52H90V680.42H91V680.42H92V683.17H93V682.92H94V670.8H95V670.8H96V670.8H97V670.8H98V670.8H99V670.8H100V675.2H101V675.2H102V670.8H103V670.8H104V670.8H105V670.8H106V670.8H107V676.2H108V670.8H109V670.8H110V670.8H111V674.7H112V674.7H113V670.8H114V670.8H115V670.8H116V670.8H117V677.2H118V677.2H119V670.8H120V670.8H121V670.8H122V670.8H123V675.2H124V675.2H125V670.8H126V670.8H127V670.8H128V676.2H129V670.8H130V670.8H131V686.05H132V686.16H133V686.16H134V685.8H135V687.2H136V687.2H137V685.45H138V686.4H139V685.51H140V687.2H141V687.2H142V687.2H143V687.2H144V687.2H145V687.2H146V687.2H147V687.2H148V687.2H149V687.2H150V687.2H151V687.2H152V687.2H153V687.2H154V687.2H155V687.2H156V687.2H157V687.2H158V687.2H159V687.2H160V687.2H161V687.2H162V687.2H163V687.2H164V687.2H165V687.2H166V687.2H167V687.2H168V687.2H169V687.2H170V687.2H171V687.2H172V687.2H173V687.2H174V687.2H175V687.2H176V687.2H177V687.2H178V687.2H179V687.2H180V687.2H181V687.2H182V687.2H183V687.2H184V687.2H185V687.2H186V687.2H187V687.2H188V687.2H189V687.2H190V687.2H191V687.2H192V687.2H193V687.2H194V687.2H195V687.2H196V687.2H197V687.2H198V687.2H199V687.2H200V687.2H201V687.2H202V687.2H203V687.2H204V687.2H205V687.2H206V687.2H207V687.2H208V687.2H209V687.2H210V687.2H211V687.2H212V687.2H213V687.2H214V687.2H215V687.2H216V687.2H217V687.2H218V687.2H219V687.2H220V687.2H221V687.2H222V687.2H223V687.2H224V687.2H225V687.2H226V687.2H227V687.2H228V687.2H229V687.2H230V687.2H231V687.2H232V687.2H233V687.2H234V687.2H235V687.2H236V687.2H237V687.2H238V687.2H239V687.2H240V687.2H241V687.2H242V687.2H243V687.2H244V687.2H245V687.2H246V687.2H247V687.2H248V687.2H249V687.2H250V687.2H251V687.2H252V687.2H253V687.2H254V687.2H255V687.2H256V687.2H257V687.2H258V687.2H259V687.2H260V687.2H261V687.2H262V687.2H263V687.2H264V687.2H265V687.2H266V687.2H267V687.2H268V687.2H269V687.2H270V687.2H271V687.2H272V687.2H273V687.2H274V687.2H275V687.2H276V687.2H277V687.2H278V687.2H279V687.2H280V687.2H281V687.2H282V687.2H283V687.2H284V687.2H285V687.2H286V687.2H287V687.2H288V687.2H289V687.2H290V687.2H291V687.2H292V687.2H293V687.2H294V687.2H295V687.2H296V687.2H297V687.2H298V687.2H299V687.2H300V687.2H301V687.2H302V687.2H303V687.2H304V687.2H305V687.2H306V687.2H307V687.2H308V687.2H309V687.2H310V687.2H311V687.2H312V687.2H313V687.2H314V687.2H315V687.2H316V687.2H317V687.2H318V687.2H319V687.2H320V687.2H321V687.2H322V687.2H323V687.2H324V687.2H325V687.2H326V687.2H327V687.2H328V687.2H329V687.2H330V687.2H331V687.2H332V687.2H333V687.2H334V687.2H335V685.95H336V687.2H337V685.7H338V686.28H339V687.2H340V687.2H341V687.2H342V687.2H343V687.2H344V687.2H345V687.2H346V687.2H347V687.2H348V687.2H349V687.2H350V687.2H351V687.2H352V687.2H353V687.2H354V687.2H355V687.2H356V687.2H357V687.2H358V687.2H359V687.2H360V687.2H361V687.2H362V687.2H363V687.2H364V687.2H365V687.2H366V687.2H367V687.2H368V687.2H369V687.2H370V687.2H371V687.2H372V687.2H373V683.2H374V683.2H375V684.2H376V684.2H377V687.2H378V687.2H379V687.2H380V687.2H381V687.2H382V687.2H383V687.2H384V687.2H385V687.2H386V687.2H387V685.02H388V687.2H389V685.86H390V687.2H391V687.2H392V687.2H393V687.2H394V685.78H395V687.2H396V687.2H397V687.2H398V687.2H399V687.2H400V685.75H401V684.88H402V687.2H403V687.2H404V685.4H405V685.8H406V685.58H407V685.96H408V685.63H409V687.2H410V687.2H411V687.2H412V687.2H413V687.2H414V686.35H415V685.55H416V687.2H417V681.2H418V686.22H419V687.2H420V687.2H421V685.85H422V687.2H423V687.2H424V687.2H425V687.2H426V687.2H427V687.2H428V687.2H429V686.21H430V687.2H431V687.2H432V687.2H433V671.4H434V687.2H435V687.2H436V687.2H437V684.8H438V687.2H439V682.18H440V682.58H441V682.83H442V684.22H443V671.7H444V671.7H445V679.52H446V673.52H447V681.06H448V678.68H449V681.4H450V678.39H451V673.66H452V679.35H453V678.57H454V679.33H455V681.42H456V680.38H457V681.17H458V682.56H459V682.52H460V679.3H461V673.71H462V680.53H463V671.7H464V682.79H465V672.2H466V672.2H467V682.61H468V675.66H469V681.7H470V687.2H471V686.59H472V686.17H473V686.26H474V685.46H475V687.2H476V685.89H477V685.22H478V686.27H479V687.2H480V687.2H481V687.2H482V685.75H483V687.2H484V687.2H485V687.2H486V687.2H487V687.2H488V687.2H489V687.2H490V685.43H491V687.2H492V686.24H493V685.34H494V685.71H495V687.2H496V687.2H497V687.2Z" fill="#ff0000"/><line x1="68" y1="687.2" x2="497.2" y2="687.2" stroke="#ff5050" stroke-width="0.8"/><path d="M68 707.3V707.3H69V707.3H70V707.3H71V707.3H72V707.3H73V707.3H74V707.3H75V707.3H76V707.3H77V707.3H78V707.3H79V707.3H80V707.3H81V707.3H82V707.3H83V707.3H84V707.3H85V707.3H86V707.3H87V707.3H88V705.54H89V704.69H90V705.59H91V704.77H92V705.02H93V705.51H94V691H95V703.09H96V704.53H97V691H98V691H99V703.73H100V691H101V703.86H102V703.09H103V703.18H104V691H105V691H106V691H107V691H108V704.5H109V703.32H110V691H111V703.84H112V702.82H113V691H114V704.58H115V694.3H116V703.42H117V704.09H118V703.65H119V704.28H120V701.3H121V703.01H122V703.2H123V703.42H124V703.04H125V703.98H126V704.58H127V704.54H128V704.49H129V704.31H130V702.92H131V707.3H132V707.3H133V707.3H134V707.3H135V707.3H136V707.3H137V707.3H138V707.3H139V707.3H140V707.3H141V707.3H142V707.3H143V707.3H144V707.3H145V707.3H146V707.3H147V707.3H148V707.3H149V707.3H150V707.3H151V707.3H152V707.3H153V707.3H154V707.3H155V707.3H156V707.3H157V707.3H158V707.3H159V707.3H160V707.3H161V707.3H162V707.3H163V707.3H164V707.3H165V707.3H166V707.3H167V707.3H168V707.3H169V707.3H170V707.3H171V707.3H172V707.3H173V707.3H174V707.3H175V707.3H176V707.3H177V707.3H178V707.3H179V707.3H180V707.3H181V707.3H182V707.3H183V707.3H184V707.3H185V707.3H186V707.3H187V707.3H188V707.3H189V707.3H190V707.3H191V707.3H192V707.3H193V707.3H194V707.3H195V707.3H196V707.3H197V707.3H198V707.3H199V707.3H200V707.3H201V707.3H202V707.3H203V707.3H204V707.3H205V707.3H206V707.3H207V707.3H208V707.3H209V707.3H210V707.3H211V707.3H212V707.3H213V707.3H214V707.3H215V707.3H216V707.3H217V707.3H218V707.3H219V707.3H220V707.3H221V707.3H222V707.3H223V707.3H224V707.3H225V707.3H226V707.3H227V707.3H228V707.3H229V707.3H230V707.3H231V707.3H232V707.3H233V707.3H234V707.3H235V707.3H236V707.3H237V707.3H238V707.3H239V707.3H240V707.3H241V707.3H242V707.3H243V707.3H244V707.3H245V707.3H246V707.3H247V707.3H248V707.3H249V707.3H250V707.3H251V707.3H252V707.3H253V707.3H254V707.3H255V707.3H256V707.3H257V707.3H258V707.3H259V707.3H260V707.3H261V707.3H262V707.3H263V707.3H264V707.3H265V707.3H266V707.3H267V707.3H268V707.3H269V707.3H270V707.3H271V707.3H272V707.3H273V707.3H274V707.3H275V707.3H276V707.3H277V707.3H278V707.3H279V707.3H280V707.3H281V707.3H282V707.3H283V707.3H284V707.3H285V707.3H286V707.3H287V707.3H288V707.3H289V707.3H290V707.3H291V707.3H292V707.3H293V707.3H294V707.3H295V707.3H296V707.3H297V707.3H298V707.3H299V707.3H300V707.3H301V707.3H302V707.3H303V707.3H304V707.3H305V707.3H306V707.3H307V707.3H308V707.3H309V707.3H310V707.3H311V707.3H312V707.3H313V707.3H314V707.3H315V707.3H316V707.3H317V707.3H318V707.3H319V707.3H320V707.3H321V707.3H322V707.3H323V707.3H324V707.3H325V707.3H326V707.3H327V707.3H328V707.3H329V707.3H330V707.3H331V707.3H332V707.3H333V707.3H334V707.3H335V707.3H336V707.3H337V705.8H338V705.8H339V707.3H340V707.3H341V707.3H342V707.3H343V707.3H344V707.3H345V707.3H346V707.3H347V707.3H348V707.3H349V707.3H350V707.3H351V707.3H352V707.3H353V707.3H354V707.3H355V707.3H356V707.3H357V707.3H358V707.3H359V707.3H360V707.3H361V707.3H362V707.3H363V707.3H364V707.3H365V707.3H366V707.3H367V707.3H368V707.3H369V707.3H370V707.3H371V707.3H372V702.3H373V702.3H374V707.3H375V701.3H376V701.3H377V707.3H378V707.3H379V707.3H380V707.3H381V707.3H382V707.3H383V704.3H384V704.3H385V707.3H386V707.3H387V707.3H388V707.3H389V707.3H390V707.3H391V707.3H392V707.3H393V707.3H394V707.3H395V707.3H396V707.3H397V707.3H398V707.3H399V707.3H400V707.3H401V707.3H402V707.3H403V707.3H404V707.3H405V707.3H406V707.3H407V707.3H408V707.3H409V707.3H410V707.3H411V705.3H412V705.3H413V707.3H414V707.3H415V707.3H416V707.3H417V701.3H418V707.3H419V707.3H420V707.3H421V707.3H422V707.3H423V707.3H424V707.3H425V707.3H426V707.3H427V707.3H428V707.3H429V707.3H430V707.3H431V707.3H432V707.3H433V700.3H434V707.3H435V707.3H436V707.3H437V707.3H438V707.3H439V707.3H440V707.3H441V707.3H442V707.24H443V691H444V691H445V703.49H446V701.58H447V700.65H448V703.16H449V704.55H450V705.53H451V704.81H452V704.86H453V704.37H454V705.73H455V707.3H456V707.3H457V707.3H458V707.3H459V707.3H460V707.3H461V707.3H462V707.3H463V691H464V707.3H465V691H466V691H467V702.3H468V702.3H469V707.3H470V707.3H471V707.3H472V707.3H473V707.3H474V707.3H475V703.8H476V707.3H477V707.3H478V707.3H479V707.3H480V707.3H481V707.3H482V707.3H483V707.3H484V707.3H485V707.3H486V707.3H487V707.3H488V707.3H489V707.3H490V707.3H491V707.3H492V707.3H493V707.3H494V707.3H495V707.3H496V707.3H497V707.3Z" fill="#0000ff"/><line x1="68" y1="707.3" x2="497.2" y2="707.3" stroke="#7070ff" stroke-width="0.8"/><path d="M68 727.5V726.26H69V727.5H70V726.59H71V726.6H72V726.6H73V723.64H74V726.42H75V727.5H76V727.5H77V726.31H78V722.65H79V727.5H80V727.5H81V726.41H82V725.86H83V725.63H84V723.24H85V726.14H86V722.7H87V725.22H88V727.5H89V723.01H90V725.82H91V726.05H92V726.6H93V727.5H94V724.69H95V726.46H96V722.69H97V727.5H98V724.3H99V727.5H100V726.06H101V726.14H102V726.26H103V723.45H104V723.93H105V726.23H106V726.62H107V726.49H108V726.26H109V727.5H110V726.36H111V725.67H112V724.08H113V726.62H114V725.96H115V722.67H116V722.48H117V723.83H118V724.18H119V724.46H120V714.71H121V714.68H122V715.39H123V715.28H124V711.4H125V711.4H126V711.4H127V711.4H128V711.4H129V711.4H130V711.4H131V711.4H132V711.4H133V711.4H134V722.52H135V723.17H136V723.8H137V726.32H138V715.5H139V726.31H140V726.62H141V726.35H142V726.14H143V727.5H144V726.28H145V726.4H146V722.66H147V726.45H148V725.46H149V727.5H150V724.37H151V726.26H152V726.59H153V727.5H154V725.88H155V724.31H156V725.93H157V725.44H158V723.73H159V726.51H160V725.61H161V724.31H162V727.5H163V725.2H164V726.57H165V724.45H166V727.5H167V726.14H168V725.38H169V725.53H170V727.5H171V724.74H172V726.46H173V724.97H174V725.97H175V725.58H176V727.5H177V727.5H178V727.5H179V726.52H180V726.27H181V726.58H182V727.5H183V726.33H184V727.5H185V726.62H186V724.97H187V724.47H188V726.6H189V726.5H190V725.34H191V725.86H192V727.5H193V727.5H194V727.5H195V724.96H196V724.27H197V727.5H198V726.62H199V725.17H200V726.45H201V725.93H202V727.5H203V724.14H204V723.84H205V724.89H206V725.97H207V724.65H208V724.89H209V726.6H210V726.62H211V725.87H212V727.5H213V724.92H214V727.5H215V727.5H216V726.04H217V723.68H218V725.22H219V725.93H220V722.6H221V722.9H222V724.56H223V726.33H224V722.84H225V726.35H226V725.06H227V725.01H228V726.07H229V724.6H230V727.5H231V726.08H232V727.5H233V727.5H234V725.66H235V725.82H236V725.26H237V726.06H238V723.12H239V726.48H240V726.57H241V724.29H242V724.07H243V727.5H244V726.04H245V727.5H246V723H247V722.99H248V724.13H249V726.43H250V723.03H251V727.5H252V727.5H253V726.62H254V725.36H255V724.65H256V727.5H257V726.21H258V723.18H259V726.36H260V727.5H261V726.01H262V722.84H263V727.5H264V725.43H265V724.62H266V724.64H267V726.13H268V727.5H269V723.7H270V725.88H271V726.62H272V727.5H273V724.2H274V725.25H275V723.67H276V726.09H277V726.16H278V727.5H279V727.5H280V726.45H281V726.47H282V722.5H283V727.5H284V724.04H285V726.17H286V726.52H287V726.35H288V726.4H289V722.72H290V726.18H291V725.23H292V723.15H293V723.06H294V725.13H295V727.5H296V727.5H297V726.29H298V726.62H299V726.23H300V726.14H301V725.72H302V727.5H303V723.1H304V727.5H305V726.52H306V726.53H307V724.76H308V727.5H309V727.5H310V726.06H311V725.69H312V724.6H313V727.5H314V723.67H315V727.5H316V727.5H317V727.5H318V726.57H319V727.5H320V726.5H321V727.5H322V727.5H323V725.73H324V726.62H325V726.6H326V727.5H327V725.84H328V726.23H329V724.66H330V724.97H331V727.5H332V727.5H333V727.5H334V726.17H335V725.57H336V726.62H337V725.83H338V724.22H339V723.58H340V725.11H341V724.7H342V722.91H343V725.03H344V726.41H345V726.58H346V725.68H347V724.34H348V723.08H349V727.43H350V727.21H351V725.68H352V725.22H353V723.06H354V722.51H355V718.24H356V720.56H357V722.21H358V723.9H359V726.27H360V724.17H361V724.78H362V722.59H363V724.88H364V723.8H365V724.88H366V723.95H367V726.49H368V725.4H369V727.5H370V724.49H371V723.28H372V726.28H373V726.15H374V724.28H375V727.5H376V724.57H377V721.06H378V724.84H379V720.51H380V716.23H381V715.93H382V720.74H383V724.98H384V722.01H385V715.11H386V716.85H387V720.67H388V723.31H389V721.56H390V725.18H391V726.5H392V722.66H393V723.43H394V721.36H395V727.5H396V726.62H397V721.85H398V723.74H399V725.16H400V725.38H401V723.11H402V722.83H403V723.38H404V725.78H405V723.52H406V727.39H407V724.89H408V725.93H409V725.88H410V726.46H411V726.41H412V727.5H413V727.5H414V722.56H415V727.5H416V724.76H417V726.06H418V727.5H419V726.58H420V726.23H421V725.72H422V725.26H423V723.17H424V726.55H425V727.5H426V727.5H427V727.5H428V726.6H429V727.5H430V726.49H431V727.5H432V723.11H433V727.5H434V722.45H435V723.68H436V724.4H437V723.22H438V725.8H439V726.47H440V726.62H441V726.08H442V727.5H443V722.92H444V727.5H445V726.32H446V725.17H447V726.16H448V724.46H449V727.5H450V724.39H451V723.45H452V726.57H453V727.5H454V722.65H455V722.9H456V724.91H457V722.75H458V722.2H459V720.14H460V722.66H461V723.29H462V722.79H463V722.6H464V720.7H465V718.04H466V718.5H467V720.63H468V716.96H469V720.83H470V725.59H471V727.31H472V724.09H473V723.62H474V727.5H475V726.46H476V725.56H477V725.03H478V726.4H479V725.81H480V725.46H481V724.13H482V726.31H483V727.5H484V727.5H485V725.9H486V723.36H487V726.62H488V726.3H489V724.32H490V723.84H491V724.58H492V727.5H493V727.5H494V724.78H495V722.87H496V725.94H497V727.5Z" fill="#ff0000"/><line x1="68" y1="727.5" x2="497.2" y2="727.5" stroke="#ff5050" stroke-width="0.8"/><path d="M68 747.9V745.79H69V744.23H70V743.78H71V747.9H72V747.9H73V747.9H74V744.84H75V747.9H76V744.59H77V745.36H78V745.57H79V747.16H80V747.17H81V747.9H82V747.04H83V747.9H84V747.9H85V747.02H86V747.9H87V746.73H88V746.71H89V747.06H90V746.42H91V747.16H92V745.6H93V747.9H94V744.91H95V744.62H96V747.9H97V745.74H98V747.9H99V743.95H100V747.9H101V747.9H102V746.94H103V747.9H104V746.69H105V744.8H106V747.12H107V744.23H108V747.08H109V746.08H110V747.9H111V747.9H112V745.6H113V746.25H114V745.23H115V745.6H116V742.6H117V742.18H118V735.9H119V740.64H120V741.96H121V731.4H122V731.4H123V731.4H124V731.4H125V731.4H126V731.4H127V731.4H128V731.4H129V731.4H130V731.4H131V731.4H132V731.4H133V731.4H134V744.6H135V744.32H136V744.2H137V737.9H138V731.4H139V745.41H140V744.27H141V746.91H142V747.9H143V747.9H144V744.78H145V747.03H146V746.94H147V747.9H148V747.9H149V747.17H150V747.17H151V747.9H152V745.76H153V745.68H154V747.9H155V743.88H156V743.73H157V747.9H158V747.9H159V744.89H160V747.9H161V745.13H162V746.96H163V747.9H164V747.9H165V747.9H166V746.57H167V746.27H168V747.9H169V746.43H170V747.17H171V745.28H172V747.17H173V747.02H174V746.66H175V746.5H176V747.9H177V747.9H178V747.9H179V744.35H180V747.9H181V747.9H182V746.22H183V745.67H184V747.9H185V747.9H186V745.45H187V746.52H188V747.16H189V746.52H190V744.98H191V746.32H192V746.81H193V746.72H194V747.9H195V747.9H196V743.82H197V745.26H198V747.9H199V747.9H200V747.13H201V747.06H202V747.9H203V747.9H204V745.12H205V747.17H206V745.28H207V745.56H208V747.9H209V747.9H210V747.9H211V744.13H212V747.9H213V747.9H214V745.83H215V747.01H216V747.9H217V747.07H218V744.85H219V747.17H220V746.62H221V746.8H222V746.31H223V747.07H224V746.14H225V747.16H226V746.81H227V747.01H228V745.71H229V745.73H230V747.9H231V746.35H232V747.9H233V747.9H234V747.9H235V746.58H236V747.9H237V747.9H238V745.69H239V747.13H240V746.98H241V747.9H242V747.1H243V745.08H244V747.9H245V743.91H246V743.71H247V747.9H248V747.9H249V747.9H250V747.9H251V747.9H252V746.5H253V745.14H254V746.96H255V747.9H256V747.9H257V747.9H258V747.9H259V744.93H260V745.84H261V745.94H262V746.5H263V744.85H264V745.3H265V747.9H266V747.9H267V747.9H268V747.9H269V747.9H270V744.89H271V747.14H272V747.9H273V746.1H274V747.9H275V747.16H276V747.12H277V744.5H278V747.9H279V747.9H280V745.29H281V747.9H282V746.6H283V746.8H284V747.9H285V747.17H286V747.9H287V747.9H288V747.9H289V746.67H290V747.9H291V745.26H292V746.08H293V746.6H294V747.9H295V743.73H296V746.77H297V746.87H298V746.71H299V747.9H300V747.9H301V747.9H302V747.9H303V747.9H304V747.9H305V746.75H306V743.93H307V744.65H308V746.39H309V746.79H310V747.9H311V746.67H312V744.53H313V744.12H314V747.9H315V743.94H316V744.59H317V747.9H318V747.09H319V747.9H320V746.3H321V746.5H322V747.9H323V747.9H324V747.13H325V747.9H326V745.64H327V745.47H328V745.43H329V746.69H330V744.47H331V746.79H332V747.9H333V747.9H334V745.12H335V746.42H336V746.91H337V744.85H338V747.17H339V747.9H340V747.9H341V747.9H342V747.11H343V745.09H344V747.9H345V747.9H346V747.9H347V747.9H348V744.32H349V745.85H350V747.9H351V745.29H352V746.86H353V744.02H354V747.9H355V746.28H356V746.66H357V747.17H358V747.9H359V744.28H360V744.97H361V746.2H362V747H363V747.13H364V747.13H365V744.69H366V747.9H367V745.98H368V746.2H369V747.17H370V744.38H371V747.9H372V747.9H373V747.9H374V747.9H375V745.65H376V747.9H377V743.39H378V746.6H379V742.98H380V740.64H381V737.4H382V741.58H383V746.2H384V747.77H385V745.51H386V747.9H387V745.69H388V743.89H389V746.48H390V745.89H391V743.65H392V742.72H393V742.74H394V746.92H395V743.45H396V745.6H397V747.9H398V743.09H399V744.67H400V746.17H401V742.48H402V739.72H403V743.86H404V746.98H405V743.79H406V747.13H407V742.47H408V744.66H409V747.55H410V745.03H411V739.33H412V740.32H413V745.06H414V747.49H415V747.15H416V743.68H417V747.9H418V747.9H419V747.07H420V746.61H421V746.05H422V747.9H423V745.23H424V747.9H425V746.34H426V747.9H427V747.9H428V744.28H429V747.15H430V745.3H431V744.54H432V747.17H433V747.9H434V743.93H435V744.46H436V744.96H437V746.95H438V745.37H439V747.9H440V744.45H441V745.84H442V747.9H443V745.29H444V745.88H445V746.22H446V747.9H447V747.9H448V744.1H449V746.42H450V746.02H451V747.9H452V744.73H453V747.59H454V744.7H455V743.71H456V743.92H457V743.62H458V745.41H459V746.77H460V744.04H461V747.85H462V746.45H463V747.9H464V743.81H465V747.9H466V746.41H467V744.1H468V747.9H469V744.01H470V744.29H471V743.78H472V747.9H473V745.2H474V744.7H475V747.16H476V746.55H477V745.71H478V747.9H479V747.1H480V747.9H481V746.73H482V745.28H483V747.9H484V747.9H485V745.34H486V747.9H487V747.9H488V744.09H489V746.7H490V747.9H491V747.16H492V747.9H493V747.9H494V745.1H495V744.41H496V745.69H497V747.9Z" fill="#0000ff"/><line x1="68" y1="747.9" x2="497.2" y2="747.9" stroke="#7070ff" stroke-width="0.8"/><path d="M68 767.8V766.36H69V765.99H70V766.43H71V765.63H72V766.08H73V765.96H74V766.3H75V765.47H76V767.41H77V767.04H78V767.49H79V767.8H80V766.98H81V767.63H82V766.49H83V767.18H84V766.95H85V767.8H86V767.43H87V767.8H88V766.65H89V767.5H90V767.25H91V767.8H92V767.8H93V767.8H94V767.8H95V767.8H96V767.14H97V767.59H98V767.8H99V767.63H100V767.8H101V767.8H102V767.8H103V767.63H104V766.63H105V767.8H106V767.8H107V767.19H108V767.8H109V767.8H110V767.8H111V767.6H112V767.8H113V767.6H114V766.97H115V767.27H116V767.07H117V767.06H118V767.8H119V767.4H120V767.08H121V767.27H122V767.09H123V767.26H124V767.8H125V767.8H126V767.35H127V767.55H128V767.8H129V767.34H130V767.61H131V767.8H132V766.48H133V767.62H134V766.55H135V767.8H136V767.8H137V766.39H138V767.8H139V767.8H140V766.97H141V767.18H142V767.8H143V767.8H144V767.8H145V767.23H146V767.8H147V766.34H148V766.95H149V767.8H150V766.76H151V766.41H152V767.43H153V767.06H154V767.26H155V767.29H156V767.8H157V767.14H158V767.1H159V767.6H160V767.6H161V767.57H162V766.98H163V767.5H164V767.57H165V767.55H166V767.8H167V767.8H168V767.8H169V767.47H170V767.02H171V767.39H172V767.64H173V767.55H174V767.8H175V767.8H176V767.48H177V767.8H178V767.49H179V767.65H180V767.8H181V766.87H182V767.48H183V767.8H184V767.8H185V767.58H186V767.45H187V767.8H188V767.09H189V766.93H190V767.59H191V767.8H192V767.11H193V767.8H194V766.68H195V766.92H196V767.65H197V767.15H198V767.8H199V767.8H200V767.65H201V767.8H202V766.5H203V767.29H204V767.45H205V767.63H206V767.47H207V766.48H208V767.8H209V767.65H210V767.62H211V767.5H212V767.57H213V767.64H214V767.65H215V766.84H216V767.8H217V767.8H218V767.54H219V766.51H220V767.8H221V767.8H222V767.8H223V767.8H224V767.64H225V767.42H226V767.8H227V767.63H228V767.8H229V766.32H230V767.63H231V767.08H232V767.65H233V766.44H234V767.8H235V767.8H236V767.8H237V766.39H238V767.8H239V767.8H240V767.53H241V767.8H242V767.8H243V767.8H244V767.8H245V767.8H246V767.64H247V767.03H248V767.65H249V767.01H250V767.8H251V766.05H252V767.8H253V767.8H254V767.33H255V767.35H256V767.65H257V767.8H258V766.18H259V767.8H260V767.6H261V766.77H262V767.8H263V767.8H264V767.8H265V766.59H266V767.8H267V767.65H268V767.8H269V766.74H270V767.8H271V767.8H272V767.8H273V767.8H274V767.6H275V767.8H276V767.8H277V767.41H278V767H279V767.47H280V767.8H281V767.8H282V767.54H283V767.8H284V767.42H285V766.36H286V767.8H287V767.01H288V766.45H289V767.48H290V767.24H291V767.18H292V767.8H293V767.29H294V767.47H295V767.8H296V767.8H297V767.57H298V767.8H299V767.8H300V767.27H301V767.8H302V767.63H303V767.62H304V767.22H305V767.8H306V767.8H307V767.8H308V766.16H309V767.65H310V767.8H311V767.8H312V767.11H313V767.33H314V767.8H315V767.8H316V767.41H317V767.8H318V767.8H319V767.64H320V767.8H321V767.8H322V767.8H323V767.15H324V767.64H325V767.36H326V767.65H327V766.22H328V767.8H329V767.8H330V767.8H331V767.8H332V767.17H333V767.2H334V766.36H335V767.8H336V767.8H337V766.37H338V767.42H339V767.8H340V767.8H341V767.65H342V767.12H343V767.52H344V767.8H345V767.38H346V767.58H347V767.8H348V767.65H349V767.8H350V767.21H351V767.31H352V767.49H353V767.63H354V767.56H355V767.8H356V766.53H357V767.65H358V767.8H359V766.94H360V767.65H361V766.13H362V767.8H363V767.8H364V767.06H365V767.55H366V767.45H367V767.8H368V767.8H369V767.03H370V767.38H371V767.8H372V766.63H373V767.37H374V767.6H375V767.65H376V767.8H377V767.64H378V767.8H379V767.65H380V767.42H381V766.09H382V767.14H383V767.8H384V767.8H385V767.8H386V767.23H387V767.8H388V766.68H389V767.59H390V767.8H391V767.8H392V767.19H393V767.45H394V767.07H395V767.65H396V767.8H397V767.23H398V767.8H399V767.8H400V767.63H401V765.31H402V767.51H403V766.81H404V767.64H405V765.6H406V765.91H407V766.76H408V767.17H409V767.63H410V765.44H411V767.57H412V765.91H413V765.14H414V767.63H415V767.8H416V767.8H417V766.79H418V767.6H419V767.8H420V765.62H421V765.55H422V767.8H423V766.45H424V767.11H425V765.94H426V767.8H427V767.8H428V767.8H429V767.27H430V767.56H431V765.29H432V767.8H433V766.25H434V767.8H435V765.6H436V767.8H437V767.8H438V767.8H439V766.3H440V767.16H441V766.31H442V767.8H443V767.8H444V765.66H445V767.8H446V765.72H447V765.12H448V767.53H449V766.62H450V767.8H451V766.41H452V766.81H453V766.51H454V767.64H455V762.54H456V767.35H457V763.92H458V765.1H459V763.31H460V764.9H461V765.45H462V765.09H463V765.71H464V765.05H465V765.76H466V760.92H467V765.04H468V765.75H469V764.58H470V762.91H471V766.12H472V765.93H473V764.93H474V765.5H475V761.46H476V761.34H477V764.7H478V766.15H479V764.96H480V764.09H481V764.82H482V763.98H483V760.35H484V759.45H485V759.7H486V762.54H487V763.87H488V766.15H489V764.85H490V762.33H491V762.68H492V767.8H493V767.39H494V767.8H495V767.8H496V767.52H497V767.8Z" fill="#ff0000"/><line x1="68" y1="767.8" x2="497.2" y2="767.8" stroke="#ff6060" stroke-width="0.8"/><path d="M68 787.8V785.05H69V786.66H70V787.8H71V783.98H72V784.16H73V787.24H74V787.8H75V786.62H76V787.8H77V787.43H78V783.55H79V787.8H80V787.8H81V786.08H82V787.34H83V787.54H84V787.28H85V786.53H86V786.54H87V783.62H88V784.82H89V787.45H90V786.75H91V785.97H92V787.8H93V786.91H94V787.54H95V787.8H96V784.11H97V783.39H98V785.62H99V786.2H100V785.92H101V786.23H102V787.53H103V787.8H104V787.52H105V787.22H106V787.49H107V787.41H108V784.16H109V787.39H110V785.8H111V787.8H112V787.39H113V787.8H114V786.06H115V787.45H116V787.18H117V786.58H118V785.49H119V787.8H120V787.8H121V787.8H122V787.8H123V787.8H124V787.8H125V787.8H126V786.89H127V787.8H128V787.8H129V783.47H130V783.89H131V787.61H132V786.64H133V783.47H134V784.52H135V785.45H136V785.57H137V787.1H138V787.65H139V786.38H140V787.8H141V787.24H142V783.31H143V787.8H144V786.36H145V786.78H146V785.35H147V787.06H148V785.56H149V787.06H150V785.79H151V786.97H152V784.4H153V786.29H154V786.15H155V787.35H156V783.4H157V785.88H158V785.48H159V783.4H160V787.54H161V783.96H162V787.53H163V786.49H164V787.8H165V787.8H166V787.8H167V787.34H168V787.36H169V787.52H170V784.68H171V786.99H172V785.21H173V782.56H174V783.45H175V785.79H176V787.37H177V784.36H178V787.44H179V787.51H180V787.03H181V786.31H182V787.48H183V786.41H184V787.8H185V787.8H186V787.22H187V786.19H188V787.8H189V785.23H190V785.84H191V785.7H192V787.22H193V783.55H194V787.8H195V787.8H196V787.8H197V785.23H198V784.38H199V785H200V787.8H201V787.32H202V784.78H203V785.47H204V784.44H205V786.84H206V785.16H207V783.85H208V787.52H209V787.8H210V787.4H211V785.55H212V786.98H213V787.4H214V783.76H215V787H216V787.8H217V786.5H218V787.8H219V787.8H220V787.8H221V786.16H222V787.34H223V785.76H224V783.97H225V787.23H226V787.52H227V784.88H228V786.45H229V787.2H230V787.8H231V787.8H232V787.8H233V787.54H234V787.52H235V787.36H236V787.42H237V786.32H238V787.8H239V787.8H240V787.8H241V784.75H242V786.8H243V787.45H244V786.01H245V785.68H246V787.8H247V787.8H248V784.05H249V787.8H250V784.16H251V787.8H252V784.43H253V783.53H254V787.8H255V783.24H256V786.95H257V785.33H258V783.9H259V784.12H260V783.3H261V787.53H262V784.55H263V787.8H264V784.41H265V787.01H266V787.8H267V783.09H268V784.31H269V786.77H270V783.36H271V785.81H272V785.51H273V787.55H274V787.35H275V785.05H276V783.58H277V787.55H278V785.39H279V784.11H280V786.09H281V784.48H282V787.54H283V787.17H284V785.64H285V787.54H286V784.53H287V785.82H288V783.37H289V786.13H290V785.74H291V787.8H292V786.51H293V784.23H294V783.68H295V787.8H296V783.45H297V785.59H298V783.78H299V787.55H300V787.8H301V786.53H302V787.8H303V787.8H304V787.8H305V786.65H306V787.54H307V787.25H308V786.21H309V787.8H310V786.42H311V785.8H312V787.8H313V786.57H314V787.55H315V787.48H316V786.43H317V785.92H318V787.8H319V787.8H320V786.79H321V787H322V787.55H323V786.82H324V787.15H325V786.98H326V787.8H327V786.49H328V787.8H329V786.39H330V787.8H331V787.26H332V787.37H333V786.49H334V785.59H335V787.54H336V786.33H337V786.36H338V787.23H339V786.57H340V787.35H341V787.8H342V786.89H343V786.59H344V787.8H345V787.8H346V786.05H347V787.8H348V787.5H349V786H350V787.21H351V787.2H352V787.16H353V785.87H354V787.8H355V787.8H356V786.77H357V786.84H358V785.47H359V787.8H360V786.75H361V787.33H362V786.61H363V786.91H364V787.8H365V786.38H366V785.4H367V785.64H368V787.8H369V787.8H370V787.8H371V787.8H372V787.55H373V786.03H374V787.44H375V786.33H376V787.41H377V785.31H378V786.84H379V786.58H380V787.8H381V787.31H382V786.39H383V786.89H384V787.28H385V787.1H386V786.6H387V785.55H388V787.18H389V787.8H390V786.84H391V787.03H392V787.35H393V786.75H394V787.35H395V786.88H396V787.8H397V785.8H398V787.8H399V786.19H400V787.8H401V786.55H402V786.02H403V785.91H404V787.8H405V785.31H406V786.02H407V786.94H408V787.1H409V785.55H410V787.52H411V787.38H412V787.71H413V786.69H414V785.22H415V785.31H416V783.7H417V782.83H418V784.2H419V784.74H420V785.48H421V786.88H422V782.82H423V785.61H424V783.79H425V783.39H426V785.4H427V787H428V787.52H429V787.49H430V786.76H431V784.78H432V787.8H433V787.15H434V787.8H435V785.82H436V787.8H437V784.8H438V785.19H439V785.53H440V784.86H441V784.4H442V784.24H443V783.78H444V783.15H445V783.91H446V782.85H447V784.25H448V784.61H449V784.54H450V783.62H451V782.93H452V783.18H453V783.24H454V782.55H455V780.6H456V781.47H457V783.56H458V783.75H459V781.76H460V781.69H461V783.9H462V781.51H463V781.62H464V773.31H465V778.68H466V780.53H467V782.75H468V782.3H469V778.92H470V778.82H471V778.55H472V777.77H473V781.55H474V777.46H475V778.75H476V777.3H477V775.58H478V779.84H479V779.96H480V776.16H481V781.5H482V780.78H483V781.57H484V782.31H485V782.71H486V780.3H487V781.08H488V780.36H489V781.2H490V783.86H491V782.05H492V784.09H493V784.74H494V784.63H495V785.05H496V784.59H497V787.8Z" fill="#0000ff"/><line x1="68" y1="787.8" x2="497.2" y2="787.8" stroke="#6060ff" stroke-width="0.8"/><path d="M68 808V804.95H69V803.77H70V803.95H71V807.2H72V803.94H73V807.2H74V805.13H75V807.2H76V804.69H77V804.15H78V801.71H79V807.2H80V805.78H81V801.63H82V803.26H83V803.73H84V801.19H85V803.47H86V807.12H87V806.82H88V805.88H89V804.7H90V805.58H91V805.46H92V806.87H93V806.09H94V807.2H95V804.82H96V807.19H97V807.11H98V801.23H99V805.39H100V807.18H101V805.55H102V807.05H103V801.51H104V806.88H105V803.82H106V805.35H107V803.11H108V807.2H109V807.2H110V801.55H111V807.18H112V806.59H113V802.54H114V801.33H115V805.71H116V806.39H117V805.72H118V806.75H119V807.12H120V804.23H121V796.53H122V797.81H123V796.28H124V793.72H125V797.03H126V802.19H127V802.62H128V802.44H129V800.15H130V802.36H131V797.59H132V795.48H133V802.47H134V798.45H135V798.08H136V801.97H137V793.87H138V797.4H139V793.24H140V793.96H141V804.72H142V802.62H143V807.19H144V805.65H145V806.5H146V807.16H147V805.59H148V805.02H149V806.4H150V804.85H151V807.12H152V802.9H153V801.72H154V803.88H155V807.02H156V807.14H157V804.27H158V806.08H159V801.85H160V806.33H161V806.42H162V806.83H163V807.2H164V807.18H165V806.82H166V807.16H167V806.61H168V805.71H169V804.24H170V806.52H171V805.7H172V805.67H173V801.2H174V804.66H175V806.91H176V806.98H177V806.08H178V806.6H179V804.79H180V806.48H181V804.15H182V806.79H183V807.16H184V805.64H185V805.38H186V804.51H187V807.19H188V805.07H189V802.46H190V806.75H191V801.09H192V801.55H193V806.75H194V803.45H195V805.75H196V807.14H197V802.25H198V805.94H199V807.03H200V806.82H201V807.15H202V804.65H203V806.29H204V803.81H205V802.61H206V803.57H207V805.08H208V804.87H209V804.56H210V803.43H211V806.31H212V807.2H213V806.25H214V805.04H215V803.8H216V806.39H217V807.16H218V804.08H219V805.75H220V807.02H221V803.8H222V804.31H223V803.35H224V804.85H225V806.19H226V803.47H227V804.22H228V805.27H229V807.2H230V806.91H231V806.93H232V802.8H233V805.95H234V802.37H235V803.35H236V804.29H237V805.36H238V806.99H239V806.21H240V806.73H241V805.18H242V807.19H243V807.13H244V806.31H245V806.68H246V805.38H247V806.44H248V805.32H249V807H250V806.5H251V807.15H252V804.38H253V803.56H254V807.12H255V804.18H256V807.2H257V806.49H258V806.84H259V807.15H260V805.26H261V807.07H262V803.64H263V804.71H264V804.55H265V805.26H266V804.15H267V806.73H268V805.1H269V805.86H270V806.97H271V805.74H272V801.28H273V805.65H274V807H275V805.18H276V803.39H277V804.8H278V804.44H279V805.82H280V804.02H281V807.03H282V806.78H283V806.02H284V805.24H285V806.64H286V807.17H287V801.51H288V801.35H289V805.86H290V806.84H291V807.2H292V803.39H293V806.98H294V807.12H295V801.61H296V802.81H297V805.95H298V806.6H299V801.14H300V806.07H301V804.94H302V804.88H303V806.61H304V807.15H305V801.33H306V803.05H307V804.94H308V806.45H309V807.2H310V806.8H311V802.65H312V807.1H313V804H314V806.58H315V805.31H316V804.64H317V807.13H318V805.16H319V803.59H320V805.57H321V805.73H322V806.26H323V804.07H324V805.82H325V806.86H326V805.56H327V805.86H328V807.11H329V807.05H330V805.4H331V803.36H332V805.08H333V803.96H334V806.18H335V802.21H336V805.53H337V806.55H338V806.95H339V805.98H340V804.56H341V804.73H342V807.16H343V798.25H344V803.85H345V801.2H346V805.58H347V800.53H348V805.03H349V797.77H350V806.96H351V804.21H352V797.53H353V806.42H354V807.12H355V801.6H356V797.7H357V797.28H358V804.14H359V804.06H360V806.78H361V806.29H362V805.96H363V802.87H364V806.63H365V803.92H366V804.99H367V798.2H368V797.7H369V805.83H370V798.09H371V798.8H372V797.91H373V800.47H374V803.55H375V807.03H376V804.15H377V801.92H378V802.82H379V806.61H380V806.25H381V807.17H382V807.17H383V807.11H384V798.12H385V807.2H386V805.81H387V800.6H388V801.85H389V805.62H390V805.41H391V804.71H392V797.88H393V800.1H394V797.65H395V804.47H396V805.57H397V804.23H398V800.85H399V798.84H400V803.86H401V803.85H402V806.91H403V807.06H404V807.2H405V805.59H406V807.2H407V806.25H408V805H409V804.07H410V797.64H411V801.77H412V804.31H413V803.51H414V804.43H415V803.87H416V799.62H417V798.44H418V804.53H419V805.64H420V807.2H421V807.11H422V802.5H423V800.86H424V801.74H425V799.1H426V803.99H427V802.71H428V805.52H429V803.79H430V801.16H431V801.45H432V799.41H433V801.15H434V803.63H435V806.2H436V802.44H437V802.92H438V805.74H439V804.77H440V804.85H441V804.79H442V803.6H443V806.45H444V807.01H445V802.89H446V806.95H447V803.2H448V807.15H449V805.73H450V805.93H451V804.58H452V805.28H453V805.82H454V804.2H455V803.28H456V807.1H457V803.64H458V800.91H459V804.33H460V804.44H461V799.58H462V805.19H463V806.8H464V797.8H465V807.17H466V798.68H467V804.38H468V800.83H469V795.13H470V799H471V798.49H472V804.35H473V803.78H474V798.35H475V805.42H476V807.2H477V797.22H478V799.85H479V800.22H480V803.67H481V802.8H482V806.57H483V801.39H484V805.18H485V803.89H486V807.03H487V805.49H488V802.24H489V806.14H490V807.06H491V804.95H492V806.91H493V802.67H494V804.91H495V806.12H496V807.08H497V808Z" fill="#ff0000"/><line x1="68" y1="808" x2="497.2" y2="808" stroke="#ff4040" stroke-width="0.8"/><path d="M68 828V824.98H69V827.39H70V827.23H71V824.81H72V825.77H73V825.3H74V825.83H75V826.93H76V826.07H77V826.47H78V827.09H79V824.99H80V825.02H81V827.38H82V823.22H83V825.5H84V825.87H85V824.43H86V827.26H87V826.57H88V826.31H89V823.5H90V827.25H91V827.09H92V825.52H93V824.89H94V826.48H95V825.87H96V827.25H97V823.68H98V826.14H99V826.76H100V827.05H101V827.24H102V825.33H103V824.11H104V826.4H105V825.65H106V827.2H107V827.4H108V827.1H109V827.33H110V825.85H111V826.84H112V825.04H113V825.99H114V827.04H115V823.61H116V824.65H117V827.27H118V827.42H119V824.25H120V827.42H121V822.45H122V818.08H123V822.33H124V813.48H125V821.58H126V823.07H127V820.46H128V818.33H129V820.68H130V822.88H131V813.69H132V817.34H133V816.29H134V821.4H135V814.42H136V818.25H137V827.41H138V824.9H139V824.3H140V823.09H141V823.48H142V825.28H143V823.7H144V820.51H145V822.2H146V825.73H147V825.97H148V824.11H149V824.74H150V824.14H151V824.29H152V826.14H153V823.11H154V826.61H155V827.35H156V821.48H157V824.95H158V825.2H159V826.89H160V826.75H161V825.76H162V826.91H163V826.41H164V827.35H165V825.97H166V827.25H167V824.68H168V823.4H169V825.83H170V826.1H171V827.38H172V824.36H173V827.42H174V824.92H175V825.03H176V826.45H177V825.7H178V826.6H179V827.1H180V824.82H181V826.33H182V824.75H183V825.25H184V824.86H185V824.77H186V827.42H187V826.18H188V825.6H189V825.89H190V825.61H191V823.31H192V826.79H193V827.36H194V824.77H195V824.89H196V824.74H197V826.39H198V826.24H199V825.59H200V825.76H201V825.71H202V824.99H203V825.09H204V825.38H205V824.15H206V823.26H207V826.99H208V826.94H209V827.35H210V826.86H211V825.03H212V825.82H213V825.89H214V825.42H215V825.58H216V826.52H217V827.02H218V825.19H219V827.22H220V827.19H221V825.38H222V827.22H223V826.72H224V824.71H225V826.4H226V827.22H227V826.66H228V825.56H229V826.17H230V826.2H231V827.2H232V825.66H233V826.77H234V824.15H235V825.86H236V825.83H237V826H238V824.98H239V827.39H240V825.84H241V826.32H242V827.42H243V823.73H244V827.35H245V827.32H246V826.14H247V825.2H248V824.44H249V826.26H250V827.26H251V823.12H252V826.92H253V825.1H254V825.11H255V818H256V825.21H257V826.03H258V825.48H259V824.84H260V824.72H261V827.42H262V825.68H263V824.74H264V826.57H265V827.24H266V824.02H267V825.83H268V824.84H269V825.54H270V825.45H271V827.26H272V826.34H273V825.11H274V826.73H275V827.25H276V824.92H277V827.38H278V825.19H279V825.73H280V824.77H281V827.4H282V824.86H283V825.16H284V825.31H285V825.25H286V827.24H287V827.41H288V825.01H289V827.32H290V825.38H291V826.71H292V823.83H293V827.16H294V825.95H295V827.25H296V827.15H297V826.54H298V825.13H299V825.5H300V827.16H301V823.59H302V824.96H303V826.15H304V827.13H305V825.75H306V826.81H307V827.4H308V826.04H309V826.27H310V827.24H311V826.93H312V824.84H313V824.05H314V824.73H315V824.91H316V826.88H317V825.14H318V825.37H319V825.85H320V823.94H321V825.23H322V825.41H323V825.26H324V826.3H325V827.41H326V825.65H327V826.97H328V824.8H329V827.41H330V824.88H331V827.31H332V824.96H333V825.32H334V820.51H335V826.16H336V825.57H337V827.12H338V827.4H339V824.63H340V824.76H341V823.2H342V826.46H343V826.89H344V825.74H345V824.06H346V824.46H347V825.76H348V827.42H349V825.85H350V827.31H351V827.37H352V821.06H353V820.63H354V827.42H355V825.88H356V821H357V825.52H358V826.9H359V824.8H360V825.21H361V823.59H362V823.26H363V825.79H364V826.2H365V826.25H366V827.42H367V827.32H368V826.6H369V820.83H370V823.58H371V823.19H372V826.6H373V823.29H374V821.5H375V827.41H376V823.2H377V826.91H378V820.88H379V825.55H380V825.46H381V823.96H382V825.16H383V821.73H384V824.98H385V825.93H386V826.79H387V826.6H388V824.06H389V824.87H390V827.34H391V827.37H392V823.25H393V827.37H394V827.4H395V820.52H396V825.88H397V822.47H398V825.97H399V824.95H400V822.7H401V827.24H402V823.01H403V826.13H404V826.3H405V827.34H406V824.03H407V826.38H408V827.11H409V823.76H410V827.19H411V827.08H412V824.8H413V826.94H414V825.24H415V824.35H416V826.71H417V823.29H418V822.84H419V826.58H420V823.99H421V825.06H422V826.63H423V824.92H424V826.31H425V827.34H426V827.42H427V821.13H428V827.01H429V825.95H430V826.94H431V826.87H432V821.4H433V825.98H434V823.02H435V827.42H436V824.95H437V827.32H438V825.02H439V822.2H440V824.02H441V824.61H442V826.73H443V824.54H444V822.97H445V827.42H446V827.42H447V827.22H448V826.26H449V825.64H450V821.71H451V823.54H452V827.27H453V827.23H454V823.75H455V827.34H456V825.83H457V825.18H458V824.88H459V826.13H460V823.33H461V827.31H462V824.88H463V825.31H464V826.58H465V827.42H466V826.17H467V826.05H468V821.22H469V823.23H470V825.43H471V826.27H472V827.28H473V826.24H474V823.61H475V826.05H476V824.77H477V826.53H478V823.5H479V827.22H480V823.85H481V826.93H482V825.64H483V825.51H484V827.27H485V825.43H486V827.35H487V825.15H488V826.07H489V826.67H490V825.48H491V825.86H492V827.36H493V825.1H494V825.57H495V825.71H496V826.03H497V828Z" fill="#0000ff"/><line x1="68" y1="828" x2="497.2" y2="828" stroke="#4040ff" stroke-width="0.8"/><path d="M68 848.8V848.46H69V847.9H70V847.17H71V847.31H72V847.4H73V847.4H74V848.01H75V848.21H76V848.21H77V848.44H78V847.72H79V847.59H80V847.44H81V848.24H82V848.47H83V847.66H84V848.47H85V848.47H86V848.38H87V848.12H88V847.71H89V847.12H90V848.47H91V848.45H92V847.82H93V848.44H94V847.83H95V848.35H96V847.45H97V848.4H98V848.11H99V847.78H100V848.28H101V847.97H102V847.5H103V848.45H104V848.1H105V847.27H106V847.04H107V847.15H108V848.17H109V848.45H110V848.47H111V847.94H112V847.9H113V848.29H114V847.13H115V847.59H116V848.47H117V847.08H118V847.58H119V847.95H120V848.03H121V847.16H122V845.7H123V845.43H124V842.46H125V838.92H126V838.84H127V841.3H128V843.16H129V845.23H130V845.4H131V842.72H132V842.25H133V845.66H134V846.94H135V848.29H136V847.21H137V847.79H138V847.08H139V847H140V848.39H141V848.43H142V846.96H143V848.43H144V848.09H145V848.46H146V848.17H147V848.45H148V847.65H149V847.47H150V848.34H151V847.09H152V847.09H153V848.46H154V848.46H155V847.09H156V848.29H157V848.46H158V847.18H159V848.47H160V847.4H161V848.16H162V848.47H163V847.64H164V848.06H165V848.47H166V848.42H167V848.46H168V847.19H169V848.47H170V848.2H171V848.29H172V846.98H173V847.72H174V848.46H175V848.02H176V847.77H177V847.75H178V848.47H179V848.15H180V848.34H181V848.39H182V847.78H183V848.23H184V848.44H185V847.48H186V848.27H187V848.19H188V846.95H189V848.47H190V847.54H191V847.61H192V847.49H193V848.47H194V847.94H195V847.81H196V848.34H197V848.47H198V846.98H199V847.07H200V848.42H201V847.11H202V848.26H203V847.46H204V848.44H205V847.07H206V847.34H207V847.97H208V847.46H209V847.24H210V847.37H211V848.17H212V848.36H213V848.05H214V848.41H215V847.99H216V848.47H217V848.24H218V848.07H219V847.19H220V848.21H221V847.73H222V848.32H223V848.25H224V848.45H225V847.93H226V848.2H227V848.15H228V847.06H229V848.32H230V847.9H231V847.86H232V847.51H233V847.87H234V848.11H235V847.1H236V847.42H237V847.3H238V847.12H239V847.97H240V848.39H241V848.47H242V848.46H243V847.71H244V848.43H245V847.21H246V848.26H247V847.71H248V848.15H249V847.92H250V848.1H251V847.99H252V848.37H253V848.06H254V848.37H255V848.46H256V848.3H257V848.35H258V847.48H259V848.37H260V848.45H261V847.48H262V847.55H263V847.88H264V847.61H265V846.45H266V845.77H267V845.38H268V847.17H269V848.23H270V848.07H271V848.1H272V848.33H273V848.38H274V847.18H275V846.98H276V848.47H277V848.41H278V847.35H279V848.28H280V848.2H281V847.82H282V848.34H283V847.36H284V848.39H285V847.4H286V848.47H287V847.9H288V848.34H289V848.01H290V846.97H291V847.58H292V847.78H293V848.42H294V848H295V848.17H296V848.39H297V847.27H298V848.04H299V848.33H300V848.09H301V848.08H302V848.37H303V848.13H304V847.63H305V847.27H306V847.83H307V847.78H308V848.36H309V848.2H310V847.41H311V848.08H312V847.48H313V848.42H314V847.95H315V847.67H316V847.1H317V847.4H318V847.38H319V848.09H320V848.31H321V848.08H322V847.01H323V848.44H324V848.46H325V848.46H326V848.36H327V848.46H328V847.45H329V847.57H330V848.46H331V847.46H332V847.7H333V848.35H334V847.14H335V848H336V848.27H337V847.21H338V848.34H339V847.93H340V848.29H341V847.28H342V847.9H343V848.22H344V847.66H345V846.94H346V847.98H347V848.28H348V847.75H349V847.92H350V847.31H351V847.14H352V847.99H353V848.46H354V848.04H355V847.25H356V842.8H357V840.06H358V846.4H359V847.85H360V847.36H361V847.72H362V848.31H363V848.47H364V848.47H365V847.55H366V848.47H367V848.44H368V847.35H369V848.09H370V848.35H371V847.21H372V847.03H373V847.03H374V847.28H375V848.29H376V847.62H377V847.19H378V846.12H379V845.7H380V840.88H381V838.15H382V843.54H383V846.03H384V847H385V847.96H386V848.17H387V847.1H388V848.31H389V847.4H390V847.1H391V847.31H392V847.51H393V848.47H394V847.71H395V848.43H396V847.39H397V848.17H398V847.06H399V847.3H400V846.05H401V842.24H402V834.42H403V841.95H404V845.43H405V846.47H406V847.34H407V847.68H408V847.68H409V847.16H410V848.1H411V847.73H412V848.17H413V848.36H414V848.37H415V848.3H416V847.73H417V847.38H418V848.47H419V848.36H420V846.41H421V846.77H422V846.92H423V847.5H424V847.56H425V847.8H426V847.5H427V846.2H428V846.98H429V847.84H430V848.09H431V846.85H432V848.29H433V847.52H434V846.99H435V847.44H436V848.41H437V847.47H438V848.37H439V848.09H440V848.15H441V846.36H442V847.12H443V845.93H444V848.3H445V846.04H446V847.49H447V848.38H448V847.7H449V846.24H450V846.99H451V848.35H452V847.16H453V847.7H454V848.27H455V848.24H456V847.46H457V847.78H458V846.71H459V847.31H460V847.92H461V847.32H462V847.2H463V848.23H464V847.15H465V847.79H466V847.3H467V848.46H468V846.43H469V848.34H470V848.4H471V847.24H472V846.87H473V848.34H474V848.29H475V846.92H476V847.17H477V847.05H478V847.91H479V848.25H480V848.31H481V848H482V846.97H483V848.04H484V848.39H485V846.96H486V847.91H487V846.96H488V847.8H489V848.33H490V848.45H491V847.52H492V848.31H493V848.27H494V847.25H495V848.04H496V847.72H497V848.8Z" fill="#ff00ff"/><line x1="68" y1="848.8" x2="497.2" y2="848.8" stroke="#ff00ff" stroke-width="1"/><path d="M68 869V868.47H69V868.59H70V868.58H71V867.98H72V868.32H73V868.34H74V868.44H75V867.53H76V868.61H77V868.41H78V868.62H79V867.56H80V867.46H81V867.4H82V867.06H83V867.47H84V868.13H85V867.55H86V868.45H87V867.93H88V868.6H89V866.88H90V867.84H91V868.35H92V867.08H93V868.09H94V868.58H95V868.49H96V868.4H97V868.57H98V867.18H99V868.62H100V868.54H101V868.5H102V868.62H103V868.3H104V867.1H105V867.64H106V868.44H107V868.14H108V867.78H109V868.14H110V868.1H111V868.3H112V868.61H113V867.97H114V868.51H115V868.16H116V867.89H117V867.38H118V867.64H119V866.67H120V866.02H121V864.77H122V864.92H123V865.74H124V864.77H125V864.62H126V862.31H127V864.53H128V862.85H129V861.21H130V861H131V854.35H132V857.97H133V865.93H134V867.04H135V867.44H136V867.32H137V867.51H138V868.11H139V868.32H140V868.15H141V867.8H142V867.72H143V868.57H144V866.93H145V867.13H146V868.52H147V867.55H148V868.53H149V868.47H150V867.33H151V868.36H152V867.87H153V868.53H154V868.56H155V867.47H156V867.31H157V868.2H158V867.27H159V867.75H160V868.56H161V868.61H162V866.92H163V868.47H164V867.89H165V868.52H166V868.51H167V868.15H168V866.86H169V868.39H170V867.24H171V867.95H172V867.44H173V867.78H174V868.55H175V867.31H176V867.87H177V868.35H178V867.64H179V868.54H180V868.57H181V867.07H182V868.62H183V868.15H184V868.24H185V867.96H186V867.59H187V867.61H188V867.59H189V868.26H190V868.53H191V867.25H192V868.34H193V868.39H194V868.5H195V867.34H196V868.6H197V868.51H198V868.36H199V868.57H200V867.37H201V868.24H202V868.2H203V866.88H204V867.43H205V868.17H206V868.13H207V867.79H208V868.34H209V867.76H210V867.23H211V867.98H212V868.3H213V868.41H214V868.21H215V867.58H216V868.48H217V867.7H218V867.49H219V868.57H220V868.21H221V868.62H222V868.55H223V868.62H224V868.5H225V868.54H226V867.55H227V868.62H228V867.84H229V867.87H230V868.6H231V868.55H232V868.42H233V867.17H234V867.28H235V868.1H236V867.29H237V868.31H238V868.33H239V868.62H240V868.16H241V868.5H242V866.97H243V867.91H244V868.52H245V867.96H246V868.18H247V868.62H248V868.44H249V868.52H250V867.23H251V868.2H252V867.23H253V868.4H254V868.6H255V867.84H256V867.47H257V867.84H258V868.05H259V868.57H260V868.46H261V868.58H262V868.61H263V867.45H264V868.48H265V868.62H266V868.59H267V867.62H268V868.62H269V867.44H270V868.06H271V867.37H272V868.59H273V866.87H274V868.57H275V868.62H276V868.4H277V868.15H278V868.4H279V867.64H280V868.57H281V868.27H282V868.35H283V867.7H284V868.62H285V867.4H286V868.61H287V868.56H288V867.51H289V868.01H290V868.24H291V868.41H292V868.38H293V868.61H294V867.82H295V868.61H296V868.62H297V868.18H298V867.85H299V868.53H300V867.76H301V867.64H302V867.74H303V867.74H304V868.53H305V868.58H306V868.54H307V868.35H308V868.62H309V868.33H310V868.61H311V867.14H312V867.24H313V867.54H314V867.01H315V867.78H316V868.62H317V868.62H318V866.86H319V867.9H320V867.6H321V867.45H322V866.85H323V868.04H324V867.11H325V868.56H326V867.95H327V868.21H328V867.72H329V867.49H330V868.54H331V868.52H332V868.6H333V868.62H334V868.38H335V868.08H336V868.51H337V866.86H338V867.4H339V867.47H340V868.26H341V867.76H342V868.22H343V866.88H344V867.49H345V868.35H346V868.42H347V868.62H348V868.62H349V868.06H350V866.85H351V867.87H352V868.61H353V863.51H354V864.09H355V863.51H356V864.19H357V862.36H358V863.02H359V864.64H360V866.4H361V864.21H362V865.8H363V864.15H364V865.23H365V860.17H366V864.05H367V866.55H368V861.65H369V865.13H370V866.63H371V863.2H372V863.74H373V864.68H374V866.16H375V866.71H376V864.56H377V864.19H378V864.39H379V861.44H380V863.29H381V863.07H382V863.88H383V861.66H384V864.05H385V863.6H386V866.29H387V866.12H388V864.02H389V864.26H390V866.34H391V863.99H392V866.04H393V865.74H394V864H395V865.11H396V864.39H397V866.17H398V865.65H399V865.19H400V863.31H401V863.23H402V862.07H403V864.6H404V863.61H405V864.56H406V865.94H407V866.61H408V866.77H409V865.31H410V866.44H411V864.51H412V864.99H413V866.63H414V868.19H415V868.6H416V867.8H417V867.51H418V866.3H419V865.72H420V866.63H421V866.11H422V866.23H423V866.42H424V866.42H425V866.88H426V866.18H427V865.74H428V867.36H429V867.56H430V867.13H431V867.16H432V865.91H433V867.41H434V867.21H435V866.01H436V866.62H437V866.98H438V867.37H439V866.22H440V865.63H441V867.33H442V866.88H443V867.18H444V866.13H445V862.5H446V865.55H447V867.07H448V866.39H449V867.35H450V867.55H451V867.24H452V861.43H453V867.45H454V866.14H455V867.2H456V866.25H457V866.03H458V866.02H459V867.14H460V866.04H461V864.3H462V864.35H463V864.23H464V862.96H465V864.27H466V862.72H467V862.79H468V864.5H469V860.53H470V856.95H471V861.54H472V867.25H473V866.04H474V865.8H475V862.52H476V867.35H477V868.31H478V867.47H479V867.18H480V867.08H481V867.35H482V867.98H483V868.62H484V868.44H485V868.62H486V867.72H487V868.15H488V868.22H489V868.04H490V868.58H491V868.15H492V868.62H493V867.75H494V868.53H495V868H496V867.73H497V869Z" fill="#1a9a1a"/><line x1="68" y1="869" x2="497.2" y2="869" stroke="#1a9a1a" stroke-width="1"/><text x="495.33" y="680.3" font-size="9.7">50</text><text x="495.33" y="700.8" font-size="9.7">50</text><text x="495.33" y="719.8" font-size="9.7">50</text><text x="495.33" y="740.5" font-size="9.7">50</text><text x="489.9" y="760" font-size="9.7">150</text><text x="489.9" y="780.9" font-size="9.7">150</text><text x="489.9" y="802" font-size="9.7">200</text><text x="489.9" y="821.2" font-size="9.7">200</text><text x="495.33" y="840.7" font-size="9.7">60</text><text x="495.33" y="860.8" font-size="9.7">76</text><rect x="122.1" y="874.6" width="1.4" height="10.2" fill="#f0b890"/><rect x="128.6" y="874.6" width="1.9" height="10.2" fill="#c8641e"/><line x1="94.5" y1="895" x2="131" y2="895" stroke="#7b7be0" stroke-width="0.8"/><path d="M121.6 893.4L120 895L121.6 896.6" fill="none" stroke="#5555dd" stroke-width="0.7"/><path d="M126.6 893.4L125 895L126.6 896.6" fill="none" stroke="#5555dd" stroke-width="0.7"/><rect x="94.5" y="892.5" width="1" height="5" fill="#1f1fbf"/><rect x="96.3" y="891.5" width="0.8" height="7" fill="#1f1fbf"/><rect x="98" y="891.5" width="0.8" height="7" fill="#1f1fbf"/><rect x="99.7" y="891.5" width="0.8" height="7" fill="#1f1fbf"/><rect x="101.3" y="891.5" width="0.8" height="7" fill="#1f1fbf"/><rect x="103" y="891.5" width="0.8" height="7" fill="#1f1fbf"/><rect x="104.6" y="891.5" width="0.8" height="7" fill="#1f1fbf"/><rect x="107" y="891.5" width="1" height="7" fill="#1f1fbf"/><rect x="110" y="892" width="0.8" height="6" fill="#1f1fbf"/><rect x="112.5" y="892.5" width="0.8" height="5" fill="#1f1fbf"/><rect x="114.5" y="893" width="1.2" height="4" fill="#1f1fbf"/><rect x="130.6" y="893.5" width="0.8" height="3" fill="#1f1fbf"/><text x="141.8" y="898.5" font-size="10.77" font-style="italic">Bcl6</text><rect x="129.2" y="906.1" width="5.8" height="5.9" fill="#ff0000"/><text x="141.8" y="912.6" font-size="10.88" fill="#ff0000">4C anchor</text><rect x="132.1" y="922.2" width="4.4" height="4.4" fill="#000"/><text x="141.8" y="927.7" font-size="10.82">3C Primer</text><rect x="351" y="871.7" width="63.7" height="3.5" fill="#109a10"/><rect x="417" y="871.7" width="56.9" height="3.5" fill="#109a10"/><text x="358.6" y="887.7" font-size="10.88">Enhancer1</text><text x="424" y="887.7" font-size="10.94">Enhancer2</text><line x1="355.7" y1="904" x2="355.7" y2="916.4" stroke="#109a10" stroke-width="1.8"/><path d="M352.7 905.5L355.7 900.5L358.7 905.5Z" fill="#109a10"/><line x1="462.8" y1="904" x2="462.8" y2="916.4" stroke="#109a10" stroke-width="1.8"/><path d="M459.8 905.5L462.8 900.5L465.8 905.5Z" fill="#109a10"/><text x="343.1" y="927.7" font-size="10.83">3C E1</text><text x="449.7" y="927.7" font-size="10.72">3C E2</text><rect x="64.8" y="665.7" width="444.5" height="267.6" fill="none" stroke="#000" stroke-width="1.5"/><text x="520.5" y="651.1" font-size="13.5" font-weight="bold">I</text><text x="580.8" y="650.6" font-size="11" fill="#ff0000">4C-HTGTS</text><line x1="563.4" y1="683.4" x2="563.4" y2="775.9" stroke="#444" stroke-width="1"/><line x1="559.8" y1="683.4" x2="563.4" y2="683.4" stroke="#444" stroke-width="1"/><text x="545.21" y="687.3" font-size="10.8">10</text><line x1="559.8" y1="701.9" x2="563.4" y2="701.9" stroke="#444" stroke-width="1"/><text x="551.21" y="705.8" font-size="10.8">8</text><line x1="559.8" y1="720.4" x2="563.4" y2="720.4" stroke="#444" stroke-width="1"/><text x="551.21" y="724.3" font-size="10.8">6</text><line x1="559.8" y1="738.9" x2="563.4" y2="738.9" stroke="#444" stroke-width="1"/><text x="551.21" y="742.8" font-size="10.8">4</text><line x1="559.8" y1="757.4" x2="563.4" y2="757.4" stroke="#444" stroke-width="1"/><text x="551.21" y="761.3" font-size="10.8">2</text><line x1="559.8" y1="775.9" x2="563.4" y2="775.9" stroke="#444" stroke-width="1"/><text x="551.21" y="779.8" font-size="10.8">0</text><line x1="563.4" y1="775.9" x2="673.8" y2="775.9" stroke="#444" stroke-width="1"/><line x1="589" y1="775.9" x2="589" y2="778.8" stroke="#444" stroke-width="1"/><line x1="648.3" y1="775.9" x2="648.3" y2="778.8" stroke="#444" stroke-width="1"/><text x="583.01" y="790.8" font-size="10.6">E1</text><text x="643.11" y="790.8" font-size="10.6">E2</text><text x="574.6" y="690.8" font-size="10.95">0.0015</text><line x1="579" y1="694" x2="602.4" y2="694" stroke="#777" stroke-width="1"/><text x="632.9" y="718.9" font-size="10.95">0.0054</text><line x1="637.1" y1="721.8" x2="660.7" y2="721.8" stroke="#777" stroke-width="1"/><circle cx="574.1" cy="709.9" r="2.7" fill="#ff0000"/><circle cx="578.3" cy="702.5" r="2.7" fill="#ff0000"/><circle cx="582.5" cy="708.9" r="2.7" fill="#ff0000"/><line x1="570.8" y1="707" x2="585.7" y2="707" stroke="#000" stroke-width="1.3"/><circle cx="595.7" cy="728" r="2.7" fill="#0000ff"/><circle cx="595.7" cy="735.5" r="2.7" fill="#0000ff"/><circle cx="604.8" cy="733.7" r="2.7" fill="#0000ff"/><line x1="592.4" y1="732.3" x2="608.1" y2="732.3" stroke="#000" stroke-width="1.3"/><circle cx="632.2" cy="736.2" r="2.7" fill="#ff0000"/><circle cx="636.6" cy="731.3" r="2.7" fill="#ff0000"/><circle cx="641.6" cy="733.7" r="2.7" fill="#ff0000"/><line x1="629.7" y1="733" x2="644.1" y2="733" stroke="#000" stroke-width="1.3"/><circle cx="654.7" cy="743.7" r="2.7" fill="#0000ff"/><circle cx="654.7" cy="751.6" r="2.7" fill="#0000ff"/><circle cx="663.4" cy="749.1" r="2.7" fill="#0000ff"/><line x1="651.5" y1="747.1" x2="666.4" y2="747.1" stroke="#000" stroke-width="1.3"/><text transform="translate(534.4,731.2) rotate(-90)"><tspan x="-59.61" y="0" font-size="11">Relative interactions (%)</tspan></text><text x="520.5" y="824.8" font-size="14.8" font-weight="bold">J</text><text x="587" y="823.1" font-size="10.84" fill="#ff0000">3C-qPCR</text><line x1="563.4" y1="838.4" x2="563.4" y2="930.4" stroke="#888" stroke-width="1.1"/><line x1="559.8" y1="838.4" x2="563.4" y2="838.4" stroke="#888" stroke-width="1.1"/><text x="542.19" y="842.4" font-size="10.8">1.5</text><line x1="559.8" y1="869.07" x2="563.4" y2="869.07" stroke="#888" stroke-width="1.1"/><text x="542.19" y="873.07" font-size="10.8">1.0</text><line x1="559.8" y1="899.74" x2="563.4" y2="899.74" stroke="#888" stroke-width="1.1"/><text x="542.19" y="903.74" font-size="10.8">0.5</text><line x1="559.8" y1="930.41" x2="563.4" y2="930.41" stroke="#888" stroke-width="1.1"/><text x="542.19" y="934.41" font-size="10.8">0.0</text><line x1="563.4" y1="930.4" x2="609.7" y2="930.4" stroke="#888" stroke-width="1.1"/><line x1="586.2" y1="930.4" x2="586.2" y2="933.5" stroke="#888" stroke-width="1.1"/><line x1="639.5" y1="838.4" x2="639.5" y2="930.4" stroke="#999" stroke-width="1.1"/><line x1="635.9" y1="838.4" x2="639.5" y2="838.4" stroke="#999" stroke-width="1.1"/><text x="618.49" y="842.4" font-size="10.8">1.5</text><line x1="635.9" y1="869.07" x2="639.5" y2="869.07" stroke="#999" stroke-width="1.1"/><text x="618.49" y="873.07" font-size="10.8">1.0</text><line x1="635.9" y1="899.74" x2="639.5" y2="899.74" stroke="#999" stroke-width="1.1"/><text x="618.49" y="903.74" font-size="10.8">0.5</text><line x1="635.9" y1="930.41" x2="639.5" y2="930.41" stroke="#999" stroke-width="1.1"/><text x="618.49" y="934.41" font-size="10.8">0.0</text><line x1="639.5" y1="930.4" x2="690" y2="930.4" stroke="#999" stroke-width="1.1"/><line x1="661.2" y1="930.4" x2="661.2" y2="933.5" stroke="#999" stroke-width="1.1"/><text x="571.1" y="844.7" font-size="11.1">0.0110</text><line x1="575.9" y1="849" x2="597.6" y2="849" stroke="#777" stroke-width="1"/><text x="646.2" y="844.3" font-size="11.1">0.0012</text><line x1="650.2" y1="848.9" x2="673" y2="848.9" stroke="#777" stroke-width="1"/><circle cx="573.5" cy="857.2" r="2.7" fill="#ff0000"/><circle cx="580.7" cy="856" r="2.7" fill="#ff0000"/><circle cx="577.1" cy="874" r="2.7" fill="#ff0000"/><circle cx="577.1" cy="885.1" r="2.7" fill="#ff0000"/><line x1="570.1" y1="868" x2="583.8" y2="868" stroke="#000" stroke-width="1.3"/><circle cx="596.6" cy="895.7" r="2.7" fill="#0000ff"/><circle cx="596.6" cy="902.5" r="2.7" fill="#0000ff"/><circle cx="596.6" cy="909.2" r="2.7" fill="#0000ff"/><line x1="592.7" y1="902.7" x2="603.1" y2="902.7" stroke="#000" stroke-width="1.3"/><circle cx="651.9" cy="861.6" r="2.7" fill="#ff0000"/><circle cx="647.8" cy="872.6" r="2.7" fill="#ff0000"/><circle cx="651.9" cy="871.2" r="2.7" fill="#ff0000"/><circle cx="655.8" cy="872.2" r="2.7" fill="#ff0000"/><line x1="645.7" y1="869.5" x2="658.6" y2="869.5" stroke="#000" stroke-width="1.3"/><circle cx="671.7" cy="893.9" r="2.7" fill="#0000ff"/><circle cx="671.7" cy="901.7" r="2.7" fill="#0000ff"/><circle cx="671.7" cy="910.6" r="2.7" fill="#0000ff"/><line x1="665.1" y1="901.7" x2="678.4" y2="901.7" stroke="#000" stroke-width="1.3"/><text x="575.9" y="946" font-size="10.5">P-E1</text><text x="653" y="946" font-size="10.5">P-E2</text><text transform="translate(532.7,885) rotate(-90)"><tspan x="-44.03" y="0" font-size="10.85">relative interaction</tspan></text></svg></body></html>
